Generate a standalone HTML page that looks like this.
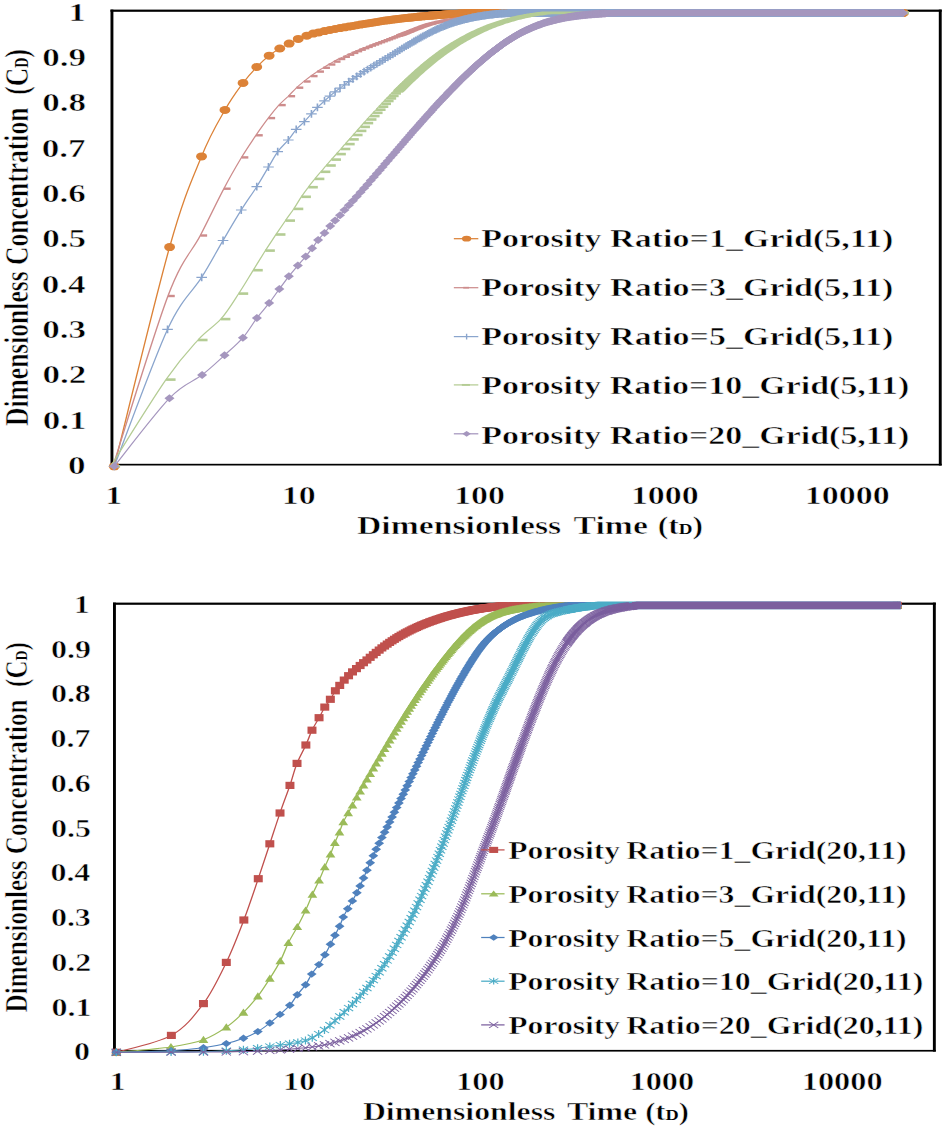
<!DOCTYPE html><html><head><meta charset="utf-8"><style>html,body{margin:0;padding:0;background:#fff;}svg{display:block;}text{font-family:"Liberation Serif",serif;font-weight:bold;fill:#000;stroke:#fff;stroke-width:0.5px;paint-order:fill;}</style></head><body>
<svg width="944" height="1128" viewBox="0 0 944 1128">
<rect width="944" height="1128" fill="#fff"/>
<defs>
<g id="tcircle"><circle r="4"/></g>
<g id="tdashp"><rect x="0" y="-1.2" width="5" height="2.4"/></g>
<g id="tplus"><path d="M-3.9,0H3.9M0,-3.9V3.9" stroke-width="1.2"/></g>
<g id="tdashg"><rect x="0" y="-1.3" width="7" height="2.6"/></g>
<g id="tdiamond"><path d="M0,-4L3.7,0L0,4L-3.7,0Z"/></g>
<g id="tsquare"><rect x="-3.3" y="-3.6" width="6.6" height="7.2"/></g>
<g id="ttriangle"><path d="M0,-4L3.6,3.2L-3.6,3.2Z"/></g>
<g id="tbdiamond"><path d="M0,-3.7L3.6,0L0,3.7L-3.6,0Z"/></g>
<g id="tasterisk"><path d="M-3.4,-3.1L3.4,3.1M-3.4,3.1L3.4,-3.1M0,-4V4" stroke-width="0.9"/></g>
<g id="txmark"><path d="M-3.4,-3.6L3.4,3.6M-3.4,3.6L3.4,-3.6" stroke-width="0.8"/></g>
<g id="bcircle"><circle r="4"/></g>
<g id="bdashp"><rect x="0" y="-1.2" width="5" height="2.4"/></g>
<g id="bplus"><path d="M-3.9,0H3.9M0,-3.9V3.9" stroke-width="1.2"/></g>
<g id="bdashg"><rect x="0" y="-1.3" width="7" height="2.6"/></g>
<g id="bdiamond"><path d="M0,-4L3.7,0L0,4L-3.7,0Z"/></g>
<g id="bsquare"><rect x="-3.3" y="-3.6" width="6.6" height="7.2"/></g>
<g id="btriangle"><path d="M0,-4L3.6,3.2L-3.6,3.2Z"/></g>
<g id="bbdiamond"><path d="M0,-3.7L3.6,0L0,3.7L-3.6,0Z"/></g>
<g id="basterisk"><path d="M-3.4,-3.1L3.4,3.1M-3.4,3.1L3.4,-3.1M0,-4V4" stroke-width="0.9"/></g>
<g id="bxmark"><path d="M-3.4,-3.6L3.4,3.6M-3.4,3.6L3.4,-3.6" stroke-width="0.8"/></g>
</defs>
<g fill="#000">
<rect x="110.5" y="9.6" width="831.2" height="2.2"/>
<rect x="110.5" y="9.6" width="2.9" height="455.9"/>
<rect x="938.8" y="9.6" width="2.9" height="455.9"/>
<rect x="110.5" y="463.8" width="831.2" height="1.7"/>
</g>
<g transform="scale(1.36 1)">
<path d="M84,466.3 C90.8,429.8 114,298.8 124.7,247.1 C135.4,195.4 141.4,179.2 148.2,156.4 C154.9,133.6 160.3,122.2 165.4,110 C170.5,97.8 174.8,90.2 178.7,83 C182.6,75.8 185.6,71.5 188.8,67 C192,62.5 195,58.8 197.9,55.7 C200.7,52.6 203.3,50.5 205.7,48.5 C208.2,46.5 210.3,45.2 212.6,43.6 C214.8,42 217.2,40.2 219.3,38.9 C221.5,37.6 223.8,36.6 225.6,35.7 C227.4,34.8 228.8,34.1 230.3,33.6 C231.7,33.1 232.9,32.8 234.3,32.4 C235.6,32 237.2,31.5 238.6,31.1 C240,30.6 241.3,30.3 242.6,29.9 C243.9,29.6 245.2,29.3 246.4,29 C247.6,28.7 248.8,28.4 250,28.1 C251.1,27.8 252.2,27.6 253.3,27.3 C254.4,27.1 255.5,26.8 256.5,26.6 C257.5,26.3 258.5,26.1 259.5,25.9 C260.5,25.6 261.4,25.4 262.3,25.2 C263.3,25 264.2,24.8 265.1,24.6 C266,24.4 266.8,24.2 267.7,24 C268.5,23.8 269.4,23.6 270.2,23.4 C271,23.2 271.8,23 272.6,22.9 C273.3,22.7 274.1,22.5 274.9,22.4 C275.6,22.2 276.3,22 277.1,21.9 C277.8,21.7 278.5,21.6 279.2,21.4 C279.9,21.3 280.6,21.2 281.3,21 C281.9,20.9 282.6,20.8 283.2,20.6 C283.9,20.5 284.5,20.4 285.2,20.3 C285.8,20.2 286.4,20 287,19.9 C287.6,19.8 288.2,19.7 288.8,19.6 C289.4,19.5 290,19.4 290.6,19.3 C291.1,19.2 291.7,19.1 292.3,19 C292.8,18.9 293.4,18.8 293.9,18.7 C294.5,18.7 295,18.6 295.5,18.5 C296,18.4 296.6,18.3 297.1,18.2 C297.6,18.2 298.1,18.1 298.6,18 C299.1,17.9 299.6,17.8 300.1,17.8 C300.6,17.7 301.1,17.6 301.5,17.6 C302,17.5 302.5,17.4 302.9,17.4 C303.4,17.3 303.9,17.2 304.3,17.2 C304.8,17.1 305.2,17 305.7,17 C306.1,16.9 306.6,16.9 307,16.8 C307.4,16.7 307.8,16.7 308.3,16.6 C308.7,16.6 309.1,16.5 309.5,16.5 C309.9,16.4 310.4,16.4 310.8,16.3 C311.2,16.3 311.6,16.2 312,16.2 C312.4,16.1 312.8,16.1 313.2,16 C313.5,16 313.9,15.9 314.3,15.9 C314.7,15.8 315.1,15.8 315.5,15.8 C315.8,15.7 316.2,15.7 316.6,15.6 C316.9,15.6 317.3,15.5 317.7,15.5 L318.8,15.4 L319.9,15.3 L321,15.2 L322.1,15 L323.2,14.9 L324.3,14.8 L325.4,14.7 L326.5,14.6 L327.6,14.5 L328.7,14.4 L329.8,14.3 L330.9,14.2 L332,14.1 L333.1,14 L334.2,13.9 L335.3,13.9 L336.4,13.8 L337.5,13.7 L338.6,13.6 L339.7,13.5 L340.8,13.4 L341.9,13.4 L343,13.3 L344.1,13.2 L345.2,13.2 L346.3,13.1 L347.5,13 L348.6,13 L349.7,12.9 L350.8,12.9 L351.9,12.9 L353,12.9 L354.1,12.9 L355.2,12.9 L356.3,12.9 L357.4,12.9 L358.5,12.9 L359.6,12.9 L360.7,12.9 L361.8,12.9 L362.9,12.9 L364,12.9 L365.1,12.9 L366.2,12.9 L367.3,12.9 L368.4,12.9 L369.5,12.9 L370.6,12.9 L371.7,12.9 L372.8,12.9 L373.9,12.9 L375,12.9 L376.1,12.9 L377.2,12.9 L378.3,12.9 L379.4,12.9 L380.5,12.9 L381.6,12.9 L382.7,12.9 L383.8,12.9 L385,12.9 L386.1,12.9 L387.2,12.9 L388.3,12.9 L389.4,12.9 L390.5,12.9 L391.6,12.9 L392.7,12.9 L393.8,12.9 L394.9,12.9 L396,12.9 L397.1,12.9 L398.2,12.9 L399.3,12.9 L400.4,12.9 L401.5,12.9 L402.6,12.9 L403.7,12.9 L404.8,12.9 L405.9,12.9 L407,12.9 L408.1,12.9 L409.2,12.9 L410.3,12.9 L411.4,12.9 L412.5,12.9 L413.6,12.9 L414.7,12.9 L415.8,12.9 L416.9,12.9 L418,12.9 L419.1,12.9 L420.2,12.9 L421.3,12.9 L422.5,12.9 L423.6,12.9 L424.7,12.9 L425.8,12.9 L426.9,12.9 L428,12.9 L429.1,12.9 L430.2,12.9 L431.3,12.9 L432.4,12.9 L433.5,12.9 L434.6,12.9 L435.7,12.9 L436.8,12.9 L437.9,12.9 L439,12.9 L440.1,12.9 L441.2,12.9 L442.3,12.9 L443.4,12.9 L444.5,12.9 L445.6,12.9 L446.7,12.9 L447.8,12.9 L448.9,12.9 L450,12.9 L451.1,12.9 L452.2,12.9 L453.3,12.9 L454.4,12.9 L455.5,12.9 L456.6,12.9 L457.7,12.9 L458.8,12.9 L460,12.9 L461.1,12.9 L462.2,12.9 L463.3,12.9 L464.4,12.9 L465.5,12.9 L466.6,12.9 L467.7,12.9 L468.8,12.9 L469.9,12.9 L471,12.9 L472.1,12.9 L473.2,12.9 L474.3,12.9 L475.4,12.9 L476.5,12.9 L477.6,12.9 L478.7,12.9 L479.8,12.9 L480.9,12.9 L482,12.9 L483.1,12.9 L484.2,12.9 L485.3,12.9 L486.4,12.9 L487.5,12.9 L488.6,12.9 L489.7,12.9 L490.8,12.9 L491.9,12.9 L493,12.9 L494.1,12.9 L495.2,12.9 L496.3,12.9 L497.5,12.9 L498.6,12.9 L499.7,12.9 L500.8,12.9 L501.9,12.9 L503,12.9 L504.1,12.9 L505.2,12.9 L506.3,12.9 L507.4,12.9 L508.5,12.9 L509.6,12.9 L510.7,12.9 L511.8,12.9 L512.9,12.9 L514,12.9 L515.1,12.9 L516.2,12.9 L517.3,12.9 L518.4,12.9 L519.5,12.9 L520.6,12.9 L521.7,12.9 L522.8,12.9 L523.9,12.9 L525,12.9 L526.1,12.9 L527.2,12.9 L528.3,12.9 L529.4,12.9 L530.5,12.9 L531.6,12.9 L532.7,12.9 L533.8,12.9 L535,12.9 L536.1,12.9 L537.2,12.9 L538.3,12.9 L539.4,12.9 L540.5,12.9 L541.6,12.9 L542.7,12.9 L543.8,12.9 L544.9,12.9 L546,12.9 L547.1,12.9 L548.2,12.9 L549.3,12.9 L550.4,12.9 L551.5,12.9 L552.6,12.9 L553.7,12.9 L554.8,12.9 L555.9,12.9 L557,12.9 L558.1,12.9 L559.2,12.9 L560.3,12.9 L561.4,12.9 L562.5,12.9 L563.6,12.9 L564.7,12.9 L565.8,12.9 L566.9,12.9 L568,12.9 L569.1,12.9 L570.2,12.9 L571.3,12.9 L572.5,12.9 L573.6,12.9 L574.7,12.9 L575.8,12.9 L576.9,12.9 L578,12.9 L579.1,12.9 L580.2,12.9 L581.3,12.9 L582.4,12.9 L583.5,12.9 L584.6,12.9 L585.7,12.9 L586.8,12.9 L587.9,12.9 L589,12.9 L590.1,12.9 L591.2,12.9 L592.3,12.9 L593.4,12.9 L594.5,12.9 L595.6,12.9 L596.7,12.9 L597.8,12.9 L598.9,12.9 L600,12.9 L601.1,12.9 L602.2,12.9 L603.3,12.9 L604.4,12.9 L605.5,12.9 L606.6,12.9 L607.7,12.9 L608.8,12.9 L610,12.9 L611.1,12.9 L612.2,12.9 L613.3,12.9 L614.4,12.9 L615.5,12.9 L616.6,12.9 L617.7,12.9 L618.8,12.9 L619.9,12.9 L621,12.9 L622.1,12.9 L623.2,12.9 L624.3,12.9 L625.4,12.9 L626.5,12.9 L627.6,12.9 L628.7,12.9 L629.8,12.9 L630.9,12.9 L632,12.9 L633.1,12.9 L634.2,12.9 L635.3,12.9 L636.4,12.9 L637.5,12.9 L638.6,12.9 L639.7,12.9 L640.8,12.9 L641.9,12.9 L643,12.9 L644.1,12.9 L645.2,12.9 L646.3,12.9 L647.5,12.9 L648.6,12.9 L649.7,12.9 L650.8,12.9 L651.9,12.9 L653,12.9 L654.1,12.9 L655.2,12.9 L656.3,12.9 L657.4,12.9 L658.5,12.9 L659.6,12.9 L660.7,12.9 L661.8,12.9 L662.9,12.9 L664,12.9 L664.1,12.9" fill="none" stroke="#DC8237" stroke-width="1"/>
<path d="M353.8,12.9 L354.9,12.9 L356,12.9 L357.1,12.9 L358.2,12.9 L359.3,12.9 L360.4,12.9 L361.5,12.9 L362.6,12.9 L363.7,12.9 L364.8,12.9 L365.9,12.9 L367,12.9 L368.1,12.9 L369.2,12.9 L370.3,12.9 L371.4,12.9 L372.5,12.9 L373.6,12.9 L374.7,12.9 L375.8,12.9 L376.9,12.9 L378,12.9 L379.1,12.9 L380.2,12.9 L381.3,12.9 L382.4,12.9 L383.5,12.9 L384.6,12.9 L385.7,12.9 L386.8,12.9 L387.9,12.9 L389,12.9 L390.1,12.9 L391.2,12.9 L392.4,12.9 L393.5,12.9 L394.6,12.9 L395.7,12.9 L396.8,12.9 L397.9,12.9 L399,12.9 L400.1,12.9 L401.2,12.9 L402.3,12.9 L403.4,12.9 L404.5,12.9 L405.6,12.9 L406.7,12.9 L407.8,12.9 L408.9,12.9 L410,12.9 L411.1,12.9 L412.2,12.9 L413.3,12.9 L414.4,12.9 L415.5,12.9 L416.6,12.9 L417.7,12.9 L418.8,12.9 L419.9,12.9 L421,12.9 L422.1,12.9 L423.2,12.9 L424.3,12.9 L425.4,12.9 L426.5,12.9 L427.6,12.9 L428.8,12.9 L429.9,12.9 L431,12.9 L432.1,12.9 L433.2,12.9 L434.3,12.9 L435.4,12.9 L436.5,12.9 L437.6,12.9 L438.7,12.9 L439.8,12.9 L440.9,12.9 L442,12.9 L443.1,12.9 L444.2,12.9 L445.3,12.9 L446.4,12.9 L447.5,12.9 L448.6,12.9 L449.7,12.9 L450.8,12.9 L451.9,12.9 L453,12.9 L454.1,12.9 L455.2,12.9 L456.3,12.9 L457.4,12.9 L458.5,12.9 L459.6,12.9 L460.7,12.9 L461.8,12.9 L462.9,12.9 L464,12.9 L465.1,12.9 L466.2,12.9 L467.4,12.9 L468.5,12.9 L469.6,12.9 L470.7,12.9 L471.8,12.9 L472.9,12.9 L474,12.9 L475.1,12.9 L476.2,12.9 L477.3,12.9 L478.4,12.9 L479.5,12.9 L480.6,12.9 L481.7,12.9 L482.8,12.9 L483.9,12.9 L485,12.9 L486.1,12.9 L487.2,12.9 L488.3,12.9 L489.4,12.9 L490.5,12.9 L491.6,12.9 L492.7,12.9 L493.8,12.9 L494.9,12.9 L496,12.9 L497.1,12.9 L498.2,12.9 L499.3,12.9 L500.4,12.9 L501.5,12.9 L502.6,12.9 L503.8,12.9 L504.9,12.9 L506,12.9 L507.1,12.9 L508.2,12.9 L509.3,12.9 L510.4,12.9 L511.5,12.9 L512.6,12.9 L513.7,12.9 L514.8,12.9 L515.9,12.9 L517,12.9 L518.1,12.9 L519.2,12.9 L520.3,12.9 L521.4,12.9 L522.5,12.9 L523.6,12.9 L524.7,12.9 L525.8,12.9 L526.9,12.9 L528,12.9 L529.1,12.9 L530.2,12.9 L531.3,12.9 L532.4,12.9 L533.5,12.9 L534.6,12.9 L535.7,12.9 L536.8,12.9 L537.9,12.9 L539,12.9 L540.1,12.9 L541.2,12.9 L542.4,12.9 L543.5,12.9 L544.6,12.9 L545.7,12.9 L546.8,12.9 L547.9,12.9 L549,12.9 L550.1,12.9 L551.2,12.9 L552.3,12.9 L553.4,12.9 L554.5,12.9 L555.6,12.9 L556.7,12.9 L557.8,12.9 L558.9,12.9 L560,12.9 L561.1,12.9 L562.2,12.9 L563.3,12.9 L564.4,12.9 L565.5,12.9 L566.6,12.9 L567.7,12.9 L568.8,12.9 L569.9,12.9 L571,12.9 L572.1,12.9 L573.2,12.9 L574.3,12.9 L575.4,12.9 L576.5,12.9 L577.6,12.9 L578.8,12.9 L579.9,12.9 L581,12.9 L582.1,12.9 L583.2,12.9 L584.3,12.9 L585.4,12.9 L586.5,12.9 L587.6,12.9 L588.7,12.9 L589.8,12.9 L590.9,12.9 L592,12.9 L593.1,12.9 L594.2,12.9 L595.3,12.9 L596.4,12.9 L597.5,12.9 L598.6,12.9 L599.7,12.9 L600.8,12.9 L601.9,12.9 L603,12.9 L604.1,12.9 L605.2,12.9 L606.3,12.9 L607.4,12.9 L608.5,12.9 L609.6,12.9 L610.7,12.9 L611.8,12.9 L612.9,12.9 L614,12.9 L615.1,12.9 L616.2,12.9 L617.4,12.9 L618.5,12.9 L619.6,12.9 L620.7,12.9 L621.8,12.9 L622.9,12.9 L624,12.9 L625.1,12.9 L626.2,12.9 L627.3,12.9 L628.4,12.9 L629.5,12.9 L630.6,12.9 L631.7,12.9 L632.8,12.9 L633.9,12.9 L635,12.9 L636.1,12.9 L637.2,12.9 L638.3,12.9 L639.4,12.9 L640.5,12.9 L641.6,12.9 L642.7,12.9 L643.8,12.9 L644.9,12.9 L646,12.9 L647.1,12.9 L648.2,12.9 L649.3,12.9 L650.4,12.9 L651.5,12.9 L652.6,12.9 L653.8,12.9 L654.9,12.9 L656,12.9 L657.1,12.9 L658.2,12.9 L659.3,12.9 L660.4,12.9 L661.5,12.9 L662.6,12.9 L663.7,12.9 L664.1,12.9" fill="none" stroke="#DC8237" stroke-width="8" stroke-linecap="round" stroke-linejoin="round"/>
<g fill="#DC8237">
<use href="#tcircle" x="84" y="466.3"/>
<use href="#tcircle" x="124.7" y="247.1"/>
<use href="#tcircle" x="148.2" y="156.4"/>
<use href="#tcircle" x="165.4" y="110"/>
<use href="#tcircle" x="178.7" y="83"/>
<use href="#tcircle" x="188.8" y="67"/>
<use href="#tcircle" x="197.9" y="55.7"/>
<use href="#tcircle" x="205.7" y="48.5"/>
<use href="#tcircle" x="212.6" y="43.6"/>
<use href="#tcircle" x="219.3" y="38.9"/>
<use href="#tcircle" x="225.6" y="35.7"/>
<use href="#tcircle" x="230.3" y="33.6"/>
<use href="#tcircle" x="234.3" y="32.4"/>
<use href="#tcircle" x="238.6" y="31.1"/>
<use href="#tcircle" x="242.6" y="29.9"/>
<use href="#tcircle" x="246.4" y="29"/>
<use href="#tcircle" x="250" y="28.1"/>
<use href="#tcircle" x="253.3" y="27.3"/>
<use href="#tcircle" x="256.5" y="26.6"/>
<use href="#tcircle" x="259.5" y="25.9"/>
<use href="#tcircle" x="262.3" y="25.2"/>
<use href="#tcircle" x="265.1" y="24.6"/>
<use href="#tcircle" x="267.7" y="24"/>
<use href="#tcircle" x="270.2" y="23.4"/>
<use href="#tcircle" x="272.6" y="22.9"/>
<use href="#tcircle" x="274.9" y="22.4"/>
<use href="#tcircle" x="277.1" y="21.9"/>
<use href="#tcircle" x="279.2" y="21.4"/>
<use href="#tcircle" x="281.3" y="21"/>
<use href="#tcircle" x="283.2" y="20.6"/>
<use href="#tcircle" x="285.2" y="20.3"/>
<use href="#tcircle" x="287" y="19.9"/>
<use href="#tcircle" x="288.8" y="19.6"/>
<use href="#tcircle" x="290.6" y="19.3"/>
<use href="#tcircle" x="292.3" y="19"/>
<use href="#tcircle" x="293.9" y="18.7"/>
<use href="#tcircle" x="295.5" y="18.5"/>
<use href="#tcircle" x="297.1" y="18.2"/>
<use href="#tcircle" x="298.6" y="18"/>
<use href="#tcircle" x="300.1" y="17.8"/>
<use href="#tcircle" x="301.5" y="17.6"/>
<use href="#tcircle" x="302.9" y="17.4"/>
<use href="#tcircle" x="304.3" y="17.2"/>
<use href="#tcircle" x="305.7" y="17"/>
<use href="#tcircle" x="307" y="16.8"/>
<use href="#tcircle" x="308.3" y="16.6"/>
<use href="#tcircle" x="309.5" y="16.5"/>
<use href="#tcircle" x="310.8" y="16.3"/>
<use href="#tcircle" x="312" y="16.2"/>
<use href="#tcircle" x="313.2" y="16"/>
<use href="#tcircle" x="314.3" y="15.9"/>
<use href="#tcircle" x="315.5" y="15.8"/>
<use href="#tcircle" x="316.6" y="15.6"/>
<use href="#tcircle" x="317.7" y="15.5"/>
<use href="#tcircle" x="318.7" y="15.4"/>
<use href="#tcircle" x="319.8" y="15.3"/>
<use href="#tcircle" x="320.8" y="15.2"/>
<use href="#tcircle" x="321.8" y="15.1"/>
<use href="#tcircle" x="322.8" y="15"/>
<use href="#tcircle" x="323.8" y="14.9"/>
<use href="#tcircle" x="324.8" y="14.8"/>
<use href="#tcircle" x="325.8" y="14.7"/>
<use href="#tcircle" x="326.7" y="14.6"/>
<use href="#tcircle" x="327.6" y="14.5"/>
<use href="#tcircle" x="328.5" y="14.4"/>
<use href="#tcircle" x="329.4" y="14.3"/>
<use href="#tcircle" x="330.3" y="14.3"/>
<use href="#tcircle" x="331.2" y="14.2"/>
<use href="#tcircle" x="332" y="14.1"/>
<use href="#tcircle" x="332.9" y="14"/>
<use href="#tcircle" x="333.7" y="14"/>
<use href="#tcircle" x="334.5" y="13.9"/>
<use href="#tcircle" x="335.3" y="13.9"/>
<use href="#tcircle" x="336.1" y="13.8"/>
<use href="#tcircle" x="336.9" y="13.7"/>
<use href="#tcircle" x="337.7" y="13.7"/>
<use href="#tcircle" x="338.4" y="13.6"/>
<use href="#tcircle" x="339.2" y="13.6"/>
<use href="#tcircle" x="339.9" y="13.5"/>
<use href="#tcircle" x="340.7" y="13.5"/>
<use href="#tcircle" x="341.4" y="13.4"/>
<use href="#tcircle" x="342.1" y="13.4"/>
<use href="#tcircle" x="342.8" y="13.3"/>
<use href="#tcircle" x="343.5" y="13.3"/>
<use href="#tcircle" x="344.2" y="13.2"/>
<use href="#tcircle" x="344.9" y="13.2"/>
<use href="#tcircle" x="345.6" y="13.1"/>
<use href="#tcircle" x="346.3" y="13.1"/>
<use href="#tcircle" x="346.9" y="13.1"/>
<use href="#tcircle" x="347.6" y="13"/>
<use href="#tcircle" x="348.2" y="13"/>
<use href="#tcircle" x="348.9" y="13"/>
<use href="#tcircle" x="349.5" y="12.9"/>
<use href="#tcircle" x="350.1" y="12.9"/>
<use href="#tcircle" x="350.7" y="12.9"/>
<use href="#tcircle" x="351.4" y="12.9"/>
<use href="#tcircle" x="352" y="12.9"/>
<use href="#tcircle" x="352.6" y="12.9"/>
<use href="#tcircle" x="353.2" y="12.9"/>
<use href="#tcircle" x="353.8" y="12.9"/>
<use href="#tcircle" x="664.1" y="12.9"/>
</g>
<path d="M83,466.3 C89.8,437.9 112.8,334.5 123.5,296 C134.2,257.5 140.4,253.4 147.3,235.5 C154.1,217.6 159.5,201.7 164.6,188.7 C169.6,175.7 173.7,166.3 177.6,157.4 C181.6,148.5 185,141.9 188.2,135.3 C191.5,128.8 194.5,123.1 197.3,118.1 C200.1,113.1 202.7,108.8 205.1,105.1 C207.6,101.4 209.8,99.1 212,96.2 C214.1,93.3 216.1,90.2 218,87.7 C219.9,85.2 221.7,83.4 223.4,81.5 C225.2,79.5 226.9,77.7 228.5,76.1 C230.2,74.5 231.7,73 233.2,71.6 C234.7,70.2 236.2,69 237.6,67.8 C239,66.6 240.3,65.5 241.6,64.5 C242.9,63.4 244.2,62.5 245.4,61.6 C246.6,60.7 247.8,59.8 248.9,59 C250.1,58.2 251.2,57.5 252.3,56.8 C253.4,56 254.4,55.4 255.5,54.7 C256.5,54.1 257.5,53.5 258.5,52.9 C259.4,52.3 260.4,51.7 261.3,51.2 C262.3,50.7 263.2,50.2 264,49.7 C264.9,49.2 265.8,48.7 266.6,48.2 C267.5,47.8 268.3,47.3 269.1,46.9 C270,46.5 270.7,46 271.5,45.6 C272.3,45.2 273.1,44.8 273.8,44.5 C274.6,44.1 275.3,43.7 276,43.3 C276.8,43 277.5,42.6 278.2,42.2 C278.9,41.9 279.5,41.6 280.2,41.2 C280.9,40.9 281.6,40.5 282.2,40.2 C282.9,39.9 283.5,39.6 284.1,39.3 C284.8,38.9 285.4,38.6 286,38.3 C286.6,38 287.2,37.7 287.8,37.4 C288.4,37.1 289,36.8 289.5,36.5 C290.1,36.2 290.7,35.9 291.2,35.6 C291.8,35.3 292.3,35 292.9,34.8 C293.4,34.5 294,34.2 294.5,33.9 C295,33.6 295.5,33.3 296.1,33.1 C296.6,32.8 297.1,32.5 297.6,32.2 C298.1,32 298.6,31.7 299.1,31.4 C299.5,31.2 300,30.9 300.5,30.6 C301,30.4 301.4,30.1 301.9,29.9 C302.4,29.6 302.8,29.4 303.3,29.1 C303.7,28.9 304.2,28.7 304.6,28.4 C305.1,28.2 305.5,28 306,27.7 C306.4,27.5 306.8,27.3 307.2,27.1 C307.7,26.9 308.1,26.7 308.5,26.5 C308.9,26.3 309.3,26.1 309.7,25.9 C310.1,25.7 310.5,25.5 310.9,25.3 C311.3,25.2 311.7,25 312.1,24.8 C312.5,24.7 312.9,24.5 313.3,24.3 C313.7,24.2 314,24 314.4,23.9 C314.8,23.8 315.2,23.6 315.5,23.5 C315.9,23.3 316.3,23.2 316.6,23.1 L317.7,22.7 L318.8,22.4 L320,22 L321.1,21.7 L322.2,21.4 L323.3,21.1 L324.4,20.8 L325.5,20.5 L326.6,20.3 L327.7,20 L328.8,19.8 L329.9,19.5 L331,19.3 L332.1,19.1 L333.2,18.9 L334.3,18.7 L335.4,18.4 L336.5,18.2 L337.6,18 L338.7,17.8 L339.8,17.6 L340.9,17.4 L342,17.3 L343.1,17.1 L344.2,16.9 L345.3,16.7 L346.4,16.5 L347.5,16.4 L348.6,16.2 L349.7,16.1 L350.8,15.9 L351.9,15.7 L353,15.6 L354.1,15.5 L355.2,15.3 L356.3,15.2 L357.5,15 L358.6,14.9 L359.7,14.8 L360.8,14.7 L361.9,14.5 L363,14.4 L364.1,14.3 L365.2,14.2 L366.3,14.1 L367.4,14 L368.5,13.9 L369.6,13.8 L370.7,13.7 L371.8,13.6 L372.9,13.5 L374,13.4 L375.1,13.4 L376.2,13.3 L377.3,13.2 L378.4,13.1 L379.5,13.1 L380.6,13 L381.7,12.9 L382.8,12.9 L383.9,12.9 L385,12.9 L386.1,12.9 L387.2,12.9 L388.3,12.9 L389.4,12.9 L390.5,12.9 L391.6,12.9 L392.7,12.9 L393.8,12.9 L395,12.9 L396.1,12.9 L397.2,12.9 L398.3,12.9 L399.4,12.9 L400.5,12.9 L401.6,12.9 L402.7,12.9 L403.8,12.9 L404.9,12.9 L406,12.9 L407.1,12.9 L408.2,12.9 L409.3,12.9 L410.4,12.9 L411.5,12.9 L412.6,12.9 L413.7,12.9 L414.8,12.9 L415.9,12.9 L417,12.9 L418.1,12.9 L419.2,12.9 L420.3,12.9 L421.4,12.9 L422.5,12.9 L423.6,12.9 L424.7,12.9 L425.8,12.9 L426.9,12.9 L428,12.9 L429.1,12.9 L430.2,12.9 L431.3,12.9 L432.5,12.9 L433.6,12.9 L434.7,12.9 L435.8,12.9 L436.9,12.9 L438,12.9 L439.1,12.9 L440.2,12.9 L441.3,12.9 L442.4,12.9 L443.5,12.9 L444.6,12.9 L445.7,12.9 L446.8,12.9 L447.9,12.9 L449,12.9 L450.1,12.9 L451.2,12.9 L452.3,12.9 L453.4,12.9 L454.5,12.9 L455.6,12.9 L456.7,12.9 L457.8,12.9 L458.9,12.9 L460,12.9 L461.1,12.9 L462.2,12.9 L463.3,12.9 L464.4,12.9 L465.5,12.9 L466.6,12.9 L467.7,12.9 L468.8,12.9 L470,12.9 L471.1,12.9 L472.2,12.9 L473.3,12.9 L474.4,12.9 L475.5,12.9 L476.6,12.9 L477.7,12.9 L478.8,12.9 L479.9,12.9 L481,12.9 L482.1,12.9 L483.2,12.9 L484.3,12.9 L485.4,12.9 L486.5,12.9 L487.6,12.9 L488.7,12.9 L489.8,12.9 L490.9,12.9 L492,12.9 L493.1,12.9 L494.2,12.9 L495.3,12.9 L496.4,12.9 L497.5,12.9 L498.6,12.9 L499.7,12.9 L500.8,12.9 L501.9,12.9 L503,12.9 L504.1,12.9 L505.2,12.9 L506.3,12.9 L507.5,12.9 L508.6,12.9 L509.7,12.9 L510.8,12.9 L511.9,12.9 L513,12.9 L514.1,12.9 L515.2,12.9 L516.3,12.9 L517.4,12.9 L518.5,12.9 L519.6,12.9 L520.7,12.9 L521.8,12.9 L522.9,12.9 L524,12.9 L525.1,12.9 L526.2,12.9 L527.3,12.9 L528.4,12.9 L529.5,12.9 L530.6,12.9 L531.7,12.9 L532.8,12.9 L533.9,12.9 L535,12.9 L536.1,12.9 L537.2,12.9 L538.3,12.9 L539.4,12.9 L540.5,12.9 L541.6,12.9 L542.7,12.9 L543.8,12.9 L545,12.9 L546.1,12.9 L547.2,12.9 L548.3,12.9 L549.4,12.9 L550.5,12.9 L551.6,12.9 L552.7,12.9 L553.8,12.9 L554.9,12.9 L556,12.9 L557.1,12.9 L558.2,12.9 L559.3,12.9 L560.4,12.9 L561.5,12.9 L562.6,12.9 L563.7,12.9 L564.8,12.9 L565.9,12.9 L567,12.9 L568.1,12.9 L569.2,12.9 L570.3,12.9 L571.4,12.9 L572.5,12.9 L573.6,12.9 L574.7,12.9 L575.8,12.9 L576.9,12.9 L578,12.9 L579.1,12.9 L580.2,12.9 L581.3,12.9 L582.5,12.9 L583.6,12.9 L584.7,12.9 L585.8,12.9 L586.9,12.9 L588,12.9 L589.1,12.9 L590.2,12.9 L591.3,12.9 L592.4,12.9 L593.5,12.9 L594.6,12.9 L595.7,12.9 L596.8,12.9 L597.9,12.9 L599,12.9 L600.1,12.9 L601.2,12.9 L602.3,12.9 L603.4,12.9 L604.5,12.9 L605.6,12.9 L606.7,12.9 L607.8,12.9 L608.9,12.9 L610,12.9 L611.1,12.9 L612.2,12.9 L613.3,12.9 L614.4,12.9 L615.5,12.9 L616.6,12.9 L617.7,12.9 L618.8,12.9 L620,12.9 L621.1,12.9 L622.2,12.9 L623.3,12.9 L624.4,12.9 L625.5,12.9 L626.6,12.9 L627.7,12.9 L628.8,12.9 L629.9,12.9 L631,12.9 L632.1,12.9 L633.2,12.9 L634.3,12.9 L635.4,12.9 L636.5,12.9 L637.6,12.9 L638.7,12.9 L639.8,12.9 L640.9,12.9 L642,12.9 L643.1,12.9 L644.2,12.9 L645.3,12.9 L646.4,12.9 L647.5,12.9 L648.6,12.9 L649.7,12.9 L650.8,12.9 L651.9,12.9 L653,12.9 L654.1,12.9 L655.2,12.9 L656.3,12.9 L657.5,12.9 L658.6,12.9 L659.7,12.9 L660.8,12.9 L661.9,12.9 L663,12.9 L663,12.9" fill="none" stroke="#CD8C8C" stroke-width="1"/>
<polygon points="291.2,34.4 292.3,33.8 293.4,33.3 294.5,32.7 295.6,32.1 296.8,31.5 297.9,30.9 299,30.3 300.1,29.7 301.2,29.1 302.3,28.5 303.4,27.9 304.5,27.3 305.6,26.7 306.7,26.2 307.8,25.6 308.9,25.1 310,24.6 311.1,24.1 312.2,23.6 313.3,23.1 314.4,22.7 315.5,22.3 316.6,21.9 317.7,21.5 318.8,21.2 319.9,20.8 321,20.5 322.1,20.2 323.2,19.9 324.3,19.6 325.4,19.3 326.5,19.1 327.6,18.8 328.7,18.6 329.8,18.4 330.9,18.1 332,17.9 333.1,17.7 334.3,17.5 335.4,17.3 336.5,17 337.6,16.8 338.7,16.6 339.8,16.4 340.9,16.3 342,16.1 343.1,15.9 344.2,15.7 345.3,15.5 346.4,15.4 347.5,15.2 348.6,15 349.7,14.9 350.8,14.7 351.9,14.6 353,14.4 354.1,14.3 355.2,14.1 356.3,14 357.4,13.8 358.5,13.7 359.6,13.6 360.7,13.5 361.8,13.3 362.9,13.2 364,13.1 365.1,13 366.2,12.9 367.3,12.8 368.4,12.7 369.5,12.6 370.6,12.5 371.8,12.4 372.9,12.3 374,12.2 375.1,12.2 376.2,12.1 377.3,12 378.4,11.9 379.5,11.9 380.6,11.8 381.7,11.7 382.8,11.7 383.9,11.7 385,11.7 386.1,11.7 387.2,11.7 388.3,11.7 389.4,11.7 390.5,11.7 391.6,11.7 392.7,11.7 393.8,11.7 394.9,11.7 396,11.7 397.1,11.7 398.2,11.7 399.3,11.7 400.4,11.7 401.5,11.7 402.6,11.7 403.7,11.7 404.8,11.7 405.9,11.7 407,11.7 408.1,11.7 409.3,11.7 410.4,11.7 411.5,11.7 412.6,11.7 413.7,11.7 414.8,11.7 415.9,11.7 417,11.7 418.1,11.7 419.2,11.7 420.3,11.7 421.4,11.7 422.5,11.7 423.6,11.7 424.7,11.7 425.8,11.7 426.9,11.7 428,11.7 429.1,11.7 430.2,11.7 431.3,11.7 432.4,11.7 433.5,11.7 434.6,11.7 435.7,11.7 436.8,11.7 437.9,11.7 439,11.7 440.1,11.7 441.2,11.7 442.3,11.7 443.4,11.7 444.5,11.7 445.6,11.7 446.8,11.7 447.9,11.7 449,11.7 450.1,11.7 451.2,11.7 452.3,11.7 453.4,11.7 454.5,11.7 455.6,11.7 456.7,11.7 457.8,11.7 458.9,11.7 460,11.7 461.1,11.7 462.2,11.7 463.3,11.7 464.4,11.7 465.5,11.7 466.6,11.7 467.7,11.7 468.8,11.7 469.9,11.7 471,11.7 472.1,11.7 473.2,11.7 474.3,11.7 475.4,11.7 476.5,11.7 477.6,11.7 478.7,11.7 479.8,11.7 480.9,11.7 482,11.7 483.1,11.7 484.3,11.7 485.4,11.7 486.5,11.7 487.6,11.7 488.7,11.7 489.8,11.7 490.9,11.7 492,11.7 493.1,11.7 494.2,11.7 495.3,11.7 496.4,11.7 497.5,11.7 498.6,11.7 499.7,11.7 500.8,11.7 501.9,11.7 503,11.7 504.1,11.7 505.2,11.7 506.3,11.7 507.4,11.7 508.5,11.7 509.6,11.7 510.7,11.7 511.8,11.7 512.9,11.7 514,11.7 515.1,11.7 516.2,11.7 517.3,11.7 518.4,11.7 519.5,11.7 520.6,11.7 521.8,11.7 522.9,11.7 524,11.7 525.1,11.7 526.2,11.7 527.3,11.7 528.4,11.7 529.5,11.7 530.6,11.7 531.7,11.7 532.8,11.7 533.9,11.7 535,11.7 536.1,11.7 537.2,11.7 538.3,11.7 539.4,11.7 540.5,11.7 541.6,11.7 542.7,11.7 543.8,11.7 544.9,11.7 546,11.7 547.1,11.7 548.2,11.7 549.3,11.7 550.4,11.7 551.5,11.7 552.6,11.7 553.7,11.7 554.8,11.7 555.9,11.7 557,11.7 558.1,11.7 559.3,11.7 560.4,11.7 561.5,11.7 562.6,11.7 563.7,11.7 564.8,11.7 565.9,11.7 567,11.7 568.1,11.7 569.2,11.7 570.3,11.7 571.4,11.7 572.5,11.7 573.6,11.7 574.7,11.7 575.8,11.7 576.9,11.7 578,11.7 579.1,11.7 580.2,11.7 581.3,11.7 582.4,11.7 583.5,11.7 584.6,11.7 585.7,11.7 586.8,11.7 587.9,11.7 589,11.7 590.1,11.7 591.2,11.7 592.3,11.7 593.4,11.7 594.5,11.7 595.6,11.7 596.8,11.7 597.9,11.7 599,11.7 600.1,11.7 601.2,11.7 602.3,11.7 603.4,11.7 604.5,11.7 605.6,11.7 606.7,11.7 607.8,11.7 608.9,11.7 610,11.7 611.1,11.7 612.2,11.7 613.3,11.7 614.4,11.7 615.5,11.7 616.6,11.7 617.7,11.7 618.8,11.7 619.9,11.7 621,11.7 622.1,11.7 623.2,11.7 624.3,11.7 625.4,11.7 626.5,11.7 627.6,11.7 628.7,11.7 629.8,11.7 630.9,11.7 632,11.7 633.1,11.7 634.3,11.7 635.4,11.7 636.5,11.7 637.6,11.7 638.7,11.7 639.8,11.7 640.9,11.7 642,11.7 643.1,11.7 644.2,11.7 645.3,11.7 646.4,11.7 647.5,11.7 648.6,11.7 649.7,11.7 650.8,11.7 651.9,11.7 653,11.7 654.1,11.7 655.2,11.7 656.3,11.7 657.4,11.7 658.5,11.7 659.6,11.7 660.7,11.7 661.8,11.7 662.9,11.7 664,11.7 665.1,11.7 666.2,11.7 667.3,11.7 668,11.7 668,14.1 667.3,14.1 666.2,14.1 665.1,14.1 664,14.1 662.9,14.1 661.8,14.1 660.7,14.1 659.6,14.1 658.5,14.1 657.4,14.1 656.3,14.1 655.2,14.1 654.1,14.1 653,14.1 651.9,14.1 650.8,14.1 649.7,14.1 648.6,14.1 647.5,14.1 646.4,14.1 645.3,14.1 644.2,14.1 643.1,14.1 642,14.1 640.9,14.1 639.8,14.1 638.7,14.1 637.6,14.1 636.5,14.1 635.4,14.1 634.3,14.1 633.1,14.1 632,14.1 630.9,14.1 629.8,14.1 628.7,14.1 627.6,14.1 626.5,14.1 625.4,14.1 624.3,14.1 623.2,14.1 622.1,14.1 621,14.1 619.9,14.1 618.8,14.1 617.7,14.1 616.6,14.1 615.5,14.1 614.4,14.1 613.3,14.1 612.2,14.1 611.1,14.1 610,14.1 608.9,14.1 607.8,14.1 606.7,14.1 605.6,14.1 604.5,14.1 603.4,14.1 602.3,14.1 601.2,14.1 600.1,14.1 599,14.1 597.9,14.1 596.8,14.1 595.6,14.1 594.5,14.1 593.4,14.1 592.3,14.1 591.2,14.1 590.1,14.1 589,14.1 587.9,14.1 586.8,14.1 585.7,14.1 584.6,14.1 583.5,14.1 582.4,14.1 581.3,14.1 580.2,14.1 579.1,14.1 578,14.1 576.9,14.1 575.8,14.1 574.7,14.1 573.6,14.1 572.5,14.1 571.4,14.1 570.3,14.1 569.2,14.1 568.1,14.1 567,14.1 565.9,14.1 564.8,14.1 563.7,14.1 562.6,14.1 561.5,14.1 560.4,14.1 559.3,14.1 558.1,14.1 557,14.1 555.9,14.1 554.8,14.1 553.7,14.1 552.6,14.1 551.5,14.1 550.4,14.1 549.3,14.1 548.2,14.1 547.1,14.1 546,14.1 544.9,14.1 543.8,14.1 542.7,14.1 541.6,14.1 540.5,14.1 539.4,14.1 538.3,14.1 537.2,14.1 536.1,14.1 535,14.1 533.9,14.1 532.8,14.1 531.7,14.1 530.6,14.1 529.5,14.1 528.4,14.1 527.3,14.1 526.2,14.1 525.1,14.1 524,14.1 522.9,14.1 521.8,14.1 520.6,14.1 519.5,14.1 518.4,14.1 517.3,14.1 516.2,14.1 515.1,14.1 514,14.1 512.9,14.1 511.8,14.1 510.7,14.1 509.6,14.1 508.5,14.1 507.4,14.1 506.3,14.1 505.2,14.1 504.1,14.1 503,14.1 501.9,14.1 500.8,14.1 499.7,14.1 498.6,14.1 497.5,14.1 496.4,14.1 495.3,14.1 494.2,14.1 493.1,14.1 492,14.1 490.9,14.1 489.8,14.1 488.7,14.1 487.6,14.1 486.5,14.1 485.4,14.1 484.3,14.1 483.1,14.1 482,14.1 480.9,14.1 479.8,14.1 478.7,14.1 477.6,14.1 476.5,14.1 475.4,14.1 474.3,14.1 473.2,14.1 472.1,14.1 471,14.1 469.9,14.1 468.8,14.1 467.7,14.1 466.6,14.1 465.5,14.1 464.4,14.1 463.3,14.1 462.2,14.1 461.1,14.1 460,14.1 458.9,14.1 457.8,14.1 456.7,14.1 455.6,14.1 454.5,14.1 453.4,14.1 452.3,14.1 451.2,14.1 450.1,14.1 449,14.1 447.9,14.1 446.8,14.1 445.6,14.1 444.5,14.1 443.4,14.1 442.3,14.1 441.2,14.1 440.1,14.1 439,14.1 437.9,14.1 436.8,14.1 435.7,14.1 434.6,14.1 433.5,14.1 432.4,14.1 431.3,14.1 430.2,14.1 429.1,14.1 428,14.1 426.9,14.1 425.8,14.1 424.7,14.1 423.6,14.1 422.5,14.1 421.4,14.1 420.3,14.1 419.2,14.1 418.1,14.1 417,14.1 415.9,14.1 414.8,14.1 413.7,14.1 412.6,14.1 411.5,14.1 410.4,14.1 409.3,14.1 408.1,14.1 407,14.1 405.9,14.1 404.8,14.1 403.7,14.1 402.6,14.1 401.5,14.1 400.4,14.1 399.3,14.1 398.2,14.1 397.1,14.1 396,14.1 394.9,14.1 393.8,14.1 392.7,14.1 391.6,14.1 390.5,14.1 389.4,14.1 388.3,14.1 387.2,14.1 386.1,14.2 385,14.2 383.9,14.3 382.8,14.4 381.7,14.4 380.6,14.5 379.5,14.6 378.4,14.7 377.3,14.8 376.2,14.9 375.1,14.9 374,15 372.9,15.1 371.8,15.2 370.6,15.3 369.5,15.5 368.4,15.6 367.3,15.7 366.2,15.8 365.1,15.9 364,16 362.9,16.2 361.8,16.3 360.7,16.4 359.6,16.6 358.5,16.7 357.4,16.9 356.3,17 355.2,17.2 354.1,17.3 353,17.5 351.9,17.7 350.8,17.8 349.7,18 348.6,18.2 347.5,18.4 346.4,18.6 345.3,18.8 344.2,18.9 343.1,19.1 342,19.3 340.9,19.6 339.8,19.8 338.7,20 337.6,20.2 336.5,20.4 335.4,20.6 334.3,20.9 333.1,21.1 332,21.4 330.9,21.6 329.8,21.9 328.7,22.2 327.6,22.5 326.5,22.8 325.4,23.1 324.3,23.4 323.2,23.8 322.1,24.1 321,24.5 319.9,24.9 318.8,25.3 317.7,25.8 316.6,26.3 315.5,26.7 314.4,27.3 313.3,27.8 312.2,28.3 311.1,28.9 310,29.4 308.9,30 307.8,30.6 306.7,31.2 305.6,31.8 304.5,32.4 303.4,33 302.3,33.6 301.2,34.2 300.1,34.8 299,35.4 297.9,36 296.8,36.6 295.6,36.8 294.5,36.8 293.4,36.8 292.3,36.8 291.2,36.8" fill="#CD8C8C"/>
<g fill="#CD8C8C">
<use href="#tdashp" x="83" y="466.3"/>
<use href="#tdashp" x="123.5" y="296"/>
<use href="#tdashp" x="147.3" y="235.5"/>
<use href="#tdashp" x="164.6" y="188.7"/>
<use href="#tdashp" x="177.6" y="157.4"/>
<use href="#tdashp" x="188.2" y="135.3"/>
<use href="#tdashp" x="197.3" y="118.1"/>
<use href="#tdashp" x="205.1" y="105.1"/>
<use href="#tdashp" x="212" y="96.2"/>
<use href="#tdashp" x="218" y="87.7"/>
<use href="#tdashp" x="223.4" y="81.5"/>
<use href="#tdashp" x="228.5" y="76.1"/>
<use href="#tdashp" x="233.2" y="71.6"/>
<use href="#tdashp" x="237.6" y="67.8"/>
<use href="#tdashp" x="241.6" y="64.5"/>
<use href="#tdashp" x="245.4" y="61.6"/>
<use href="#tdashp" x="248.9" y="59"/>
<use href="#tdashp" x="252.3" y="56.8"/>
<use href="#tdashp" x="255.5" y="54.7"/>
<use href="#tdashp" x="258.5" y="52.9"/>
<use href="#tdashp" x="261.3" y="51.2"/>
<use href="#tdashp" x="264" y="49.7"/>
<use href="#tdashp" x="266.6" y="48.2"/>
<use href="#tdashp" x="269.1" y="46.9"/>
<use href="#tdashp" x="271.5" y="45.6"/>
<use href="#tdashp" x="273.8" y="44.5"/>
<use href="#tdashp" x="276" y="43.3"/>
<use href="#tdashp" x="278.2" y="42.2"/>
<use href="#tdashp" x="280.2" y="41.2"/>
<use href="#tdashp" x="282.2" y="40.2"/>
<use href="#tdashp" x="284.1" y="39.3"/>
<use href="#tdashp" x="286" y="38.3"/>
<use href="#tdashp" x="287.8" y="37.4"/>
<use href="#tdashp" x="289.5" y="36.5"/>
<use href="#tdashp" x="291.2" y="35.6"/>
<use href="#tdashp" x="292.9" y="34.8"/>
<use href="#tdashp" x="294.5" y="33.9"/>
<use href="#tdashp" x="296.1" y="33.1"/>
<use href="#tdashp" x="297.6" y="32.2"/>
<use href="#tdashp" x="299.1" y="31.4"/>
<use href="#tdashp" x="663" y="12.9"/>
</g>
<path d="M84,466.3 C90.6,443.5 112.5,360.8 123.2,329.3 C133.9,297.8 141.5,292.1 148.3,277.3 C155.1,262.5 159.1,251.7 164,240.5 C168.8,229.3 173.2,219 177.4,210 C181.5,201 185.5,193.8 188.8,186.6 C192.2,179.4 194.9,172.8 197.4,167 C200,161.2 201.8,156.2 204.2,151.7 C206.6,147.2 209.7,143.7 212,140 C214.3,136.3 215.8,132.5 217.8,129.4 C219.8,126.4 221.9,124.3 223.8,121.7 C225.6,119.1 227.4,116.2 229,113.8 C230.6,111.4 231.8,109.5 233.4,107.4 C235,105.3 237.1,102.8 238.6,100.9 C240.1,99 241.3,97.6 242.6,96.1 C243.9,94.6 245.2,93.2 246.4,91.9 C247.6,90.6 248.8,89.3 250,88.1 C251.1,87 252.2,85.8 253.3,84.8 C254.4,83.7 255.5,82.7 256.5,81.7 C257.5,80.7 258.5,79.8 259.5,78.9 C260.5,78 261.4,77.2 262.3,76.3 C263.3,75.5 264.2,74.7 265.1,73.9 C266,73.2 266.8,72.4 267.7,71.7 C268.5,71 269.4,70.3 270.2,69.6 C271,68.9 271.8,68.3 272.6,67.6 C273.3,67 274.1,66.3 274.9,65.7 C275.6,65.1 276.3,64.5 277.1,63.9 C277.8,63.3 278.5,62.7 279.2,62.2 C279.9,61.6 280.6,61.1 281.3,60.5 C281.9,60 282.6,59.4 283.2,58.9 C283.9,58.4 284.5,57.8 285.2,57.3 C285.8,56.8 286.4,56.3 287,55.8 C287.6,55.3 288.2,54.8 288.8,54.3 C289.4,53.8 290,53.3 290.6,52.9 C291.1,52.4 291.7,51.9 292.3,51.4 C292.8,51 293.4,50.5 293.9,50.1 C294.5,49.6 295,49.2 295.5,48.7 C296,48.3 296.6,47.9 297.1,47.4 C297.6,47 298.1,46.6 298.6,46.2 C299.1,45.8 299.6,45.4 300.1,45 C300.6,44.6 301.1,44.2 301.5,43.8 C302,43.4 302.5,43 302.9,42.7 C303.4,42.3 303.9,41.9 304.3,41.5 C304.8,41.2 305.2,40.8 305.7,40.5 C306.1,40.1 306.6,39.8 307,39.4 C307.4,39.1 307.8,38.8 308.3,38.4 C308.7,38.1 309.1,37.8 309.5,37.5 C309.9,37.2 310.4,36.8 310.8,36.5 C311.2,36.2 311.6,35.9 312,35.6 C312.4,35.3 312.8,35.1 313.2,34.8 C313.5,34.5 313.9,34.2 314.3,33.9 C314.7,33.7 315.1,33.4 315.5,33.1 C315.8,32.9 316.2,32.6 316.6,32.3 C316.9,32.1 317.3,31.8 317.7,31.6 L318.8,30.8 L319.9,30.1 L321,29.4 L322.1,28.7 L323.2,28.1 L324.3,27.4 L325.4,26.8 L326.5,26.1 L327.6,25.5 L328.7,25 L329.8,24.4 L330.9,23.9 L332,23.3 L333.1,22.8 L334.2,22.3 L335.3,21.8 L336.4,21.4 L337.5,20.9 L338.6,20.5 L339.7,20.1 L340.8,19.7 L341.9,19.3 L343,18.9 L344.1,18.6 L345.2,18.2 L346.3,17.9 L347.5,17.6 L348.6,17.3 L349.7,17 L350.8,16.7 L351.9,16.4 L353,16.2 L354.1,15.9 L355.2,15.7 L356.3,15.5 L357.4,15.3 L358.5,15 L359.6,14.9 L360.7,14.7 L361.8,14.5 L362.9,14.3 L364,14.2 L365.1,14 L366.2,13.9 L367.3,13.7 L368.4,13.6 L369.5,13.5 L370.6,13.4 L371.7,13.3 L372.8,13.2 L373.9,13.1 L375,13 L376.1,12.9 L377.2,12.9 L378.3,12.9 L379.4,12.9 L380.5,12.9 L381.6,12.9 L382.7,12.9 L383.8,12.9 L385,12.9 L386.1,12.9 L387.2,12.9 L388.3,12.9 L389.4,12.9 L390.5,12.9 L391.6,12.9 L392.7,12.9 L393.8,12.9 L394.9,12.9 L396,12.9 L397.1,12.9 L398.2,12.9 L399.3,12.9 L400.4,12.9 L401.5,12.9 L402.6,12.9 L403.7,12.9 L404.8,12.9 L405.9,12.9 L407,12.9 L408.1,12.9 L409.2,12.9 L410.3,12.9 L411.4,12.9 L412.5,12.9 L413.6,12.9 L414.7,12.9 L415.8,12.9 L416.9,12.9 L418,12.9 L419.1,12.9 L420.2,12.9 L421.3,12.9 L422.5,12.9 L423.6,12.9 L424.7,12.9 L425.8,12.9 L426.9,12.9 L428,12.9 L429.1,12.9 L430.2,12.9 L431.3,12.9 L432.4,12.9 L433.5,12.9 L434.6,12.9 L435.7,12.9 L436.8,12.9 L437.9,12.9 L439,12.9 L440.1,12.9 L441.2,12.9 L442.3,12.9 L443.4,12.9 L444.5,12.9 L445.6,12.9 L446.7,12.9 L447.8,12.9 L448.9,12.9 L450,12.9 L451.1,12.9 L452.2,12.9 L453.3,12.9 L454.4,12.9 L455.5,12.9 L456.6,12.9 L457.7,12.9 L458.8,12.9 L460,12.9 L461.1,12.9 L462.2,12.9 L463.3,12.9 L464.4,12.9 L465.5,12.9 L466.6,12.9 L467.7,12.9 L468.8,12.9 L469.9,12.9 L471,12.9 L472.1,12.9 L473.2,12.9 L474.3,12.9 L475.4,12.9 L476.5,12.9 L477.6,12.9 L478.7,12.9 L479.8,12.9 L480.9,12.9 L482,12.9 L483.1,12.9 L484.2,12.9 L485.3,12.9 L486.4,12.9 L487.5,12.9 L488.6,12.9 L489.7,12.9 L490.8,12.9 L491.9,12.9 L493,12.9 L494.1,12.9 L495.2,12.9 L496.3,12.9 L497.5,12.9 L498.6,12.9 L499.7,12.9 L500.8,12.9 L501.9,12.9 L503,12.9 L504.1,12.9 L505.2,12.9 L506.3,12.9 L507.4,12.9 L508.5,12.9 L509.6,12.9 L510.7,12.9 L511.8,12.9 L512.9,12.9 L514,12.9 L515.1,12.9 L516.2,12.9 L517.3,12.9 L518.4,12.9 L519.5,12.9 L520.6,12.9 L521.7,12.9 L522.8,12.9 L523.9,12.9 L525,12.9 L526.1,12.9 L527.2,12.9 L528.3,12.9 L529.4,12.9 L530.5,12.9 L531.6,12.9 L532.7,12.9 L533.8,12.9 L535,12.9 L536.1,12.9 L537.2,12.9 L538.3,12.9 L539.4,12.9 L540.5,12.9 L541.6,12.9 L542.7,12.9 L543.8,12.9 L544.9,12.9 L546,12.9 L547.1,12.9 L548.2,12.9 L549.3,12.9 L550.4,12.9 L551.5,12.9 L552.6,12.9 L553.7,12.9 L554.8,12.9 L555.9,12.9 L557,12.9 L558.1,12.9 L559.2,12.9 L560.3,12.9 L561.4,12.9 L562.5,12.9 L563.6,12.9 L564.7,12.9 L565.8,12.9 L566.9,12.9 L568,12.9 L569.1,12.9 L570.2,12.9 L571.3,12.9 L572.5,12.9 L573.6,12.9 L574.7,12.9 L575.8,12.9 L576.9,12.9 L578,12.9 L579.1,12.9 L580.2,12.9 L581.3,12.9 L582.4,12.9 L583.5,12.9 L584.6,12.9 L585.7,12.9 L586.8,12.9 L587.9,12.9 L589,12.9 L590.1,12.9 L591.2,12.9 L592.3,12.9 L593.4,12.9 L594.5,12.9 L595.6,12.9 L596.7,12.9 L597.8,12.9 L598.9,12.9 L600,12.9 L601.1,12.9 L602.2,12.9 L603.3,12.9 L604.4,12.9 L605.5,12.9 L606.6,12.9 L607.7,12.9 L608.8,12.9 L610,12.9 L611.1,12.9 L612.2,12.9 L613.3,12.9 L614.4,12.9 L615.5,12.9 L616.6,12.9 L617.7,12.9 L618.8,12.9 L619.9,12.9 L621,12.9 L622.1,12.9 L623.2,12.9 L624.3,12.9 L625.4,12.9 L626.5,12.9 L627.6,12.9 L628.7,12.9 L629.8,12.9 L630.9,12.9 L632,12.9 L633.1,12.9 L634.2,12.9 L635.3,12.9 L636.4,12.9 L637.5,12.9 L638.6,12.9 L639.7,12.9 L640.8,12.9 L641.9,12.9 L643,12.9 L644.1,12.9 L645.2,12.9 L646.3,12.9 L647.5,12.9 L648.6,12.9 L649.7,12.9 L650.8,12.9 L651.9,12.9 L653,12.9 L654.1,12.9 L655.2,12.9 L656.3,12.9 L657.4,12.9 L658.5,12.9 L659.6,12.9 L660.7,12.9 L661.8,12.9 L662.9,12.9 L664,12.9 L664.1,12.9" fill="none" stroke="#8AA5CD" stroke-width="1"/>
<path d="M369.6,13.5 L370.7,13.4 L371.8,13.3 L372.9,13.2 L374,13.1 L375.1,13 L376.2,12.9 L377.3,12.9 L378.5,12.9 L379.6,12.9 L380.7,12.9 L381.8,12.9 L382.9,12.9 L384,12.9 L385.1,12.9 L386.2,12.9 L387.3,12.9 L388.4,12.9 L389.5,12.9 L390.6,12.9 L391.7,12.9 L392.8,12.9 L393.9,12.9 L395,12.9 L396.1,12.9 L397.2,12.9 L398.3,12.9 L399.4,12.9 L400.5,12.9 L401.6,12.9 L402.7,12.9 L403.8,12.9 L404.9,12.9 L406,12.9 L407.1,12.9 L408.2,12.9 L409.3,12.9 L410.4,12.9 L411.5,12.9 L412.6,12.9 L413.7,12.9 L414.8,12.9 L416,12.9 L417.1,12.9 L418.2,12.9 L419.3,12.9 L420.4,12.9 L421.5,12.9 L422.6,12.9 L423.7,12.9 L424.8,12.9 L425.9,12.9 L427,12.9 L428.1,12.9 L429.2,12.9 L430.3,12.9 L431.4,12.9 L432.5,12.9 L433.6,12.9 L434.7,12.9 L435.8,12.9 L436.9,12.9 L438,12.9 L439.1,12.9 L440.2,12.9 L441.3,12.9 L442.4,12.9 L443.5,12.9 L444.6,12.9 L445.7,12.9 L446.8,12.9 L447.9,12.9 L449,12.9 L450.1,12.9 L451.2,12.9 L452.3,12.9 L453.5,12.9 L454.6,12.9 L455.7,12.9 L456.8,12.9 L457.9,12.9 L459,12.9 L460.1,12.9 L461.2,12.9 L462.3,12.9 L463.4,12.9 L464.5,12.9 L465.6,12.9 L466.7,12.9 L467.8,12.9 L468.9,12.9 L470,12.9 L471.1,12.9 L472.2,12.9 L473.3,12.9 L474.4,12.9 L475.5,12.9 L476.6,12.9 L477.7,12.9 L478.8,12.9 L479.9,12.9 L481,12.9 L482.1,12.9 L483.2,12.9 L484.3,12.9 L485.4,12.9 L486.5,12.9 L487.6,12.9 L488.7,12.9 L489.8,12.9 L491,12.9 L492.1,12.9 L493.2,12.9 L494.3,12.9 L495.4,12.9 L496.5,12.9 L497.6,12.9 L498.7,12.9 L499.8,12.9 L500.9,12.9 L502,12.9 L503.1,12.9 L504.2,12.9 L505.3,12.9 L506.4,12.9 L507.5,12.9 L508.6,12.9 L509.7,12.9 L510.8,12.9 L511.9,12.9 L513,12.9 L514.1,12.9 L515.2,12.9 L516.3,12.9 L517.4,12.9 L518.5,12.9 L519.6,12.9 L520.7,12.9 L521.8,12.9 L522.9,12.9 L524,12.9 L525.1,12.9 L526.2,12.9 L527.3,12.9 L528.5,12.9 L529.6,12.9 L530.7,12.9 L531.8,12.9 L532.9,12.9 L534,12.9 L535.1,12.9 L536.2,12.9 L537.3,12.9 L538.4,12.9 L539.5,12.9 L540.6,12.9 L541.7,12.9 L542.8,12.9 L543.9,12.9 L545,12.9 L546.1,12.9 L547.2,12.9 L548.3,12.9 L549.4,12.9 L550.5,12.9 L551.6,12.9 L552.7,12.9 L553.8,12.9 L554.9,12.9 L556,12.9 L557.1,12.9 L558.2,12.9 L559.3,12.9 L560.4,12.9 L561.5,12.9 L562.6,12.9 L563.7,12.9 L564.8,12.9 L566,12.9 L567.1,12.9 L568.2,12.9 L569.3,12.9 L570.4,12.9 L571.5,12.9 L572.6,12.9 L573.7,12.9 L574.8,12.9 L575.9,12.9 L577,12.9 L578.1,12.9 L579.2,12.9 L580.3,12.9 L581.4,12.9 L582.5,12.9 L583.6,12.9 L584.7,12.9 L585.8,12.9 L586.9,12.9 L588,12.9 L589.1,12.9 L590.2,12.9 L591.3,12.9 L592.4,12.9 L593.5,12.9 L594.6,12.9 L595.7,12.9 L596.8,12.9 L597.9,12.9 L599,12.9 L600.1,12.9 L601.2,12.9 L602.3,12.9 L603.5,12.9 L604.6,12.9 L605.7,12.9 L606.8,12.9 L607.9,12.9 L609,12.9 L610.1,12.9 L611.2,12.9 L612.3,12.9 L613.4,12.9 L614.5,12.9 L615.6,12.9 L616.7,12.9 L617.8,12.9 L618.9,12.9 L620,12.9 L621.1,12.9 L622.2,12.9 L623.3,12.9 L624.4,12.9 L625.5,12.9 L626.6,12.9 L627.7,12.9 L628.8,12.9 L629.9,12.9 L631,12.9 L632.1,12.9 L633.2,12.9 L634.3,12.9 L635.4,12.9 L636.5,12.9 L637.6,12.9 L638.7,12.9 L639.8,12.9 L641,12.9 L642.1,12.9 L643.2,12.9 L644.3,12.9 L645.4,12.9 L646.5,12.9 L647.6,12.9 L648.7,12.9 L649.8,12.9 L650.9,12.9 L652,12.9 L653.1,12.9 L654.2,12.9 L655.3,12.9 L656.4,12.9 L657.5,12.9 L658.6,12.9 L659.7,12.9 L660.8,12.9 L661.9,12.9 L663,12.9 L664.1,12.9" fill="none" stroke="#8AA5CD" stroke-width="8" stroke-linecap="butt" stroke-linejoin="round"/>
<g fill="none" stroke="#8AA5CD">
<use href="#tplus" x="84" y="466.3"/>
<use href="#tplus" x="123.2" y="329.3"/>
<use href="#tplus" x="148.3" y="277.3"/>
<use href="#tplus" x="164" y="240.5"/>
<use href="#tplus" x="177.4" y="210"/>
<use href="#tplus" x="188.8" y="186.6"/>
<use href="#tplus" x="197.4" y="167"/>
<use href="#tplus" x="204.2" y="151.7"/>
<use href="#tplus" x="212" y="140"/>
<use href="#tplus" x="217.8" y="129.4"/>
<use href="#tplus" x="223.8" y="121.7"/>
<use href="#tplus" x="229" y="113.8"/>
<use href="#tplus" x="233.4" y="107.4"/>
<use href="#tplus" x="238.6" y="100.9"/>
<use href="#tplus" x="242.6" y="96.1"/>
<use href="#tplus" x="246.4" y="91.9"/>
<use href="#tplus" x="250" y="88.1"/>
<use href="#tplus" x="253.3" y="84.8"/>
<use href="#tplus" x="256.5" y="81.7"/>
<use href="#tplus" x="259.5" y="78.9"/>
<use href="#tplus" x="262.3" y="76.3"/>
<use href="#tplus" x="265.1" y="73.9"/>
<use href="#tplus" x="267.7" y="71.7"/>
<use href="#tplus" x="270.2" y="69.6"/>
<use href="#tplus" x="272.6" y="67.6"/>
<use href="#tplus" x="274.9" y="65.7"/>
<use href="#tplus" x="277.1" y="63.9"/>
<use href="#tplus" x="279.2" y="62.2"/>
<use href="#tplus" x="281.3" y="60.5"/>
<use href="#tplus" x="283.2" y="58.9"/>
<use href="#tplus" x="285.2" y="57.3"/>
<use href="#tplus" x="287" y="55.8"/>
<use href="#tplus" x="288.8" y="54.3"/>
<use href="#tplus" x="290.6" y="52.9"/>
<use href="#tplus" x="292.3" y="51.4"/>
<use href="#tplus" x="293.9" y="50.1"/>
<use href="#tplus" x="295.5" y="48.7"/>
<use href="#tplus" x="297.1" y="47.4"/>
<use href="#tplus" x="298.6" y="46.2"/>
<use href="#tplus" x="300.1" y="45"/>
<use href="#tplus" x="301.5" y="43.8"/>
<use href="#tplus" x="302.9" y="42.7"/>
<use href="#tplus" x="304.3" y="41.5"/>
<use href="#tplus" x="305.7" y="40.5"/>
<use href="#tplus" x="307" y="39.4"/>
<use href="#tplus" x="308.3" y="38.4"/>
<use href="#tplus" x="309.5" y="37.5"/>
<use href="#tplus" x="310.8" y="36.5"/>
<use href="#tplus" x="312" y="35.6"/>
<use href="#tplus" x="313.2" y="34.8"/>
<use href="#tplus" x="314.3" y="33.9"/>
<use href="#tplus" x="315.5" y="33.1"/>
<use href="#tplus" x="316.6" y="32.3"/>
<use href="#tplus" x="317.7" y="31.6"/>
<use href="#tplus" x="318.7" y="30.9"/>
<use href="#tplus" x="319.8" y="30.2"/>
<use href="#tplus" x="320.8" y="29.5"/>
<use href="#tplus" x="321.8" y="28.9"/>
<use href="#tplus" x="322.8" y="28.3"/>
<use href="#tplus" x="323.8" y="27.7"/>
<use href="#tplus" x="324.8" y="27.1"/>
<use href="#tplus" x="325.8" y="26.6"/>
<use href="#tplus" x="326.7" y="26"/>
<use href="#tplus" x="327.6" y="25.5"/>
<use href="#tplus" x="328.5" y="25.1"/>
<use href="#tplus" x="329.4" y="24.6"/>
<use href="#tplus" x="330.3" y="24.2"/>
<use href="#tplus" x="331.2" y="23.7"/>
<use href="#tplus" x="332" y="23.3"/>
<use href="#tplus" x="332.9" y="22.9"/>
<use href="#tplus" x="333.7" y="22.5"/>
<use href="#tplus" x="334.5" y="22.2"/>
<use href="#tplus" x="335.3" y="21.8"/>
<use href="#tplus" x="336.1" y="21.5"/>
<use href="#tplus" x="336.9" y="21.2"/>
<use href="#tplus" x="337.7" y="20.9"/>
<use href="#tplus" x="338.4" y="20.6"/>
<use href="#tplus" x="339.2" y="20.3"/>
<use href="#tplus" x="339.9" y="20"/>
<use href="#tplus" x="340.7" y="19.7"/>
<use href="#tplus" x="341.4" y="19.5"/>
<use href="#tplus" x="342.1" y="19.2"/>
<use href="#tplus" x="342.8" y="19"/>
<use href="#tplus" x="343.5" y="18.8"/>
<use href="#tplus" x="344.2" y="18.5"/>
<use href="#tplus" x="344.9" y="18.3"/>
<use href="#tplus" x="345.6" y="18.1"/>
<use href="#tplus" x="346.3" y="17.9"/>
<use href="#tplus" x="346.9" y="17.7"/>
<use href="#tplus" x="347.6" y="17.5"/>
<use href="#tplus" x="348.2" y="17.4"/>
<use href="#tplus" x="348.9" y="17.2"/>
<use href="#tplus" x="349.5" y="17"/>
<use href="#tplus" x="350.1" y="16.9"/>
<use href="#tplus" x="350.7" y="16.7"/>
<use href="#tplus" x="351.4" y="16.5"/>
<use href="#tplus" x="352" y="16.4"/>
<use href="#tplus" x="352.6" y="16.3"/>
<use href="#tplus" x="353.2" y="16.1"/>
<use href="#tplus" x="353.8" y="16"/>
<use href="#tplus" x="354.3" y="15.9"/>
<use href="#tplus" x="354.9" y="15.7"/>
<use href="#tplus" x="355.5" y="15.6"/>
<use href="#tplus" x="356.1" y="15.5"/>
<use href="#tplus" x="356.7" y="15.4"/>
<use href="#tplus" x="357.3" y="15.3"/>
<use href="#tplus" x="357.9" y="15.2"/>
<use href="#tplus" x="358.5" y="15.1"/>
<use href="#tplus" x="359" y="14.9"/>
<use href="#tplus" x="359.6" y="14.8"/>
<use href="#tplus" x="360.2" y="14.7"/>
<use href="#tplus" x="360.8" y="14.7"/>
<use href="#tplus" x="361.4" y="14.6"/>
<use href="#tplus" x="362" y="14.5"/>
<use href="#tplus" x="362.6" y="14.4"/>
<use href="#tplus" x="363.2" y="14.3"/>
<use href="#tplus" x="363.7" y="14.2"/>
<use href="#tplus" x="364.3" y="14.1"/>
<use href="#tplus" x="364.9" y="14"/>
<use href="#tplus" x="365.5" y="14"/>
<use href="#tplus" x="366.1" y="13.9"/>
<use href="#tplus" x="366.7" y="13.8"/>
<use href="#tplus" x="367.3" y="13.7"/>
<use href="#tplus" x="367.9" y="13.7"/>
<use href="#tplus" x="368.5" y="13.6"/>
<use href="#tplus" x="369" y="13.5"/>
<use href="#tplus" x="369.6" y="13.5"/>
<use href="#tplus" x="664.1" y="12.9"/>
</g>
<path d="M81.3,466.3 C88.1,451.9 111.3,400.7 122.1,379.6 C132.8,358.6 138.9,350.1 145.6,340 C152.3,329.9 157.4,326.8 162.4,319.1 C167.4,311.4 171.6,301.8 175.5,293.6 C179.5,285.5 182.9,277.4 186.2,270.2 C189.4,263 192.4,256.6 195.1,250.6 C197.9,244.7 200.5,239.5 202.9,234.5 C205.4,229.5 207.7,224.9 209.9,220.6 C212,216.3 214.1,212.9 216,208.9 C218,204.9 219.8,200.4 221.6,196.8 C223.4,193.2 225,190.2 226.7,187.2 C228.3,184.2 230,181.5 231.5,178.9 C233.1,176.3 234.5,174 235.9,171.8 C237.3,169.6 238.6,167.5 239.9,165.5 C241.2,163.4 242.5,161.5 243.7,159.6 C244.9,157.7 246.1,155.9 247.3,154.1 C248.4,152.4 249.5,150.6 250.6,149 C251.7,147.3 252.7,145.6 253.8,144.1 C254.8,142.5 255.8,140.9 256.8,139.4 C257.7,137.9 258.7,136.5 259.6,135 C260.6,133.6 261.5,132.2 262.4,130.9 C263.2,129.5 264.1,128.2 265,126.9 C265.8,125.6 266.6,124.3 267.4,123.1 C268.3,121.9 269.1,120.7 269.8,119.5 C270.6,118.3 271.4,117.2 272.1,116.1 C272.9,115 273.6,113.9 274.3,112.8 C275.1,111.7 275.8,110.7 276.5,109.7 C277.2,108.6 277.9,107.6 278.5,106.7 C279.2,105.7 279.9,104.7 280.5,103.8 C281.2,102.9 281.8,101.9 282.4,101 C283.1,100.1 283.7,99.3 284.3,98.4 C284.9,97.5 285.5,96.7 286.1,95.9 C286.7,95 287.3,94.2 287.8,93.4 C288.4,92.6 289,91.9 289.5,91.1 C290.1,90.3 290.7,89.6 291.2,88.8 C291.7,88.1 292.3,87.4 292.8,86.7 C293.3,86 293.8,85.3 294.4,84.6 C294.9,83.9 295.4,83.3 295.9,82.6 C296.4,81.9 296.9,81.3 297.4,80.7 C297.9,80 298.3,79.4 298.8,78.8 C299.3,78.2 299.8,77.6 300.2,77 C300.7,76.4 301.1,75.9 301.6,75.3 C302.1,74.7 302.5,74.2 302.9,73.6 C303.4,73.1 303.8,72.5 304.3,72 C304.7,71.5 305.1,71 305.6,70.5 C306,69.9 306.4,69.4 306.8,69 C307.2,68.5 307.6,68 308,67.5 C308.5,67 308.9,66.6 309.3,66.1 C309.6,65.6 310,65.2 310.4,64.7 C310.8,64.3 311.2,63.9 311.6,63.4 C312,63 312.4,62.6 312.7,62.2 C313.1,61.8 313.5,61.3 313.8,60.9 C314.2,60.5 314.6,60.1 315,59.7 L316.1,58.6 L317.2,57.4 L318.3,56.3 L319.4,55.1 L320.5,54 L321.6,52.9 L322.7,51.9 L323.8,50.8 L324.9,49.8 L326,48.8 L327.1,47.8 L328.2,46.8 L329.3,45.8 L330.4,44.8 L331.5,43.9 L332.6,43 L333.7,42.1 L334.8,41.2 L335.9,40.3 L337,39.4 L338.1,38.6 L339.2,37.7 L340.3,36.9 L341.4,36.1 L342.5,35.3 L343.6,34.6 L344.7,33.8 L345.8,33.1 L346.9,32.4 L348,31.6 L349.1,30.9 L350.2,30.3 L351.3,29.6 L352.5,28.9 L353.6,28.3 L354.7,27.7 L355.8,27.1 L356.9,26.5 L358,25.9 L359.1,25.3 L360.2,24.8 L361.3,24.2 L362.4,23.7 L363.5,23.2 L364.6,22.7 L365.7,22.2 L366.8,21.7 L367.9,21.2 L369,20.8 L370.1,20.3 L371.2,19.9 L372.3,19.5 L373.4,19.1 L374.5,18.7 L375.6,18.3 L376.7,17.9 L377.8,17.6 L378.9,17.2 L380,16.9 L381.1,16.6 L382.2,16.3 L383.3,16 L384.4,15.7 L385.5,15.4 L386.6,15.1 L387.7,14.9 L388.8,14.6 L390,14.4 L391.1,14.2 L392.2,14 L393.3,13.8 L394.4,13.6 L395.5,13.4 L396.6,13.2 L397.7,13.1 L398.8,12.9 L399.9,12.9 L401,12.9 L402.1,12.9 L403.2,12.9 L404.3,12.9 L405.4,12.9 L406.5,12.9 L407.6,12.9 L408.7,12.9 L409.8,12.9 L410.9,12.9 L412,12.9 L413.1,12.9 L414.2,12.9 L415.3,12.9 L416.4,12.9 L417.5,12.9 L418.6,12.9 L419.7,12.9 L420.8,12.9 L421.9,12.9 L423,12.9 L424.1,12.9 L425.2,12.9 L426.3,12.9 L427.5,12.9 L428.6,12.9 L429.7,12.9 L430.8,12.9 L431.9,12.9 L433,12.9 L434.1,12.9 L435.2,12.9 L436.3,12.9 L437.4,12.9 L438.5,12.9 L439.6,12.9 L440.7,12.9 L441.8,12.9 L442.9,12.9 L444,12.9 L445.1,12.9 L446.2,12.9 L447.3,12.9 L448.4,12.9 L449.5,12.9 L450.6,12.9 L451.7,12.9 L452.8,12.9 L453.9,12.9 L455,12.9 L456.1,12.9 L457.2,12.9 L458.3,12.9 L459.4,12.9 L460.5,12.9 L461.6,12.9 L462.7,12.9 L463.8,12.9 L465,12.9 L466.1,12.9 L467.2,12.9 L468.3,12.9 L469.4,12.9 L470.5,12.9 L471.6,12.9 L472.7,12.9 L473.8,12.9 L474.9,12.9 L476,12.9 L477.1,12.9 L478.2,12.9 L479.3,12.9 L480.4,12.9 L481.5,12.9 L482.6,12.9 L483.7,12.9 L484.8,12.9 L485.9,12.9 L487,12.9 L488.1,12.9 L489.2,12.9 L490.3,12.9 L491.4,12.9 L492.5,12.9 L493.6,12.9 L494.7,12.9 L495.8,12.9 L496.9,12.9 L498,12.9 L499.1,12.9 L500.2,12.9 L501.3,12.9 L502.5,12.9 L503.6,12.9 L504.7,12.9 L505.8,12.9 L506.9,12.9 L508,12.9 L509.1,12.9 L510.2,12.9 L511.3,12.9 L512.4,12.9 L513.5,12.9 L514.6,12.9 L515.7,12.9 L516.8,12.9 L517.9,12.9 L519,12.9 L520.1,12.9 L521.2,12.9 L522.3,12.9 L523.4,12.9 L524.5,12.9 L525.6,12.9 L526.7,12.9 L527.8,12.9 L528.9,12.9 L530,12.9 L531.1,12.9 L532.2,12.9 L533.3,12.9 L534.4,12.9 L535.5,12.9 L536.6,12.9 L537.7,12.9 L538.8,12.9 L540,12.9 L541.1,12.9 L542.2,12.9 L543.3,12.9 L544.4,12.9 L545.5,12.9 L546.6,12.9 L547.7,12.9 L548.8,12.9 L549.9,12.9 L551,12.9 L552.1,12.9 L553.2,12.9 L554.3,12.9 L555.4,12.9 L556.5,12.9 L557.6,12.9 L558.7,12.9 L559.8,12.9 L560.9,12.9 L562,12.9 L563.1,12.9 L564.2,12.9 L565.3,12.9 L566.4,12.9 L567.5,12.9 L568.6,12.9 L569.7,12.9 L570.8,12.9 L571.9,12.9 L573,12.9 L574.1,12.9 L575.2,12.9 L576.3,12.9 L577.5,12.9 L578.6,12.9 L579.7,12.9 L580.8,12.9 L581.9,12.9 L583,12.9 L584.1,12.9 L585.2,12.9 L586.3,12.9 L587.4,12.9 L588.5,12.9 L589.6,12.9 L590.7,12.9 L591.8,12.9 L592.9,12.9 L594,12.9 L595.1,12.9 L596.2,12.9 L597.3,12.9 L598.4,12.9 L599.5,12.9 L600.6,12.9 L601.7,12.9 L602.8,12.9 L603.9,12.9 L605,12.9 L606.1,12.9 L607.2,12.9 L608.3,12.9 L609.4,12.9 L610.5,12.9 L611.6,12.9 L612.7,12.9 L613.8,12.9 L615,12.9 L616.1,12.9 L617.2,12.9 L618.3,12.9 L619.4,12.9 L620.5,12.9 L621.6,12.9 L622.7,12.9 L623.8,12.9 L624.9,12.9 L626,12.9 L627.1,12.9 L628.2,12.9 L629.3,12.9 L630.4,12.9 L631.5,12.9 L632.6,12.9 L633.7,12.9 L634.8,12.9 L635.9,12.9 L637,12.9 L638.1,12.9 L639.2,12.9 L640.3,12.9 L641.4,12.9 L642.5,12.9 L643.6,12.9 L644.7,12.9 L645.8,12.9 L646.9,12.9 L648,12.9 L649.1,12.9 L650.2,12.9 L651.3,12.9 L652.5,12.9 L653.6,12.9 L654.7,12.9 L655.8,12.9 L656.9,12.9 L658,12.9 L659.1,12.9 L660.2,12.9 L661.3,12.9 L661.3,12.9" fill="none" stroke="#B4CC94" stroke-width="1"/>
<polygon points="289.5,89.8 290.6,88.3 291.8,86.8 292.9,85.3 294,83.8 295.1,82.4 296.2,80.9 297.3,79.5 298.4,78.1 299.5,76.7 300.6,75.3 301.7,73.9 302.8,72.5 303.9,71.2 305,69.8 306.1,68.5 307.2,67.2 308.3,65.9 309.4,64.6 310.5,63.4 311.6,62.1 312.7,60.9 313.8,59.7 314.9,58.5 316,57.3 317.1,56.2 318.2,55 319.3,53.9 320.4,52.8 321.5,51.7 322.6,50.6 323.7,49.6 324.8,48.5 325.9,47.5 327,46.5 328.1,45.5 329.3,44.5 330.4,43.6 331.5,42.6 332.6,41.7 333.7,40.8 334.8,39.9 335.9,39 337,38.2 338.1,37.3 339.2,36.5 340.3,35.7 341.4,34.9 342.5,34.1 343.6,33.3 344.7,32.5 345.8,31.8 346.9,31.1 348,30.4 349.1,29.7 350.2,29 351.3,28.3 352.4,27.7 353.5,27 354.6,26.4 355.7,25.8 356.8,25.2 357.9,24.6 359,24 360.1,23.5 361.2,22.9 362.3,22.4 363.4,21.9 364.5,21.4 365.6,20.9 366.8,20.4 367.9,19.9 369,19.5 370.1,19 371.2,18.6 372.3,18.2 373.4,17.8 374.5,17.4 375.6,17 376.7,16.6 377.8,16.3 378.9,15.9 380,15.6 381.1,15.3 382.2,15 383.3,14.7 384.4,14.4 385.5,14.1 386.6,13.9 387.7,13.6 388.8,13.4 389.9,13.1 391,12.9 392.1,12.7 393.2,12.5 394.3,12.3 395.4,12.1 396.5,11.9 397.6,11.8 398.7,11.6 399.8,11.6 400.9,11.6 402,11.6 403.1,11.6 404.3,11.6 405.4,11.6 406.5,11.6 407.6,11.6 408.7,11.6 409.8,11.6 410.9,11.6 412,11.6 413.1,11.6 414.2,11.6 415.3,11.6 416.4,11.6 417.5,11.6 418.6,11.6 419.7,11.6 420.8,11.6 421.9,11.6 423,11.6 424.1,11.6 425.2,11.6 426.3,11.6 427.4,11.6 428.5,11.6 429.6,11.6 430.7,11.6 431.8,11.6 432.9,11.6 434,11.6 435.1,11.6 436.2,11.6 437.3,11.6 438.4,11.6 439.5,11.6 440.6,11.6 441.8,11.6 442.9,11.6 444,11.6 445.1,11.6 446.2,11.6 447.3,11.6 448.4,11.6 449.5,11.6 450.6,11.6 451.7,11.6 452.8,11.6 453.9,11.6 455,11.6 456.1,11.6 457.2,11.6 458.3,11.6 459.4,11.6 460.5,11.6 461.6,11.6 462.7,11.6 463.8,11.6 464.9,11.6 466,11.6 467.1,11.6 468.2,11.6 469.3,11.6 470.4,11.6 471.5,11.6 472.6,11.6 473.7,11.6 474.8,11.6 475.9,11.6 477,11.6 478.1,11.6 479.3,11.6 480.4,11.6 481.5,11.6 482.6,11.6 483.7,11.6 484.8,11.6 485.9,11.6 487,11.6 488.1,11.6 489.2,11.6 490.3,11.6 491.4,11.6 492.5,11.6 493.6,11.6 494.7,11.6 495.8,11.6 496.9,11.6 498,11.6 499.1,11.6 500.2,11.6 501.3,11.6 502.4,11.6 503.5,11.6 504.6,11.6 505.7,11.6 506.8,11.6 507.9,11.6 509,11.6 510.1,11.6 511.2,11.6 512.3,11.6 513.4,11.6 514.5,11.6 515.6,11.6 516.8,11.6 517.9,11.6 519,11.6 520.1,11.6 521.2,11.6 522.3,11.6 523.4,11.6 524.5,11.6 525.6,11.6 526.7,11.6 527.8,11.6 528.9,11.6 530,11.6 531.1,11.6 532.2,11.6 533.3,11.6 534.4,11.6 535.5,11.6 536.6,11.6 537.7,11.6 538.8,11.6 539.9,11.6 541,11.6 542.1,11.6 543.2,11.6 544.3,11.6 545.4,11.6 546.5,11.6 547.6,11.6 548.7,11.6 549.8,11.6 550.9,11.6 552,11.6 553.1,11.6 554.3,11.6 555.4,11.6 556.5,11.6 557.6,11.6 558.7,11.6 559.8,11.6 560.9,11.6 562,11.6 563.1,11.6 564.2,11.6 565.3,11.6 566.4,11.6 567.5,11.6 568.6,11.6 569.7,11.6 570.8,11.6 571.9,11.6 573,11.6 574.1,11.6 575.2,11.6 576.3,11.6 577.4,11.6 578.5,11.6 579.6,11.6 580.7,11.6 581.8,11.6 582.9,11.6 584,11.6 585.1,11.6 586.2,11.6 587.3,11.6 588.4,11.6 589.5,11.6 590.6,11.6 591.8,11.6 592.9,11.6 594,11.6 595.1,11.6 596.2,11.6 597.3,11.6 598.4,11.6 599.5,11.6 600.6,11.6 601.7,11.6 602.8,11.6 603.9,11.6 605,11.6 606.1,11.6 607.2,11.6 608.3,11.6 609.4,11.6 610.5,11.6 611.6,11.6 612.7,11.6 613.8,11.6 614.9,11.6 616,11.6 617.1,11.6 618.2,11.6 619.3,11.6 620.4,11.6 621.5,11.6 622.6,11.6 623.7,11.6 624.8,11.6 625.9,11.6 627,11.6 628.1,11.6 629.3,11.6 630.4,11.6 631.5,11.6 632.6,11.6 633.7,11.6 634.8,11.6 635.9,11.6 637,11.6 638.1,11.6 639.2,11.6 640.3,11.6 641.4,11.6 642.5,11.6 643.6,11.6 644.7,11.6 645.8,11.6 646.9,11.6 648,11.6 649.1,11.6 650.2,11.6 651.3,11.6 652.4,11.6 653.5,11.6 654.6,11.6 655.7,11.6 656.8,11.6 657.9,11.6 659,11.6 660.1,11.6 661.2,11.6 662.3,11.6 663.4,11.6 664.5,11.6 665.6,11.6 666.8,11.6 667.9,11.6 668.3,11.6 668.3,14.2 667.9,14.2 666.8,14.2 665.6,14.2 664.5,14.2 663.4,14.2 662.3,14.2 661.2,14.2 660.1,14.2 659,14.2 657.9,14.2 656.8,14.2 655.7,14.2 654.6,14.2 653.5,14.2 652.4,14.2 651.3,14.2 650.2,14.2 649.1,14.2 648,14.2 646.9,14.2 645.8,14.2 644.7,14.2 643.6,14.2 642.5,14.2 641.4,14.2 640.3,14.2 639.2,14.2 638.1,14.2 637,14.2 635.9,14.2 634.8,14.2 633.7,14.2 632.6,14.2 631.5,14.2 630.4,14.2 629.3,14.2 628.1,14.2 627,14.2 625.9,14.2 624.8,14.2 623.7,14.2 622.6,14.2 621.5,14.2 620.4,14.2 619.3,14.2 618.2,14.2 617.1,14.2 616,14.2 614.9,14.2 613.8,14.2 612.7,14.2 611.6,14.2 610.5,14.2 609.4,14.2 608.3,14.2 607.2,14.2 606.1,14.2 605,14.2 603.9,14.2 602.8,14.2 601.7,14.2 600.6,14.2 599.5,14.2 598.4,14.2 597.3,14.2 596.2,14.2 595.1,14.2 594,14.2 592.9,14.2 591.8,14.2 590.6,14.2 589.5,14.2 588.4,14.2 587.3,14.2 586.2,14.2 585.1,14.2 584,14.2 582.9,14.2 581.8,14.2 580.7,14.2 579.6,14.2 578.5,14.2 577.4,14.2 576.3,14.2 575.2,14.2 574.1,14.2 573,14.2 571.9,14.2 570.8,14.2 569.7,14.2 568.6,14.2 567.5,14.2 566.4,14.2 565.3,14.2 564.2,14.2 563.1,14.2 562,14.2 560.9,14.2 559.8,14.2 558.7,14.2 557.6,14.2 556.5,14.2 555.4,14.2 554.3,14.2 553.1,14.2 552,14.2 550.9,14.2 549.8,14.2 548.7,14.2 547.6,14.2 546.5,14.2 545.4,14.2 544.3,14.2 543.2,14.2 542.1,14.2 541,14.2 539.9,14.2 538.8,14.2 537.7,14.2 536.6,14.2 535.5,14.2 534.4,14.2 533.3,14.2 532.2,14.2 531.1,14.2 530,14.2 528.9,14.2 527.8,14.2 526.7,14.2 525.6,14.2 524.5,14.2 523.4,14.2 522.3,14.2 521.2,14.2 520.1,14.2 519,14.2 517.9,14.2 516.8,14.2 515.6,14.2 514.5,14.2 513.4,14.2 512.3,14.2 511.2,14.2 510.1,14.2 509,14.2 507.9,14.2 506.8,14.2 505.7,14.2 504.6,14.2 503.5,14.2 502.4,14.2 501.3,14.2 500.2,14.2 499.1,14.2 498,14.2 496.9,14.2 495.8,14.2 494.7,14.2 493.6,14.2 492.5,14.2 491.4,14.2 490.3,14.2 489.2,14.2 488.1,14.2 487,14.2 485.9,14.2 484.8,14.2 483.7,14.2 482.6,14.2 481.5,14.2 480.4,14.2 479.3,14.2 478.1,14.2 477,14.2 475.9,14.2 474.8,14.2 473.7,14.2 472.6,14.2 471.5,14.2 470.4,14.2 469.3,14.2 468.2,14.2 467.1,14.2 466,14.2 464.9,14.2 463.8,14.2 462.7,14.2 461.6,14.2 460.5,14.2 459.4,14.2 458.3,14.2 457.2,14.2 456.1,14.2 455,14.2 453.9,14.2 452.8,14.2 451.7,14.2 450.6,14.2 449.5,14.2 448.4,14.2 447.3,14.2 446.2,14.2 445.1,14.2 444,14.2 442.9,14.2 441.8,14.2 440.6,14.2 439.5,14.2 438.4,14.2 437.3,14.2 436.2,14.2 435.1,14.2 434,14.2 432.9,14.2 431.8,14.2 430.7,14.2 429.6,14.2 428.5,14.2 427.4,14.2 426.3,14.2 425.2,14.2 424.1,14.2 423,14.2 421.9,14.2 420.8,14.2 419.7,14.2 418.6,14.2 417.5,14.2 416.4,14.2 415.3,14.2 414.2,14.2 413.1,14.2 412,14.2 410.9,14.2 409.8,14.2 408.7,14.2 407.6,14.2 406.5,14.2 405.4,14.3 404.3,14.4 403.1,14.6 402,14.8 400.9,15 399.8,15.2 398.7,15.4 397.6,15.6 396.5,15.8 395.4,16 394.3,16.3 393.2,16.5 392.1,16.8 391,17.1 389.9,17.4 388.8,17.7 387.7,18 386.6,18.3 385.5,18.7 384.4,19 383.3,19.4 382.2,19.7 381.1,20.1 380,20.5 378.9,20.9 377.8,21.4 376.7,21.8 375.6,22.2 374.5,22.7 373.4,23.2 372.3,23.6 371.2,24.1 370.1,24.7 369,25.2 367.9,25.7 366.8,26.3 365.6,26.8 364.5,27.4 363.4,28 362.3,28.6 361.2,29.2 360.1,29.8 359,30.5 357.9,31.2 356.8,31.8 355.7,32.5 354.6,33.2 353.5,33.9 352.4,34.7 351.3,35.4 350.2,36.2 349.1,36.9 348,37.7 346.9,38.5 345.8,39.4 344.7,40.2 343.6,41.1 342.5,41.9 341.4,42.8 340.3,43.7 339.2,44.6 338.1,45.5 337,46.5 335.9,47.5 334.8,48.4 333.7,49.4 332.6,50.4 331.5,51.5 330.4,52.5 329.3,53.6 328.1,54.7 327,55.8 325.9,56.9 324.8,58 323.7,59.2 322.6,60.3 321.5,61.5 320.4,62.7 319.3,63.9 318.2,65.2 317.1,66.4 316,67.7 314.9,69 313.8,70.3 312.7,71.6 311.6,72.9 310.5,74.2 309.4,75.6 308.3,77 307.2,78.4 306.1,79.8 305,81.2 303.9,82.6 302.8,84 301.7,85.5 300.6,87 299.5,88.4 298.4,89.9 297.3,91.4 296.2,92.4 295.1,92.4 294,92.4 292.9,92.4 291.8,92.4 290.6,92.4 289.5,92.4" fill="#B4CC94"/>
<g fill="#B4CC94">
<use href="#tdashg" x="81.3" y="466.3"/>
<use href="#tdashg" x="122.1" y="379.6"/>
<use href="#tdashg" x="145.6" y="340"/>
<use href="#tdashg" x="162.4" y="319.1"/>
<use href="#tdashg" x="175.5" y="293.6"/>
<use href="#tdashg" x="186.2" y="270.2"/>
<use href="#tdashg" x="195.1" y="250.6"/>
<use href="#tdashg" x="202.9" y="234.5"/>
<use href="#tdashg" x="209.9" y="220.6"/>
<use href="#tdashg" x="216" y="208.9"/>
<use href="#tdashg" x="221.6" y="196.8"/>
<use href="#tdashg" x="226.7" y="187.2"/>
<use href="#tdashg" x="231.5" y="178.9"/>
<use href="#tdashg" x="235.9" y="171.8"/>
<use href="#tdashg" x="239.9" y="165.5"/>
<use href="#tdashg" x="243.7" y="159.6"/>
<use href="#tdashg" x="247.3" y="154.1"/>
<use href="#tdashg" x="250.6" y="149"/>
<use href="#tdashg" x="253.8" y="144.1"/>
<use href="#tdashg" x="256.8" y="139.4"/>
<use href="#tdashg" x="259.6" y="135"/>
<use href="#tdashg" x="262.4" y="130.9"/>
<use href="#tdashg" x="265" y="126.9"/>
<use href="#tdashg" x="267.4" y="123.1"/>
<use href="#tdashg" x="269.8" y="119.5"/>
<use href="#tdashg" x="272.1" y="116.1"/>
<use href="#tdashg" x="274.3" y="112.8"/>
<use href="#tdashg" x="276.5" y="109.7"/>
<use href="#tdashg" x="278.5" y="106.7"/>
<use href="#tdashg" x="280.5" y="103.8"/>
<use href="#tdashg" x="282.4" y="101"/>
<use href="#tdashg" x="284.3" y="98.4"/>
<use href="#tdashg" x="286.1" y="95.9"/>
<use href="#tdashg" x="287.8" y="93.4"/>
<use href="#tdashg" x="289.5" y="91.1"/>
<use href="#tdashg" x="291.2" y="88.8"/>
<use href="#tdashg" x="292.8" y="86.7"/>
<use href="#tdashg" x="294.4" y="84.6"/>
<use href="#tdashg" x="295.9" y="82.6"/>
<use href="#tdashg" x="297.4" y="80.7"/>
<use href="#tdashg" x="661.3" y="12.9"/>
</g>
<path d="M84,466.3 C90.8,454.9 113.8,413.4 124.6,398.2 C135.3,383 141.8,382.1 148.6,374.9 C155.4,367.7 160.1,361.4 165.1,355.2 C170.1,349 174.6,343.9 178.6,337.7 C182.6,331.5 185.7,323.8 188.9,318 C192.1,312.2 195.2,308 197.9,303.1 C200.7,298.2 203,293.4 205.4,288.9 C207.9,284.4 210.2,280.1 212.4,276.2 C214.7,272.3 217,268.8 219,265.5 C221.1,262.2 223,259.3 224.8,256.4 C226.5,253.5 228,251 229.5,248.3 C231,245.6 232.4,242.6 233.9,240 C235.4,237.4 237.1,235.3 238.6,233 C240.1,230.7 241.5,228.1 242.8,226 C244.1,223.9 245.2,222.4 246.4,220.6 C247.6,218.8 248.8,216.9 250,215.2 C251.1,213.4 252.2,211.8 253.3,210.1 C254.4,208.5 255.5,206.9 256.5,205.3 C257.5,203.8 258.5,202.3 259.5,200.8 C260.5,199.3 261.4,197.9 262.3,196.4 C263.3,195 264.2,193.6 265.1,192.3 C266,190.9 266.8,189.6 267.7,188.2 C268.5,186.9 269.4,185.6 270.2,184.4 C271,183.1 271.8,181.8 272.6,180.6 C273.3,179.4 274.1,178.2 274.9,177 C275.6,175.8 276.3,174.7 277.1,173.5 C277.8,172.4 278.5,171.3 279.2,170.2 C279.9,169.1 280.6,168 281.3,166.9 C281.9,165.9 282.6,164.8 283.2,163.8 C283.9,162.8 284.5,161.8 285.2,160.8 C285.8,159.8 286.4,158.8 287,157.8 C287.6,156.9 288.2,155.9 288.8,155 C289.4,154 290,153.1 290.6,152.2 C291.1,151.3 291.7,150.4 292.3,149.5 C292.8,148.7 293.4,147.8 293.9,146.9 C294.5,146.1 295,145.2 295.5,144.4 C296,143.6 296.6,142.8 297.1,141.9 C297.6,141.1 298.1,140.3 298.6,139.6 C299.1,138.8 299.6,138 300.1,137.2 C300.6,136.5 301.1,135.7 301.5,135 C302,134.2 302.5,133.5 302.9,132.8 C303.4,132 303.9,131.3 304.3,130.6 C304.8,129.9 305.2,129.2 305.7,128.5 C306.1,127.9 306.6,127.2 307,126.5 C307.4,125.8 307.8,125.2 308.3,124.5 C308.7,123.9 309.1,123.2 309.5,122.6 C309.9,121.9 310.4,121.3 310.8,120.7 C311.2,120.1 311.6,119.5 312,118.8 C312.4,118.2 312.8,117.6 313.2,117 C313.5,116.5 313.9,115.9 314.3,115.3 C314.7,114.7 315.1,114.1 315.5,113.6 C315.8,113 316.2,112.4 316.6,111.9 C316.9,111.3 317.3,110.8 317.7,110.2 L318.8,108.6 L319.9,107 L321,105.3 L322.1,103.7 L323.2,102.1 L324.3,100.5 L325.4,98.9 L326.5,97.3 L327.6,95.7 L328.7,94.1 L329.8,92.5 L330.9,91 L332,89.4 L333.1,87.9 L334.2,86.4 L335.3,84.8 L336.4,83.3 L337.5,81.8 L338.6,80.4 L339.7,78.9 L340.8,77.4 L341.9,76 L343,74.5 L344.1,73.1 L345.2,71.7 L346.3,70.3 L347.5,68.9 L348.6,67.5 L349.7,66.1 L350.8,64.8 L351.9,63.5 L353,62.1 L354.1,60.8 L355.2,59.5 L356.3,58.3 L357.4,57 L358.5,55.8 L359.6,54.5 L360.7,53.3 L361.8,52.1 L362.9,51 L364,49.8 L365.1,48.7 L366.2,47.6 L367.3,46.5 L368.4,45.4 L369.5,44.3 L370.6,43.3 L371.7,42.2 L372.8,41.2 L373.9,40.2 L375,39.3 L376.1,38.3 L377.2,37.4 L378.3,36.5 L379.4,35.6 L380.5,34.8 L381.6,33.9 L382.7,33.1 L383.8,32.3 L385,31.6 L386.1,30.8 L387.2,30.1 L388.3,29.4 L389.4,28.7 L390.5,28 L391.6,27.4 L392.7,26.8 L393.8,26.2 L394.9,25.6 L396,25 L397.1,24.5 L398.2,23.9 L399.3,23.4 L400.4,22.9 L401.5,22.5 L402.6,22 L403.7,21.6 L404.8,21.1 L405.9,20.7 L407,20.3 L408.1,19.9 L409.2,19.6 L410.3,19.2 L411.4,18.9 L412.5,18.6 L413.6,18.3 L414.7,18 L415.8,17.7 L416.9,17.4 L418,17.1 L419.1,16.9 L420.2,16.7 L421.3,16.4 L422.5,16.2 L423.6,16 L424.7,15.8 L425.8,15.6 L426.9,15.4 L428,15.3 L429.1,15.1 L430.2,15 L431.3,14.8 L432.4,14.7 L433.5,14.5 L434.6,14.4 L435.7,14.3 L436.8,14.2 L437.9,14.1 L439,14 L440.1,13.9 L441.2,13.8 L442.3,13.7 L443.4,13.6 L444.5,13.5 L445.6,13.5 L446.7,13.4 L447.8,13.3 L448.9,13.2 L450,13.2 L451.1,13.1 L452.2,13.1 L453.3,13 L454.4,13 L455.5,12.9 L456.6,12.9 L457.7,12.9 L458.8,12.9 L460,12.9 L461.1,12.9 L462.2,12.9 L463.3,12.9 L464.4,12.9 L465.5,12.9 L466.6,12.9 L467.7,12.9 L468.8,12.9 L469.9,12.9 L471,12.9 L472.1,12.9 L473.2,12.9 L474.3,12.9 L475.4,12.9 L476.5,12.9 L477.6,12.9 L478.7,12.9 L479.8,12.9 L480.9,12.9 L482,12.9 L483.1,12.9 L484.2,12.9 L485.3,12.9 L486.4,12.9 L487.5,12.9 L488.6,12.9 L489.7,12.9 L490.8,12.9 L491.9,12.9 L493,12.9 L494.1,12.9 L495.2,12.9 L496.3,12.9 L497.5,12.9 L498.6,12.9 L499.7,12.9 L500.8,12.9 L501.9,12.9 L503,12.9 L504.1,12.9 L505.2,12.9 L506.3,12.9 L507.4,12.9 L508.5,12.9 L509.6,12.9 L510.7,12.9 L511.8,12.9 L512.9,12.9 L514,12.9 L515.1,12.9 L516.2,12.9 L517.3,12.9 L518.4,12.9 L519.5,12.9 L520.6,12.9 L521.7,12.9 L522.8,12.9 L523.9,12.9 L525,12.9 L526.1,12.9 L527.2,12.9 L528.3,12.9 L529.4,12.9 L530.5,12.9 L531.6,12.9 L532.7,12.9 L533.8,12.9 L535,12.9 L536.1,12.9 L537.2,12.9 L538.3,12.9 L539.4,12.9 L540.5,12.9 L541.6,12.9 L542.7,12.9 L543.8,12.9 L544.9,12.9 L546,12.9 L547.1,12.9 L548.2,12.9 L549.3,12.9 L550.4,12.9 L551.5,12.9 L552.6,12.9 L553.7,12.9 L554.8,12.9 L555.9,12.9 L557,12.9 L558.1,12.9 L559.2,12.9 L560.3,12.9 L561.4,12.9 L562.5,12.9 L563.6,12.9 L564.7,12.9 L565.8,12.9 L566.9,12.9 L568,12.9 L569.1,12.9 L570.2,12.9 L571.3,12.9 L572.5,12.9 L573.6,12.9 L574.7,12.9 L575.8,12.9 L576.9,12.9 L578,12.9 L579.1,12.9 L580.2,12.9 L581.3,12.9 L582.4,12.9 L583.5,12.9 L584.6,12.9 L585.7,12.9 L586.8,12.9 L587.9,12.9 L589,12.9 L590.1,12.9 L591.2,12.9 L592.3,12.9 L593.4,12.9 L594.5,12.9 L595.6,12.9 L596.7,12.9 L597.8,12.9 L598.9,12.9 L600,12.9 L601.1,12.9 L602.2,12.9 L603.3,12.9 L604.4,12.9 L605.5,12.9 L606.6,12.9 L607.7,12.9 L608.8,12.9 L610,12.9 L611.1,12.9 L612.2,12.9 L613.3,12.9 L614.4,12.9 L615.5,12.9 L616.6,12.9 L617.7,12.9 L618.8,12.9 L619.9,12.9 L621,12.9 L622.1,12.9 L623.2,12.9 L624.3,12.9 L625.4,12.9 L626.5,12.9 L627.6,12.9 L628.7,12.9 L629.8,12.9 L630.9,12.9 L632,12.9 L633.1,12.9 L634.2,12.9 L635.3,12.9 L636.4,12.9 L637.5,12.9 L638.6,12.9 L639.7,12.9 L640.8,12.9 L641.9,12.9 L643,12.9 L644.1,12.9 L645.2,12.9 L646.3,12.9 L647.5,12.9 L648.6,12.9 L649.7,12.9 L650.8,12.9 L651.9,12.9 L653,12.9 L654.1,12.9 L655.2,12.9 L656.3,12.9 L657.4,12.9 L658.5,12.9 L659.6,12.9 L660.7,12.9 L661.8,12.9 L662.9,12.9 L664,12.9 L664.1,12.9" fill="none" stroke="#A596BE" stroke-width="1"/>
<path d="M445.1,13.5 L446.2,13.4 L447.3,13.3 L448.4,13.3 L449.5,13.2 L450.6,13.2 L451.7,13.1 L452.8,13.1 L453.9,13 L455,13 L456.1,12.9 L457.2,12.9 L458.3,12.9 L459.4,12.9 L460.5,12.9 L461.6,12.9 L462.7,12.9 L463.8,12.9 L465,12.9 L466.1,12.9 L467.2,12.9 L468.3,12.9 L469.4,12.9 L470.5,12.9 L471.6,12.9 L472.7,12.9 L473.8,12.9 L474.9,12.9 L476,12.9 L477.1,12.9 L478.2,12.9 L479.3,12.9 L480.4,12.9 L481.5,12.9 L482.6,12.9 L483.7,12.9 L484.8,12.9 L485.9,12.9 L487,12.9 L488.1,12.9 L489.2,12.9 L490.3,12.9 L491.4,12.9 L492.5,12.9 L493.6,12.9 L494.7,12.9 L495.8,12.9 L496.9,12.9 L498,12.9 L499.1,12.9 L500.2,12.9 L501.3,12.9 L502.5,12.9 L503.6,12.9 L504.7,12.9 L505.8,12.9 L506.9,12.9 L508,12.9 L509.1,12.9 L510.2,12.9 L511.3,12.9 L512.4,12.9 L513.5,12.9 L514.6,12.9 L515.7,12.9 L516.8,12.9 L517.9,12.9 L519,12.9 L520.1,12.9 L521.2,12.9 L522.3,12.9 L523.4,12.9 L524.5,12.9 L525.6,12.9 L526.7,12.9 L527.8,12.9 L528.9,12.9 L530,12.9 L531.1,12.9 L532.2,12.9 L533.3,12.9 L534.4,12.9 L535.5,12.9 L536.6,12.9 L537.7,12.9 L538.8,12.9 L540,12.9 L541.1,12.9 L542.2,12.9 L543.3,12.9 L544.4,12.9 L545.5,12.9 L546.6,12.9 L547.7,12.9 L548.8,12.9 L549.9,12.9 L551,12.9 L552.1,12.9 L553.2,12.9 L554.3,12.9 L555.4,12.9 L556.5,12.9 L557.6,12.9 L558.7,12.9 L559.8,12.9 L560.9,12.9 L562,12.9 L563.1,12.9 L564.2,12.9 L565.3,12.9 L566.4,12.9 L567.5,12.9 L568.6,12.9 L569.7,12.9 L570.8,12.9 L571.9,12.9 L573,12.9 L574.1,12.9 L575.2,12.9 L576.3,12.9 L577.5,12.9 L578.6,12.9 L579.7,12.9 L580.8,12.9 L581.9,12.9 L583,12.9 L584.1,12.9 L585.2,12.9 L586.3,12.9 L587.4,12.9 L588.5,12.9 L589.6,12.9 L590.7,12.9 L591.8,12.9 L592.9,12.9 L594,12.9 L595.1,12.9 L596.2,12.9 L597.3,12.9 L598.4,12.9 L599.5,12.9 L600.6,12.9 L601.7,12.9 L602.8,12.9 L603.9,12.9 L605,12.9 L606.1,12.9 L607.2,12.9 L608.3,12.9 L609.4,12.9 L610.5,12.9 L611.6,12.9 L612.7,12.9 L613.8,12.9 L615,12.9 L616.1,12.9 L617.2,12.9 L618.3,12.9 L619.4,12.9 L620.5,12.9 L621.6,12.9 L622.7,12.9 L623.8,12.9 L624.9,12.9 L626,12.9 L627.1,12.9 L628.2,12.9 L629.3,12.9 L630.4,12.9 L631.5,12.9 L632.6,12.9 L633.7,12.9 L634.8,12.9 L635.9,12.9 L637,12.9 L638.1,12.9 L639.2,12.9 L640.3,12.9 L641.4,12.9 L642.5,12.9 L643.6,12.9 L644.7,12.9 L645.8,12.9 L646.9,12.9 L648,12.9 L649.1,12.9 L650.2,12.9 L651.3,12.9 L652.5,12.9 L653.6,12.9 L654.7,12.9 L655.8,12.9 L656.9,12.9 L658,12.9 L659.1,12.9 L660.2,12.9 L661.3,12.9 L662.4,12.9 L663.5,12.9 L664.1,12.9" fill="none" stroke="#A596BE" stroke-width="6.6" stroke-linecap="butt" stroke-linejoin="round"/>
<g fill="#A596BE">
<use href="#tdiamond" x="84" y="466.3"/>
<use href="#tdiamond" x="124.6" y="398.2"/>
<use href="#tdiamond" x="148.6" y="374.9"/>
<use href="#tdiamond" x="165.1" y="355.2"/>
<use href="#tdiamond" x="178.6" y="337.7"/>
<use href="#tdiamond" x="188.9" y="318"/>
<use href="#tdiamond" x="197.9" y="303.1"/>
<use href="#tdiamond" x="205.4" y="288.9"/>
<use href="#tdiamond" x="212.4" y="276.2"/>
<use href="#tdiamond" x="219" y="265.5"/>
<use href="#tdiamond" x="224.8" y="256.4"/>
<use href="#tdiamond" x="229.5" y="248.3"/>
<use href="#tdiamond" x="233.9" y="240"/>
<use href="#tdiamond" x="238.6" y="233"/>
<use href="#tdiamond" x="242.8" y="226"/>
<use href="#tdiamond" x="246.4" y="220.6"/>
<use href="#tdiamond" x="250" y="215.2"/>
<use href="#tdiamond" x="253.3" y="210.1"/>
<use href="#tdiamond" x="256.5" y="205.3"/>
<use href="#tdiamond" x="259.5" y="200.8"/>
<use href="#tdiamond" x="262.3" y="196.4"/>
<use href="#tdiamond" x="265.1" y="192.3"/>
<use href="#tdiamond" x="267.7" y="188.2"/>
<use href="#tdiamond" x="270.2" y="184.4"/>
<use href="#tdiamond" x="272.6" y="180.6"/>
<use href="#tdiamond" x="274.9" y="177"/>
<use href="#tdiamond" x="277.1" y="173.5"/>
<use href="#tdiamond" x="279.2" y="170.2"/>
<use href="#tdiamond" x="281.3" y="166.9"/>
<use href="#tdiamond" x="283.2" y="163.8"/>
<use href="#tdiamond" x="285.2" y="160.8"/>
<use href="#tdiamond" x="287" y="157.8"/>
<use href="#tdiamond" x="288.8" y="155"/>
<use href="#tdiamond" x="290.6" y="152.2"/>
<use href="#tdiamond" x="292.3" y="149.5"/>
<use href="#tdiamond" x="293.9" y="146.9"/>
<use href="#tdiamond" x="295.5" y="144.4"/>
<use href="#tdiamond" x="297.1" y="141.9"/>
<use href="#tdiamond" x="298.6" y="139.6"/>
<use href="#tdiamond" x="300.1" y="137.2"/>
<use href="#tdiamond" x="301.5" y="135"/>
<use href="#tdiamond" x="302.9" y="132.8"/>
<use href="#tdiamond" x="304.3" y="130.6"/>
<use href="#tdiamond" x="305.7" y="128.5"/>
<use href="#tdiamond" x="307" y="126.5"/>
<use href="#tdiamond" x="308.3" y="124.5"/>
<use href="#tdiamond" x="309.5" y="122.6"/>
<use href="#tdiamond" x="310.8" y="120.7"/>
<use href="#tdiamond" x="312" y="118.8"/>
<use href="#tdiamond" x="313.2" y="117"/>
<use href="#tdiamond" x="314.3" y="115.3"/>
<use href="#tdiamond" x="315.5" y="113.6"/>
<use href="#tdiamond" x="316.6" y="111.9"/>
<use href="#tdiamond" x="317.7" y="110.3"/>
<use href="#tdiamond" x="318.7" y="108.6"/>
<use href="#tdiamond" x="319.8" y="107.1"/>
<use href="#tdiamond" x="320.8" y="105.5"/>
<use href="#tdiamond" x="321.8" y="104"/>
<use href="#tdiamond" x="322.8" y="102.6"/>
<use href="#tdiamond" x="323.8" y="101.1"/>
<use href="#tdiamond" x="324.8" y="99.7"/>
<use href="#tdiamond" x="325.8" y="98.3"/>
<use href="#tdiamond" x="326.7" y="97"/>
<use href="#tdiamond" x="327.6" y="95.7"/>
<use href="#tdiamond" x="328.5" y="94.4"/>
<use href="#tdiamond" x="329.4" y="93.1"/>
<use href="#tdiamond" x="330.3" y="91.8"/>
<use href="#tdiamond" x="331.2" y="90.6"/>
<use href="#tdiamond" x="332" y="89.4"/>
<use href="#tdiamond" x="332.9" y="88.2"/>
<use href="#tdiamond" x="333.7" y="87.1"/>
<use href="#tdiamond" x="334.5" y="86"/>
<use href="#tdiamond" x="335.3" y="84.8"/>
<use href="#tdiamond" x="336.1" y="83.8"/>
<use href="#tdiamond" x="336.9" y="82.7"/>
<use href="#tdiamond" x="337.7" y="81.6"/>
<use href="#tdiamond" x="338.4" y="80.6"/>
<use href="#tdiamond" x="339.2" y="79.6"/>
<use href="#tdiamond" x="339.9" y="78.6"/>
<use href="#tdiamond" x="340.7" y="77.6"/>
<use href="#tdiamond" x="341.4" y="76.7"/>
<use href="#tdiamond" x="342.1" y="75.7"/>
<use href="#tdiamond" x="342.8" y="74.8"/>
<use href="#tdiamond" x="343.5" y="73.9"/>
<use href="#tdiamond" x="344.2" y="73"/>
<use href="#tdiamond" x="344.9" y="72.1"/>
<use href="#tdiamond" x="345.6" y="71.2"/>
<use href="#tdiamond" x="346.3" y="70.4"/>
<use href="#tdiamond" x="346.9" y="69.5"/>
<use href="#tdiamond" x="347.6" y="68.7"/>
<use href="#tdiamond" x="348.2" y="67.9"/>
<use href="#tdiamond" x="348.9" y="67.1"/>
<use href="#tdiamond" x="349.5" y="66.3"/>
<use href="#tdiamond" x="350.1" y="65.6"/>
<use href="#tdiamond" x="350.7" y="64.8"/>
<use href="#tdiamond" x="351.4" y="64.1"/>
<use href="#tdiamond" x="352" y="63.3"/>
<use href="#tdiamond" x="352.6" y="62.6"/>
<use href="#tdiamond" x="353.2" y="61.9"/>
<use href="#tdiamond" x="353.8" y="61.2"/>
<use href="#tdiamond" x="354.3" y="60.5"/>
<use href="#tdiamond" x="354.9" y="59.9"/>
<use href="#tdiamond" x="355.5" y="59.2"/>
<use href="#tdiamond" x="356" y="58.5"/>
<use href="#tdiamond" x="356.6" y="57.9"/>
<use href="#tdiamond" x="357.2" y="57.3"/>
<use href="#tdiamond" x="357.7" y="56.6"/>
<use href="#tdiamond" x="358.3" y="56"/>
<use href="#tdiamond" x="358.8" y="55.4"/>
<use href="#tdiamond" x="359.3" y="54.8"/>
<use href="#tdiamond" x="359.9" y="54.2"/>
<use href="#tdiamond" x="360.4" y="53.7"/>
<use href="#tdiamond" x="360.9" y="53.1"/>
<use href="#tdiamond" x="361.4" y="52.5"/>
<use href="#tdiamond" x="361.9" y="52"/>
<use href="#tdiamond" x="362.4" y="51.4"/>
<use href="#tdiamond" x="362.9" y="50.9"/>
<use href="#tdiamond" x="363.4" y="50.4"/>
<use href="#tdiamond" x="363.9" y="49.9"/>
<use href="#tdiamond" x="364.4" y="49.4"/>
<use href="#tdiamond" x="364.9" y="48.9"/>
<use href="#tdiamond" x="365.4" y="48.4"/>
<use href="#tdiamond" x="365.9" y="47.9"/>
<use href="#tdiamond" x="366.3" y="47.4"/>
<use href="#tdiamond" x="366.8" y="46.9"/>
<use href="#tdiamond" x="367.3" y="46.5"/>
<use href="#tdiamond" x="367.8" y="46"/>
<use href="#tdiamond" x="368.3" y="45.5"/>
<use href="#tdiamond" x="368.8" y="45"/>
<use href="#tdiamond" x="369.3" y="44.5"/>
<use href="#tdiamond" x="369.8" y="44"/>
<use href="#tdiamond" x="370.3" y="43.5"/>
<use href="#tdiamond" x="370.8" y="43"/>
<use href="#tdiamond" x="371.3" y="42.6"/>
<use href="#tdiamond" x="371.9" y="42.1"/>
<use href="#tdiamond" x="372.4" y="41.6"/>
<use href="#tdiamond" x="372.9" y="41.2"/>
<use href="#tdiamond" x="373.4" y="40.7"/>
<use href="#tdiamond" x="373.9" y="40.2"/>
<use href="#tdiamond" x="374.4" y="39.8"/>
<use href="#tdiamond" x="375" y="39.3"/>
<use href="#tdiamond" x="375.5" y="38.9"/>
<use href="#tdiamond" x="376" y="38.5"/>
<use href="#tdiamond" x="376.5" y="38"/>
<use href="#tdiamond" x="377" y="37.6"/>
<use href="#tdiamond" x="377.5" y="37.2"/>
<use href="#tdiamond" x="378" y="36.7"/>
<use href="#tdiamond" x="378.6" y="36.3"/>
<use href="#tdiamond" x="379.1" y="35.9"/>
<use href="#tdiamond" x="379.6" y="35.5"/>
<use href="#tdiamond" x="380.1" y="35.1"/>
<use href="#tdiamond" x="380.6" y="34.7"/>
<use href="#tdiamond" x="381.1" y="34.3"/>
<use href="#tdiamond" x="381.6" y="33.9"/>
<use href="#tdiamond" x="382.2" y="33.5"/>
<use href="#tdiamond" x="382.7" y="33.1"/>
<use href="#tdiamond" x="383.3" y="32.7"/>
<use href="#tdiamond" x="383.8" y="32.3"/>
<use href="#tdiamond" x="384.4" y="31.9"/>
<use href="#tdiamond" x="385" y="31.6"/>
<use href="#tdiamond" x="385.5" y="31.2"/>
<use href="#tdiamond" x="386.1" y="30.8"/>
<use href="#tdiamond" x="386.6" y="30.4"/>
<use href="#tdiamond" x="387.2" y="30.1"/>
<use href="#tdiamond" x="387.7" y="29.7"/>
<use href="#tdiamond" x="388.3" y="29.4"/>
<use href="#tdiamond" x="388.8" y="29"/>
<use href="#tdiamond" x="389.4" y="28.7"/>
<use href="#tdiamond" x="389.9" y="28.4"/>
<use href="#tdiamond" x="390.5" y="28"/>
<use href="#tdiamond" x="391" y="27.7"/>
<use href="#tdiamond" x="391.6" y="27.4"/>
<use href="#tdiamond" x="392.1" y="27.1"/>
<use href="#tdiamond" x="392.7" y="26.8"/>
<use href="#tdiamond" x="393.2" y="26.5"/>
<use href="#tdiamond" x="393.8" y="26.2"/>
<use href="#tdiamond" x="394.3" y="25.9"/>
<use href="#tdiamond" x="394.9" y="25.6"/>
<use href="#tdiamond" x="395.4" y="25.3"/>
<use href="#tdiamond" x="396" y="25"/>
<use href="#tdiamond" x="396.6" y="24.7"/>
<use href="#tdiamond" x="397.2" y="24.4"/>
<use href="#tdiamond" x="397.7" y="24.2"/>
<use href="#tdiamond" x="398.3" y="23.9"/>
<use href="#tdiamond" x="398.9" y="23.6"/>
<use href="#tdiamond" x="399.5" y="23.3"/>
<use href="#tdiamond" x="400.1" y="23.1"/>
<use href="#tdiamond" x="400.7" y="22.8"/>
<use href="#tdiamond" x="401.3" y="22.6"/>
<use href="#tdiamond" x="401.9" y="22.3"/>
<use href="#tdiamond" x="402.5" y="22.1"/>
<use href="#tdiamond" x="403" y="21.8"/>
<use href="#tdiamond" x="403.6" y="21.6"/>
<use href="#tdiamond" x="404.2" y="21.4"/>
<use href="#tdiamond" x="404.8" y="21.1"/>
<use href="#tdiamond" x="405.4" y="20.9"/>
<use href="#tdiamond" x="406" y="20.7"/>
<use href="#tdiamond" x="406.6" y="20.5"/>
<use href="#tdiamond" x="407.2" y="20.3"/>
<use href="#tdiamond" x="407.7" y="20.1"/>
<use href="#tdiamond" x="408.3" y="19.9"/>
<use href="#tdiamond" x="408.9" y="19.7"/>
<use href="#tdiamond" x="409.5" y="19.5"/>
<use href="#tdiamond" x="410.1" y="19.3"/>
<use href="#tdiamond" x="410.7" y="19.1"/>
<use href="#tdiamond" x="411.3" y="18.9"/>
<use href="#tdiamond" x="411.9" y="18.8"/>
<use href="#tdiamond" x="412.5" y="18.6"/>
<use href="#tdiamond" x="413" y="18.4"/>
<use href="#tdiamond" x="413.6" y="18.3"/>
<use href="#tdiamond" x="414.2" y="18.1"/>
<use href="#tdiamond" x="414.8" y="17.9"/>
<use href="#tdiamond" x="415.4" y="17.8"/>
<use href="#tdiamond" x="416" y="17.6"/>
<use href="#tdiamond" x="416.6" y="17.5"/>
<use href="#tdiamond" x="417.2" y="17.3"/>
<use href="#tdiamond" x="417.7" y="17.2"/>
<use href="#tdiamond" x="418.3" y="17.1"/>
<use href="#tdiamond" x="418.8" y="17"/>
<use href="#tdiamond" x="419.4" y="16.8"/>
<use href="#tdiamond" x="419.9" y="16.7"/>
<use href="#tdiamond" x="420.4" y="16.6"/>
<use href="#tdiamond" x="420.9" y="16.5"/>
<use href="#tdiamond" x="421.4" y="16.4"/>
<use href="#tdiamond" x="421.9" y="16.3"/>
<use href="#tdiamond" x="422.5" y="16.2"/>
<use href="#tdiamond" x="423" y="16.1"/>
<use href="#tdiamond" x="423.5" y="16"/>
<use href="#tdiamond" x="424" y="15.9"/>
<use href="#tdiamond" x="424.5" y="15.8"/>
<use href="#tdiamond" x="425" y="15.7"/>
<use href="#tdiamond" x="425.5" y="15.7"/>
<use href="#tdiamond" x="426.1" y="15.6"/>
<use href="#tdiamond" x="426.6" y="15.5"/>
<use href="#tdiamond" x="427.1" y="15.4"/>
<use href="#tdiamond" x="427.6" y="15.3"/>
<use href="#tdiamond" x="428.1" y="15.2"/>
<use href="#tdiamond" x="428.6" y="15.2"/>
<use href="#tdiamond" x="429.1" y="15.1"/>
<use href="#tdiamond" x="429.7" y="15"/>
<use href="#tdiamond" x="430.2" y="15"/>
<use href="#tdiamond" x="430.7" y="14.9"/>
<use href="#tdiamond" x="431.2" y="14.8"/>
<use href="#tdiamond" x="431.7" y="14.7"/>
<use href="#tdiamond" x="432.2" y="14.7"/>
<use href="#tdiamond" x="432.7" y="14.6"/>
<use href="#tdiamond" x="433.3" y="14.6"/>
<use href="#tdiamond" x="433.8" y="14.5"/>
<use href="#tdiamond" x="434.3" y="14.4"/>
<use href="#tdiamond" x="434.8" y="14.4"/>
<use href="#tdiamond" x="435.3" y="14.3"/>
<use href="#tdiamond" x="435.8" y="14.3"/>
<use href="#tdiamond" x="436.3" y="14.2"/>
<use href="#tdiamond" x="436.9" y="14.2"/>
<use href="#tdiamond" x="437.4" y="14.1"/>
<use href="#tdiamond" x="437.9" y="14.1"/>
<use href="#tdiamond" x="438.4" y="14"/>
<use href="#tdiamond" x="438.9" y="14"/>
<use href="#tdiamond" x="439.4" y="13.9"/>
<use href="#tdiamond" x="440" y="13.9"/>
<use href="#tdiamond" x="440.5" y="13.8"/>
<use href="#tdiamond" x="441" y="13.8"/>
<use href="#tdiamond" x="441.5" y="13.8"/>
<use href="#tdiamond" x="442" y="13.7"/>
<use href="#tdiamond" x="442.5" y="13.7"/>
<use href="#tdiamond" x="443" y="13.6"/>
<use href="#tdiamond" x="443.6" y="13.6"/>
<use href="#tdiamond" x="444.1" y="13.6"/>
<use href="#tdiamond" x="444.6" y="13.5"/>
<use href="#tdiamond" x="445.1" y="13.5"/>
<use href="#tdiamond" x="664.1" y="12.9"/>
</g>
</g>
<text transform="translate(68.1 473.8) scale(1.3507 1)" font-size="26"><tspan>0</tspan></text>
<text transform="translate(42.8 428.5) scale(1.3507 1)" font-size="26"><tspan>0.1</tspan></text>
<text transform="translate(42.5 383.1) scale(1.3507 1)" font-size="26"><tspan>0.2</tspan></text>
<text transform="translate(42.2 337.8) scale(1.3507 1)" font-size="26"><tspan>0.3</tspan></text>
<text transform="translate(41.7 292.5) scale(1.3507 1)" font-size="26"><tspan>0.4</tspan></text>
<text transform="translate(42.3 247.2) scale(1.3507 1)" font-size="26"><tspan>0.5</tspan></text>
<text transform="translate(42 201.9) scale(1.3507 1)" font-size="26"><tspan>0.6</tspan></text>
<text transform="translate(41.8 156.5) scale(1.3507 1)" font-size="26"><tspan>0.7</tspan></text>
<text transform="translate(42.2 111.2) scale(1.3507 1)" font-size="26"><tspan>0.8</tspan></text>
<text transform="translate(42.3 65.9) scale(1.3507 1)" font-size="26"><tspan>0.9</tspan></text>
<text transform="translate(68.3 20.6) scale(1.3507 1)" font-size="26"><tspan>1</tspan></text>
<text transform="translate(105.2 504) scale(1.3319 1)" font-size="25.5"><tspan>1</tspan></text>
<text transform="translate(281.7 504) scale(1.3319 1)" font-size="25.5"><tspan>10</tspan></text>
<text transform="translate(454 504) scale(1.3319 1)" font-size="25.5"><tspan>100</tspan></text>
<text transform="translate(630.9 504) scale(1.3319 1)" font-size="25.5"><tspan>1000</tspan></text>
<text transform="translate(804.8 504) scale(1.3319 1)" font-size="25.5"><tspan>10000</tspan></text>
<text transform="translate(357 534.3) scale(1.3489 1)" font-size="25"><tspan>Dimensionless</tspan></text>
<text transform="translate(573.6 534.3) scale(1.3488 1)" font-size="25"><tspan>Time</tspan></text>
<text transform="translate(657.7 534.3) scale(1.2675 1)" font-size="25"><tspan>(t</tspan><tspan font-size="15" dy="0" style="stroke-width:0.1px">D</tspan><tspan>)</tspan></text>
<text transform="translate(27.6 426) scale(1.3036 0.9822) rotate(-90)" font-size="26"><tspan>Dimensionless Concentration  (C</tspan><tspan font-size="14.3" dy="0" style="stroke-width:0.1px">D</tspan><tspan>)</tspan></text>
<g transform="scale(1.36 1)">
<path d="M333.7,238.7H351.7" stroke="#DC8237" stroke-width="1.25"/>
<use href="#tcircle" transform="translate(343.1 238.7) scale(0.85 0.72)" fill="#DC8237"/>
<path d="M333.7,287.7H351.7" stroke="#CD8C8C" stroke-width="1.25"/>
<use href="#tdashp" transform="translate(340.6 287.7) scale(0.85 0.72)" fill="#CD8C8C"/>
<path d="M333.7,336.6H351.7" stroke="#8AA5CD" stroke-width="1.25"/>
<use href="#tplus" transform="translate(343.1 336.6) scale(0.85 0.72)" fill="none" stroke="#8AA5CD"/>
<path d="M333.7,384.9H351.7" stroke="#B4CC94" stroke-width="1.25"/>
<use href="#tdashg" transform="translate(339.6 384.9) scale(0.85 0.72)" fill="#B4CC94"/>
<path d="M333.7,433.8H351.7" stroke="#A596BE" stroke-width="1.25"/>
<use href="#tdiamond" transform="translate(343.1 433.8) scale(0.85 0.72)" fill="#A596BE"/>
</g>
<text transform="translate(481.2 247.3) scale(1.3619 1)" font-size="25"><tspan>Porosity Ratio=1_Grid(5,11)</tspan></text>
<text transform="translate(481.2 296.3) scale(1.3619 1)" font-size="25"><tspan>Porosity Ratio=3_Grid(5,11)</tspan></text>
<text transform="translate(481.2 345.3) scale(1.3619 1)" font-size="25"><tspan>Porosity Ratio=5_Grid(5,11)</tspan></text>
<text transform="translate(481.2 394.4) scale(1.3586 1)" font-size="25"><tspan>Porosity Ratio=10_Grid(5,11)</tspan></text>
<text transform="translate(481.2 443.5) scale(1.3586 1)" font-size="25"><tspan>Porosity Ratio=20_Grid(5,11)</tspan></text>
<g fill="#000">
<rect x="113" y="602.6" width="822.8" height="2.2"/>
<rect x="113" y="602.6" width="2.9" height="449"/>
<rect x="932.9" y="602.6" width="2.9" height="449"/>
<rect x="113" y="1049.9" width="822.8" height="1.7"/>
</g>
<g transform="scale(1.36 1)">
<path d="M85.5,1052.3 C92.3,1049.5 115.4,1043.5 126,1035.4 C136.7,1027.3 142.8,1015.8 149.6,1003.6 C156.3,991.4 161.4,976.3 166.4,962.4 C171.4,948.5 175.4,934 179.3,920 C183.2,906 186.7,891.4 189.9,878.7 C193,866 195.7,854.8 198.4,843.8 C201.1,832.8 203.4,822.7 205.9,813 C208.3,803.3 211.1,793.7 213.2,785.4 C215.2,777.1 216.4,770.1 218.4,763.4 C220.3,756.7 223.1,750.5 224.9,745 C226.8,739.5 227.8,734.8 229.4,730.2 C231,725.7 233.1,721.6 234.6,717.7 C236.2,713.9 237.4,710.2 238.8,707.1 C240.2,704 241.6,702 242.9,699.3 C244.2,696.6 245.5,693.1 246.6,690.8 C247.8,688.5 248.7,687.1 249.8,685.4 C250.9,683.6 252.1,681.7 253.1,680.1 C254.2,678.5 255.2,677.1 256.3,675.7 C257.3,674.4 258.3,673.1 259.2,671.9 C260.2,670.7 261.1,669.6 262.1,668.6 C263,667.5 263.9,666.5 264.8,665.5 C265.6,664.6 266.5,663.6 267.3,662.7 C268.2,661.8 269,660.9 269.8,660 C270.6,659.1 271.4,658.2 272.2,657.3 C273,656.5 273.7,655.6 274.5,654.8 C275.2,654 275.9,653.1 276.6,652.4 C277.4,651.6 278.1,650.8 278.8,650.1 C279.4,649.3 280.1,648.6 280.8,647.9 C281.5,647.3 282.1,646.6 282.8,646 C283.4,645.3 284,644.7 284.7,644.1 C285.3,643.5 285.9,642.9 286.5,642.4 C287.1,641.8 287.7,641.3 288.3,640.8 C288.9,640.3 289.4,639.7 290,639.3 C290.6,638.8 291.1,638.3 291.7,637.8 C292.2,637.4 292.8,636.9 293.3,636.5 C293.9,636.1 294.4,635.7 294.9,635.2 C295.4,634.8 296,634.4 296.5,634.1 C297,633.7 297.5,633.3 298,632.9 C298.5,632.6 299,632.2 299.4,631.9 C299.9,631.5 300.4,631.2 300.9,630.9 C301.3,630.6 301.8,630.2 302.3,629.9 C302.7,629.6 303.2,629.3 303.6,629 C304.1,628.7 304.5,628.5 305,628.2 C305.4,627.9 305.8,627.6 306.3,627.4 C306.7,627.1 307.1,626.8 307.5,626.6 C308,626.3 308.4,626.1 308.8,625.8 C309.2,625.6 309.6,625.4 310,625.1 C310.4,624.9 310.8,624.7 311.2,624.5 C311.6,624.2 312,624 312.4,623.8 C312.8,623.6 313.1,623.4 313.5,623.2 C313.9,623 314.3,622.8 314.7,622.6 C315,622.4 315.4,622.2 315.8,622 C316.1,621.8 316.5,621.7 316.9,621.5 L318,620.9 L319.1,620.4 L320.2,619.9 L321.3,619.4 L322.4,618.9 L323.5,618.4 L324.6,617.9 L325.7,617.4 L326.8,617 L327.9,616.5 L329,616.1 L330.1,615.7 L331.2,615.2 L332.3,614.8 L333.4,614.4 L334.5,614 L335.6,613.6 L336.7,613.3 L337.8,612.9 L338.9,612.6 L340,612.2 L341.1,611.9 L342.2,611.5 L343.3,611.2 L344.4,610.9 L345.5,610.6 L346.6,610.3 L347.7,610 L348.8,609.7 L349.9,609.5 L351.1,609.2 L352.2,609 L353.3,608.7 L354.4,608.5 L355.5,608.3 L356.6,608 L357.7,607.8 L358.8,607.6 L359.9,607.4 L361,607.2 L362.1,607 L363.2,606.9 L364.3,606.7 L365.4,606.5 L366.5,606.4 L367.6,606.3 L368.7,606.1 L369.8,606 L370.9,605.9 L372,605.7 L373.1,605.6 L374.2,605.5 L375.3,605.4 L376.4,605.4 L377.5,605.4 L378.6,605.4 L379.7,605.4 L380.8,605.4 L381.9,605.4 L383,605.4 L384.1,605.4 L385.2,605.4 L386.3,605.4 L387.4,605.4 L388.6,605.4 L389.7,605.4 L390.8,605.4 L391.9,605.4 L393,605.4 L394.1,605.4 L395.2,605.4 L396.3,605.4 L397.4,605.4 L398.5,605.4 L399.6,605.4 L400.7,605.4 L401.8,605.4 L402.9,605.4 L404,605.4 L405.1,605.4 L406.2,605.4 L407.3,605.4 L408.4,605.4 L409.5,605.4 L410.6,605.4 L411.7,605.4 L412.8,605.4 L413.9,605.4 L415,605.4 L416.1,605.4 L417.2,605.4 L418.3,605.4 L419.4,605.4 L420.5,605.4 L421.6,605.4 L422.7,605.4 L423.8,605.4 L424.9,605.4 L426.1,605.4 L427.2,605.4 L428.3,605.4 L429.4,605.4 L430.5,605.4 L431.6,605.4 L432.7,605.4 L433.8,605.4 L434.9,605.4 L436,605.4 L437.1,605.4 L438.2,605.4 L439.3,605.4 L440.4,605.4 L441.5,605.4 L442.6,605.4 L443.7,605.4 L444.8,605.4 L445.9,605.4 L447,605.4 L448.1,605.4 L449.2,605.4 L450.3,605.4 L451.4,605.4 L452.5,605.4 L453.6,605.4 L454.7,605.4 L455.8,605.4 L456.9,605.4 L458,605.4 L459.1,605.4 L460.2,605.4 L461.3,605.4 L462.4,605.4 L463.6,605.4 L464.7,605.4 L465.8,605.4 L466.9,605.4 L468,605.4 L469.1,605.4 L470.2,605.4 L471.3,605.4 L472.4,605.4 L473.5,605.4 L474.6,605.4 L475.7,605.4 L476.8,605.4 L477.9,605.4 L479,605.4 L480.1,605.4 L481.2,605.4 L482.3,605.4 L483.4,605.4 L484.5,605.4 L485.6,605.4 L486.7,605.4 L487.8,605.4 L488.9,605.4 L490,605.4 L491.1,605.4 L492.2,605.4 L493.3,605.4 L494.4,605.4 L495.5,605.4 L496.6,605.4 L497.7,605.4 L498.8,605.4 L499.9,605.4 L501.1,605.4 L502.2,605.4 L503.3,605.4 L504.4,605.4 L505.5,605.4 L506.6,605.4 L507.7,605.4 L508.8,605.4 L509.9,605.4 L511,605.4 L512.1,605.4 L513.2,605.4 L514.3,605.4 L515.4,605.4 L516.5,605.4 L517.6,605.4 L518.7,605.4 L519.8,605.4 L520.9,605.4 L522,605.4 L523.1,605.4 L524.2,605.4 L525.3,605.4 L526.4,605.4 L527.5,605.4 L528.6,605.4 L529.7,605.4 L530.8,605.4 L531.9,605.4 L533,605.4 L534.1,605.4 L535.2,605.4 L536.3,605.4 L537.4,605.4 L538.6,605.4 L539.7,605.4 L540.8,605.4 L541.9,605.4 L543,605.4 L544.1,605.4 L545.2,605.4 L546.3,605.4 L547.4,605.4 L548.5,605.4 L549.6,605.4 L550.7,605.4 L551.8,605.4 L552.9,605.4 L554,605.4 L555.1,605.4 L556.2,605.4 L557.3,605.4 L558.4,605.4 L559.5,605.4 L560.6,605.4 L561.7,605.4 L562.8,605.4 L563.9,605.4 L565,605.4 L566.1,605.4 L567.2,605.4 L568.3,605.4 L569.4,605.4 L570.5,605.4 L571.6,605.4 L572.7,605.4 L573.8,605.4 L574.9,605.4 L576.1,605.4 L577.2,605.4 L578.3,605.4 L579.4,605.4 L580.5,605.4 L581.6,605.4 L582.7,605.4 L583.8,605.4 L584.9,605.4 L586,605.4 L587.1,605.4 L588.2,605.4 L589.3,605.4 L590.4,605.4 L591.5,605.4 L592.6,605.4 L593.7,605.4 L594.8,605.4 L595.9,605.4 L597,605.4 L598.1,605.4 L599.2,605.4 L600.3,605.4 L601.4,605.4 L602.5,605.4 L603.6,605.4 L604.7,605.4 L605.8,605.4 L606.9,605.4 L608,605.4 L609.1,605.4 L610.2,605.4 L611.3,605.4 L612.4,605.4 L613.6,605.4 L614.7,605.4 L615.8,605.4 L616.9,605.4 L618,605.4 L619.1,605.4 L620.2,605.4 L621.3,605.4 L622.4,605.4 L623.5,605.4 L624.6,605.4 L625.7,605.4 L626.8,605.4 L627.9,605.4 L629,605.4 L630.1,605.4 L631.2,605.4 L632.3,605.4 L633.4,605.4 L634.5,605.4 L635.6,605.4 L636.7,605.4 L637.8,605.4 L638.9,605.4 L640,605.4 L641.1,605.4 L642.2,605.4 L643.3,605.4 L644.4,605.4 L645.5,605.4 L646.6,605.4 L647.7,605.4 L648.8,605.4 L649.9,605.4 L651.1,605.4 L652.2,605.4 L653.3,605.4 L654.4,605.4 L655.5,605.4 L656.6,605.4 L657.7,605.4 L658.8,605.4 L659.8,605.4" fill="none" stroke="#C0504D" stroke-width="1"/>
<path d="M370.2,605.9 L371.3,605.8 L372.4,605.7 L373.5,605.6 L374.6,605.5 L375.7,605.4 L376.8,605.4 L377.9,605.4 L379,605.4 L380.1,605.4 L381.3,605.4 L382.4,605.4 L383.5,605.4 L384.6,605.4 L385.7,605.4 L386.8,605.4 L387.9,605.4 L389,605.4 L390.1,605.4 L391.2,605.4 L392.3,605.4 L393.4,605.4 L394.5,605.4 L395.6,605.4 L396.7,605.4 L397.8,605.4 L398.9,605.4 L400,605.4 L401.1,605.4 L402.2,605.4 L403.3,605.4 L404.4,605.4 L405.5,605.4 L406.6,605.4 L407.7,605.4 L408.8,605.4 L409.9,605.4 L411,605.4 L412.1,605.4 L413.2,605.4 L414.3,605.4 L415.4,605.4 L416.5,605.4 L417.6,605.4 L418.8,605.4 L419.9,605.4 L421,605.4 L422.1,605.4 L423.2,605.4 L424.3,605.4 L425.4,605.4 L426.5,605.4 L427.6,605.4 L428.7,605.4 L429.8,605.4 L430.9,605.4 L432,605.4 L433.1,605.4 L434.2,605.4 L435.3,605.4 L436.4,605.4 L437.5,605.4 L438.6,605.4 L439.7,605.4 L440.8,605.4 L441.9,605.4 L443,605.4 L444.1,605.4 L445.2,605.4 L446.3,605.4 L447.4,605.4 L448.5,605.4 L449.6,605.4 L450.7,605.4 L451.8,605.4 L452.9,605.4 L454,605.4 L455.1,605.4 L456.3,605.4 L457.4,605.4 L458.5,605.4 L459.6,605.4 L460.7,605.4 L461.8,605.4 L462.9,605.4 L464,605.4 L465.1,605.4 L466.2,605.4 L467.3,605.4 L468.4,605.4 L469.5,605.4 L470.6,605.4 L471.7,605.4 L472.8,605.4 L473.9,605.4 L475,605.4 L476.1,605.4 L477.2,605.4 L478.3,605.4 L479.4,605.4 L480.5,605.4 L481.6,605.4 L482.7,605.4 L483.8,605.4 L484.9,605.4 L486,605.4 L487.1,605.4 L488.2,605.4 L489.3,605.4 L490.4,605.4 L491.5,605.4 L492.6,605.4 L493.8,605.4 L494.9,605.4 L496,605.4 L497.1,605.4 L498.2,605.4 L499.3,605.4 L500.4,605.4 L501.5,605.4 L502.6,605.4 L503.7,605.4 L504.8,605.4 L505.9,605.4 L507,605.4 L508.1,605.4 L509.2,605.4 L510.3,605.4 L511.4,605.4 L512.5,605.4 L513.6,605.4 L514.7,605.4 L515.8,605.4 L516.9,605.4 L518,605.4 L519.1,605.4 L520.2,605.4 L521.3,605.4 L522.4,605.4 L523.5,605.4 L524.6,605.4 L525.7,605.4 L526.8,605.4 L527.9,605.4 L529,605.4 L530.1,605.4 L531.3,605.4 L532.4,605.4 L533.5,605.4 L534.6,605.4 L535.7,605.4 L536.8,605.4 L537.9,605.4 L539,605.4 L540.1,605.4 L541.2,605.4 L542.3,605.4 L543.4,605.4 L544.5,605.4 L545.6,605.4 L546.7,605.4 L547.8,605.4 L548.9,605.4 L550,605.4 L551.1,605.4 L552.2,605.4 L553.3,605.4 L554.4,605.4 L555.5,605.4 L556.6,605.4 L557.7,605.4 L558.8,605.4 L559.9,605.4 L561,605.4 L562.1,605.4 L563.2,605.4 L564.3,605.4 L565.4,605.4 L566.5,605.4 L567.6,605.4 L568.8,605.4 L569.9,605.4 L571,605.4 L572.1,605.4 L573.2,605.4 L574.3,605.4 L575.4,605.4 L576.5,605.4 L577.6,605.4 L578.7,605.4 L579.8,605.4 L580.9,605.4 L582,605.4 L583.1,605.4 L584.2,605.4 L585.3,605.4 L586.4,605.4 L587.5,605.4 L588.6,605.4 L589.7,605.4 L590.8,605.4 L591.9,605.4 L593,605.4 L594.1,605.4 L595.2,605.4 L596.3,605.4 L597.4,605.4 L598.5,605.4 L599.6,605.4 L600.7,605.4 L601.8,605.4 L602.9,605.4 L604,605.4 L605.1,605.4 L606.3,605.4 L607.4,605.4 L608.5,605.4 L609.6,605.4 L610.7,605.4 L611.8,605.4 L612.9,605.4 L614,605.4 L615.1,605.4 L616.2,605.4 L617.3,605.4 L618.4,605.4 L619.5,605.4 L620.6,605.4 L621.7,605.4 L622.8,605.4 L623.9,605.4 L625,605.4 L626.1,605.4 L627.2,605.4 L628.3,605.4 L629.4,605.4 L630.5,605.4 L631.6,605.4 L632.7,605.4 L633.8,605.4 L634.9,605.4 L636,605.4 L637.1,605.4 L638.2,605.4 L639.3,605.4 L640.4,605.4 L641.5,605.4 L642.6,605.4 L643.8,605.4 L644.9,605.4 L646,605.4 L647.1,605.4 L648.2,605.4 L649.3,605.4 L650.4,605.4 L651.5,605.4 L652.6,605.4 L653.7,605.4 L654.8,605.4 L655.9,605.4 L657,605.4 L658.1,605.4 L659.2,605.4 L659.8,605.4" fill="none" stroke="#C0504D" stroke-width="6.8" stroke-linecap="butt" stroke-linejoin="round"/>
<g fill="#C0504D">
<use href="#bsquare" x="85.5" y="1052.3"/>
<use href="#bsquare" x="126" y="1035.4"/>
<use href="#bsquare" x="149.6" y="1003.6"/>
<use href="#bsquare" x="166.4" y="962.4"/>
<use href="#bsquare" x="179.3" y="920"/>
<use href="#bsquare" x="189.9" y="878.7"/>
<use href="#bsquare" x="198.4" y="843.8"/>
<use href="#bsquare" x="205.9" y="813"/>
<use href="#bsquare" x="213.2" y="785.4"/>
<use href="#bsquare" x="218.4" y="763.4"/>
<use href="#bsquare" x="224.9" y="745"/>
<use href="#bsquare" x="229.4" y="730.2"/>
<use href="#bsquare" x="234.6" y="717.7"/>
<use href="#bsquare" x="238.8" y="707.1"/>
<use href="#bsquare" x="242.9" y="699.3"/>
<use href="#bsquare" x="246.6" y="690.8"/>
<use href="#bsquare" x="249.8" y="685.4"/>
<use href="#bsquare" x="253.1" y="680.1"/>
<use href="#bsquare" x="256.3" y="675.7"/>
<use href="#bsquare" x="259.2" y="671.9"/>
<use href="#bsquare" x="262.1" y="668.6"/>
<use href="#bsquare" x="264.8" y="665.5"/>
<use href="#bsquare" x="267.3" y="662.7"/>
<use href="#bsquare" x="269.8" y="660"/>
<use href="#bsquare" x="272.2" y="657.3"/>
<use href="#bsquare" x="274.5" y="654.8"/>
<use href="#bsquare" x="276.6" y="652.4"/>
<use href="#bsquare" x="278.8" y="650.1"/>
<use href="#bsquare" x="280.8" y="647.9"/>
<use href="#bsquare" x="282.8" y="646"/>
<use href="#bsquare" x="284.7" y="644.1"/>
<use href="#bsquare" x="286.5" y="642.4"/>
<use href="#bsquare" x="288.3" y="640.8"/>
<use href="#bsquare" x="290" y="639.3"/>
<use href="#bsquare" x="291.7" y="637.8"/>
<use href="#bsquare" x="293.3" y="636.5"/>
<use href="#bsquare" x="294.9" y="635.2"/>
<use href="#bsquare" x="296.5" y="634.1"/>
<use href="#bsquare" x="298" y="632.9"/>
<use href="#bsquare" x="299.4" y="631.9"/>
<use href="#bsquare" x="300.9" y="630.9"/>
<use href="#bsquare" x="302.3" y="629.9"/>
<use href="#bsquare" x="303.6" y="629"/>
<use href="#bsquare" x="305" y="628.2"/>
<use href="#bsquare" x="306.3" y="627.4"/>
<use href="#bsquare" x="307.5" y="626.6"/>
<use href="#bsquare" x="308.8" y="625.8"/>
<use href="#bsquare" x="310" y="625.1"/>
<use href="#bsquare" x="311.2" y="624.5"/>
<use href="#bsquare" x="312.4" y="623.8"/>
<use href="#bsquare" x="313.5" y="623.2"/>
<use href="#bsquare" x="314.7" y="622.6"/>
<use href="#bsquare" x="315.8" y="622"/>
<use href="#bsquare" x="316.8" y="621.5"/>
<use href="#bsquare" x="317.9" y="621"/>
<use href="#bsquare" x="318.9" y="620.5"/>
<use href="#bsquare" x="320" y="620"/>
<use href="#bsquare" x="321" y="619.5"/>
<use href="#bsquare" x="322" y="619.1"/>
<use href="#bsquare" x="323" y="618.6"/>
<use href="#bsquare" x="323.9" y="618.2"/>
<use href="#bsquare" x="324.9" y="617.8"/>
<use href="#bsquare" x="325.8" y="617.4"/>
<use href="#bsquare" x="326.7" y="617"/>
<use href="#bsquare" x="327.6" y="616.6"/>
<use href="#bsquare" x="328.5" y="616.3"/>
<use href="#bsquare" x="329.3" y="615.9"/>
<use href="#bsquare" x="330.2" y="615.6"/>
<use href="#bsquare" x="331.1" y="615.3"/>
<use href="#bsquare" x="331.9" y="615"/>
<use href="#bsquare" x="332.7" y="614.7"/>
<use href="#bsquare" x="333.5" y="614.4"/>
<use href="#bsquare" x="334.3" y="614.1"/>
<use href="#bsquare" x="335.1" y="613.8"/>
<use href="#bsquare" x="335.9" y="613.6"/>
<use href="#bsquare" x="336.7" y="613.3"/>
<use href="#bsquare" x="337.4" y="613"/>
<use href="#bsquare" x="338.2" y="612.8"/>
<use href="#bsquare" x="338.9" y="612.6"/>
<use href="#bsquare" x="339.6" y="612.3"/>
<use href="#bsquare" x="340.4" y="612.1"/>
<use href="#bsquare" x="341.1" y="611.9"/>
<use href="#bsquare" x="341.8" y="611.7"/>
<use href="#bsquare" x="342.5" y="611.5"/>
<use href="#bsquare" x="343.1" y="611.3"/>
<use href="#bsquare" x="343.8" y="611.1"/>
<use href="#bsquare" x="344.5" y="610.9"/>
<use href="#bsquare" x="345.2" y="610.7"/>
<use href="#bsquare" x="345.8" y="610.5"/>
<use href="#bsquare" x="346.5" y="610.4"/>
<use href="#bsquare" x="347.1" y="610.2"/>
<use href="#bsquare" x="347.7" y="610"/>
<use href="#bsquare" x="348.4" y="609.9"/>
<use href="#bsquare" x="349" y="609.7"/>
<use href="#bsquare" x="349.6" y="609.6"/>
<use href="#bsquare" x="350.2" y="609.4"/>
<use href="#bsquare" x="350.8" y="609.3"/>
<use href="#bsquare" x="351.4" y="609.1"/>
<use href="#bsquare" x="352" y="609"/>
<use href="#bsquare" x="352.6" y="608.9"/>
<use href="#bsquare" x="353.2" y="608.7"/>
<use href="#bsquare" x="353.8" y="608.6"/>
<use href="#bsquare" x="354.3" y="608.5"/>
<use href="#bsquare" x="354.9" y="608.4"/>
<use href="#bsquare" x="355.5" y="608.2"/>
<use href="#bsquare" x="356.1" y="608.1"/>
<use href="#bsquare" x="356.7" y="608"/>
<use href="#bsquare" x="357.3" y="607.9"/>
<use href="#bsquare" x="357.9" y="607.8"/>
<use href="#bsquare" x="358.5" y="607.7"/>
<use href="#bsquare" x="359" y="607.6"/>
<use href="#bsquare" x="359.6" y="607.5"/>
<use href="#bsquare" x="360.2" y="607.4"/>
<use href="#bsquare" x="360.8" y="607.3"/>
<use href="#bsquare" x="361.4" y="607.2"/>
<use href="#bsquare" x="362" y="607.1"/>
<use href="#bsquare" x="362.6" y="607"/>
<use href="#bsquare" x="363.2" y="606.9"/>
<use href="#bsquare" x="363.8" y="606.8"/>
<use href="#bsquare" x="364.3" y="606.7"/>
<use href="#bsquare" x="364.9" y="606.6"/>
<use href="#bsquare" x="365.5" y="606.5"/>
<use href="#bsquare" x="366.1" y="606.4"/>
<use href="#bsquare" x="366.7" y="606.4"/>
<use href="#bsquare" x="367.3" y="606.3"/>
<use href="#bsquare" x="367.9" y="606.2"/>
<use href="#bsquare" x="368.5" y="606.1"/>
<use href="#bsquare" x="369" y="606.1"/>
<use href="#bsquare" x="369.6" y="606"/>
<use href="#bsquare" x="370.2" y="605.9"/>
<use href="#bsquare" x="659.8" y="605.4"/>
</g>
<path d="M85.5,1052.3 C92.2,1051.4 115.1,1049 125.7,1046.9 C136.4,1044.8 142.8,1043.1 149.6,1039.8 C156.3,1036.5 161.5,1031.8 166.4,1027.2 C171.3,1022.7 175.2,1017.6 179,1012.5 C182.9,1007.4 186.3,1001.9 189.6,996.3 C192.8,990.6 195.6,984.5 198.4,978.6 C201.1,972.7 203.8,967 206.1,961 C208.4,955 209.9,948.6 212,942.9 C214.1,937.2 216.5,932.3 218.6,926.9 C220.7,921.5 222.9,915.8 224.7,910.4 C226.6,905 228.1,899.5 229.7,894.5 C231.4,889.5 233.1,885 234.6,880.4 C236.2,875.8 237.4,871.4 238.8,867 C240.2,862.6 241.8,858.2 243,854.2 C244.2,850.2 245.1,846.5 246.2,842.8 C247.3,839.1 248.5,835.7 249.6,832.2 C250.6,828.7 251.3,825.2 252.4,822 C253.5,818.8 254.9,815.8 256,813 C257.2,810.2 258.1,807.8 259.2,805.2 C260.2,802.6 261.4,799.7 262.3,797.4 C263.2,795.1 263.9,793.4 264.8,791.4 C265.6,789.4 266.5,787.2 267.3,785.2 C268.2,783.2 269,781.3 269.8,779.3 C270.6,777.4 271.4,775.5 272.2,773.7 C273,771.9 273.7,770.1 274.5,768.3 C275.2,766.6 275.9,764.8 276.6,763.2 C277.4,761.5 278.1,759.8 278.8,758.2 C279.4,756.6 280.1,755 280.8,753.5 C281.5,751.9 282.1,750.4 282.8,748.9 C283.4,747.4 284,746 284.7,744.5 C285.3,743.1 285.9,741.7 286.5,740.3 C287.1,739 287.7,737.6 288.3,736.3 C288.9,734.9 289.4,733.6 290,732.4 C290.6,731.1 291.1,729.8 291.7,728.6 C292.2,727.4 292.8,726.2 293.3,725 C293.9,723.8 294.4,722.6 294.9,721.5 C295.4,720.3 296,719.2 296.5,718.1 C297,717 297.5,715.9 298,714.8 C298.5,713.7 299,712.7 299.4,711.6 C299.9,710.6 300.4,709.6 300.9,708.6 C301.3,707.6 301.8,706.6 302.3,705.6 C302.7,704.6 303.2,703.7 303.6,702.7 C304.1,701.8 304.5,700.9 305,699.9 C305.4,699 305.8,698.1 306.3,697.3 C306.7,696.4 307.1,695.5 307.5,694.6 C308,693.8 308.4,692.9 308.8,692.1 C309.2,691.3 309.6,690.4 310,689.6 C310.4,688.8 310.8,688 311.2,687.2 C311.6,686.5 312,685.7 312.4,684.9 C312.8,684.2 313.1,683.4 313.5,682.7 C313.9,681.9 314.3,681.2 314.7,680.5 C315,679.8 315.4,679.1 315.8,678.4 C316.1,677.7 316.5,676.9 316.9,676.3 L318,674.2 L319.1,672.1 L320.2,670.1 L321.3,668 L322.4,666 L323.5,664.1 L324.6,662.1 L325.7,660.2 L326.8,658.3 L327.9,656.4 L329,654.5 L330.1,652.7 L331.2,650.9 L332.3,649.1 L333.4,647.3 L334.5,645.6 L335.6,643.9 L336.7,642.3 L337.8,640.7 L338.9,639.1 L340,637.5 L341.1,636 L342.2,634.5 L343.3,633.1 L344.4,631.7 L345.5,630.4 L346.6,629.1 L347.7,627.8 L348.8,626.6 L349.9,625.4 L351.1,624.3 L352.2,623.2 L353.3,622.2 L354.4,621.2 L355.5,620.3 L356.6,619.4 L357.7,618.6 L358.8,617.8 L359.9,617.1 L361,616.3 L362.1,615.7 L363.2,615 L364.3,614.5 L365.4,613.9 L366.5,613.4 L367.6,612.9 L368.7,612.4 L369.8,612 L370.9,611.5 L372,611.2 L373.1,610.8 L374.2,610.4 L375.3,610.1 L376.4,609.8 L377.5,609.5 L378.6,609.2 L379.7,609 L380.8,608.7 L381.9,608.5 L383,608.2 L384.1,608 L385.2,607.8 L386.3,607.6 L387.4,607.4 L388.6,607.2 L389.7,607 L390.8,606.8 L391.9,606.7 L393,606.5 L394.1,606.3 L395.2,606.2 L396.3,606 L397.4,605.9 L398.5,605.8 L399.6,605.7 L400.7,605.5 L401.8,605.4 L402.9,605.4 L404,605.4 L405.1,605.4 L406.2,605.4 L407.3,605.4 L408.4,605.4 L409.5,605.4 L410.6,605.4 L411.7,605.4 L412.8,605.4 L413.9,605.4 L415,605.4 L416.1,605.4 L417.2,605.4 L418.3,605.4 L419.4,605.4 L420.5,605.4 L421.6,605.4 L422.7,605.4 L423.8,605.4 L424.9,605.4 L426.1,605.4 L427.2,605.4 L428.3,605.4 L429.4,605.4 L430.5,605.4 L431.6,605.4 L432.7,605.4 L433.8,605.4 L434.9,605.4 L436,605.4 L437.1,605.4 L438.2,605.4 L439.3,605.4 L440.4,605.4 L441.5,605.4 L442.6,605.4 L443.7,605.4 L444.8,605.4 L445.9,605.4 L447,605.4 L448.1,605.4 L449.2,605.4 L450.3,605.4 L451.4,605.4 L452.5,605.4 L453.6,605.4 L454.7,605.4 L455.8,605.4 L456.9,605.4 L458,605.4 L459.1,605.4 L460.2,605.4 L461.3,605.4 L462.4,605.4 L463.6,605.4 L464.7,605.4 L465.8,605.4 L466.9,605.4 L468,605.4 L469.1,605.4 L470.2,605.4 L471.3,605.4 L472.4,605.4 L473.5,605.4 L474.6,605.4 L475.7,605.4 L476.8,605.4 L477.9,605.4 L479,605.4 L480.1,605.4 L481.2,605.4 L482.3,605.4 L483.4,605.4 L484.5,605.4 L485.6,605.4 L486.7,605.4 L487.8,605.4 L488.9,605.4 L490,605.4 L491.1,605.4 L492.2,605.4 L493.3,605.4 L494.4,605.4 L495.5,605.4 L496.6,605.4 L497.7,605.4 L498.8,605.4 L499.9,605.4 L501.1,605.4 L502.2,605.4 L503.3,605.4 L504.4,605.4 L505.5,605.4 L506.6,605.4 L507.7,605.4 L508.8,605.4 L509.9,605.4 L511,605.4 L512.1,605.4 L513.2,605.4 L514.3,605.4 L515.4,605.4 L516.5,605.4 L517.6,605.4 L518.7,605.4 L519.8,605.4 L520.9,605.4 L522,605.4 L523.1,605.4 L524.2,605.4 L525.3,605.4 L526.4,605.4 L527.5,605.4 L528.6,605.4 L529.7,605.4 L530.8,605.4 L531.9,605.4 L533,605.4 L534.1,605.4 L535.2,605.4 L536.3,605.4 L537.4,605.4 L538.6,605.4 L539.7,605.4 L540.8,605.4 L541.9,605.4 L543,605.4 L544.1,605.4 L545.2,605.4 L546.3,605.4 L547.4,605.4 L548.5,605.4 L549.6,605.4 L550.7,605.4 L551.8,605.4 L552.9,605.4 L554,605.4 L555.1,605.4 L556.2,605.4 L557.3,605.4 L558.4,605.4 L559.5,605.4 L560.6,605.4 L561.7,605.4 L562.8,605.4 L563.9,605.4 L565,605.4 L566.1,605.4 L567.2,605.4 L568.3,605.4 L569.4,605.4 L570.5,605.4 L571.6,605.4 L572.7,605.4 L573.8,605.4 L574.9,605.4 L576.1,605.4 L577.2,605.4 L578.3,605.4 L579.4,605.4 L580.5,605.4 L581.6,605.4 L582.7,605.4 L583.8,605.4 L584.9,605.4 L586,605.4 L587.1,605.4 L588.2,605.4 L589.3,605.4 L590.4,605.4 L591.5,605.4 L592.6,605.4 L593.7,605.4 L594.8,605.4 L595.9,605.4 L597,605.4 L598.1,605.4 L599.2,605.4 L600.3,605.4 L601.4,605.4 L602.5,605.4 L603.6,605.4 L604.7,605.4 L605.8,605.4 L606.9,605.4 L608,605.4 L609.1,605.4 L610.2,605.4 L611.3,605.4 L612.4,605.4 L613.6,605.4 L614.7,605.4 L615.8,605.4 L616.9,605.4 L618,605.4 L619.1,605.4 L620.2,605.4 L621.3,605.4 L622.4,605.4 L623.5,605.4 L624.6,605.4 L625.7,605.4 L626.8,605.4 L627.9,605.4 L629,605.4 L630.1,605.4 L631.2,605.4 L632.3,605.4 L633.4,605.4 L634.5,605.4 L635.6,605.4 L636.7,605.4 L637.8,605.4 L638.9,605.4 L640,605.4 L641.1,605.4 L642.2,605.4 L643.3,605.4 L644.4,605.4 L645.5,605.4 L646.6,605.4 L647.7,605.4 L648.8,605.4 L649.9,605.4 L651.1,605.4 L652.2,605.4 L653.3,605.4 L654.4,605.4 L655.5,605.4 L656.6,605.4 L657.7,605.4 L658.8,605.4 L659.8,605.4" fill="none" stroke="#9BBB59" stroke-width="1"/>
<path d="M397,606 L398.1,605.8 L399.2,605.7 L400.3,605.6 L401.4,605.5 L402.5,605.4 L403.6,605.4 L404.7,605.4 L405.8,605.4 L406.9,605.4 L408,605.4 L409.1,605.4 L410.2,605.4 L411.3,605.4 L412.4,605.4 L413.6,605.4 L414.7,605.4 L415.8,605.4 L416.9,605.4 L418,605.4 L419.1,605.4 L420.2,605.4 L421.3,605.4 L422.4,605.4 L423.5,605.4 L424.6,605.4 L425.7,605.4 L426.8,605.4 L427.9,605.4 L429,605.4 L430.1,605.4 L431.2,605.4 L432.3,605.4 L433.4,605.4 L434.5,605.4 L435.6,605.4 L436.7,605.4 L437.8,605.4 L438.9,605.4 L440,605.4 L441.1,605.4 L442.2,605.4 L443.3,605.4 L444.4,605.4 L445.5,605.4 L446.6,605.4 L447.7,605.4 L448.8,605.4 L449.9,605.4 L451.1,605.4 L452.2,605.4 L453.3,605.4 L454.4,605.4 L455.5,605.4 L456.6,605.4 L457.7,605.4 L458.8,605.4 L459.9,605.4 L461,605.4 L462.1,605.4 L463.2,605.4 L464.3,605.4 L465.4,605.4 L466.5,605.4 L467.6,605.4 L468.7,605.4 L469.8,605.4 L470.9,605.4 L472,605.4 L473.1,605.4 L474.2,605.4 L475.3,605.4 L476.4,605.4 L477.5,605.4 L478.6,605.4 L479.7,605.4 L480.8,605.4 L481.9,605.4 L483,605.4 L484.1,605.4 L485.2,605.4 L486.3,605.4 L487.4,605.4 L488.6,605.4 L489.7,605.4 L490.8,605.4 L491.9,605.4 L493,605.4 L494.1,605.4 L495.2,605.4 L496.3,605.4 L497.4,605.4 L498.5,605.4 L499.6,605.4 L500.7,605.4 L501.8,605.4 L502.9,605.4 L504,605.4 L505.1,605.4 L506.2,605.4 L507.3,605.4 L508.4,605.4 L509.5,605.4 L510.6,605.4 L511.7,605.4 L512.8,605.4 L513.9,605.4 L515,605.4 L516.1,605.4 L517.2,605.4 L518.3,605.4 L519.4,605.4 L520.5,605.4 L521.6,605.4 L522.7,605.4 L523.8,605.4 L524.9,605.4 L526.1,605.4 L527.2,605.4 L528.3,605.4 L529.4,605.4 L530.5,605.4 L531.6,605.4 L532.7,605.4 L533.8,605.4 L534.9,605.4 L536,605.4 L537.1,605.4 L538.2,605.4 L539.3,605.4 L540.4,605.4 L541.5,605.4 L542.6,605.4 L543.7,605.4 L544.8,605.4 L545.9,605.4 L547,605.4 L548.1,605.4 L549.2,605.4 L550.3,605.4 L551.4,605.4 L552.5,605.4 L553.6,605.4 L554.7,605.4 L555.8,605.4 L556.9,605.4 L558,605.4 L559.1,605.4 L560.2,605.4 L561.3,605.4 L562.4,605.4 L563.6,605.4 L564.7,605.4 L565.8,605.4 L566.9,605.4 L568,605.4 L569.1,605.4 L570.2,605.4 L571.3,605.4 L572.4,605.4 L573.5,605.4 L574.6,605.4 L575.7,605.4 L576.8,605.4 L577.9,605.4 L579,605.4 L580.1,605.4 L581.2,605.4 L582.3,605.4 L583.4,605.4 L584.5,605.4 L585.6,605.4 L586.7,605.4 L587.8,605.4 L588.9,605.4 L590,605.4 L591.1,605.4 L592.2,605.4 L593.3,605.4 L594.4,605.4 L595.5,605.4 L596.6,605.4 L597.7,605.4 L598.8,605.4 L599.9,605.4 L601.1,605.4 L602.2,605.4 L603.3,605.4 L604.4,605.4 L605.5,605.4 L606.6,605.4 L607.7,605.4 L608.8,605.4 L609.9,605.4 L611,605.4 L612.1,605.4 L613.2,605.4 L614.3,605.4 L615.4,605.4 L616.5,605.4 L617.6,605.4 L618.7,605.4 L619.8,605.4 L620.9,605.4 L622,605.4 L623.1,605.4 L624.2,605.4 L625.3,605.4 L626.4,605.4 L627.5,605.4 L628.6,605.4 L629.7,605.4 L630.8,605.4 L631.9,605.4 L633,605.4 L634.1,605.4 L635.2,605.4 L636.3,605.4 L637.4,605.4 L638.6,605.4 L639.7,605.4 L640.8,605.4 L641.9,605.4 L643,605.4 L644.1,605.4 L645.2,605.4 L646.3,605.4 L647.4,605.4 L648.5,605.4 L649.6,605.4 L650.7,605.4 L651.8,605.4 L652.9,605.4 L654,605.4 L655.1,605.4 L656.2,605.4 L657.3,605.4 L658.4,605.4 L659.5,605.4 L659.8,605.4" fill="none" stroke="#9BBB59" stroke-width="6.4" stroke-linecap="butt" stroke-linejoin="round"/>
<g fill="#9BBB59">
<use href="#btriangle" x="85.5" y="1052.3"/>
<use href="#btriangle" x="125.7" y="1046.9"/>
<use href="#btriangle" x="149.6" y="1039.8"/>
<use href="#btriangle" x="166.4" y="1027.2"/>
<use href="#btriangle" x="179" y="1012.5"/>
<use href="#btriangle" x="189.6" y="996.3"/>
<use href="#btriangle" x="198.4" y="978.6"/>
<use href="#btriangle" x="206.1" y="961"/>
<use href="#btriangle" x="212" y="942.9"/>
<use href="#btriangle" x="218.6" y="926.9"/>
<use href="#btriangle" x="224.7" y="910.4"/>
<use href="#btriangle" x="229.7" y="894.5"/>
<use href="#btriangle" x="234.6" y="880.4"/>
<use href="#btriangle" x="238.8" y="867"/>
<use href="#btriangle" x="243" y="854.2"/>
<use href="#btriangle" x="246.2" y="842.8"/>
<use href="#btriangle" x="249.6" y="832.2"/>
<use href="#btriangle" x="252.4" y="822"/>
<use href="#btriangle" x="256" y="813"/>
<use href="#btriangle" x="259.2" y="805.2"/>
<use href="#btriangle" x="262.3" y="797.4"/>
<use href="#btriangle" x="264.8" y="791.4"/>
<use href="#btriangle" x="267.3" y="785.2"/>
<use href="#btriangle" x="269.8" y="779.3"/>
<use href="#btriangle" x="272.2" y="773.7"/>
<use href="#btriangle" x="274.5" y="768.3"/>
<use href="#btriangle" x="276.6" y="763.2"/>
<use href="#btriangle" x="278.8" y="758.2"/>
<use href="#btriangle" x="280.8" y="753.5"/>
<use href="#btriangle" x="282.8" y="748.9"/>
<use href="#btriangle" x="284.7" y="744.5"/>
<use href="#btriangle" x="286.5" y="740.3"/>
<use href="#btriangle" x="288.3" y="736.3"/>
<use href="#btriangle" x="290" y="732.4"/>
<use href="#btriangle" x="291.7" y="728.6"/>
<use href="#btriangle" x="293.3" y="725"/>
<use href="#btriangle" x="294.9" y="721.5"/>
<use href="#btriangle" x="296.5" y="718.1"/>
<use href="#btriangle" x="298" y="714.8"/>
<use href="#btriangle" x="299.4" y="711.6"/>
<use href="#btriangle" x="300.9" y="708.6"/>
<use href="#btriangle" x="302.3" y="705.6"/>
<use href="#btriangle" x="303.6" y="702.7"/>
<use href="#btriangle" x="305" y="699.9"/>
<use href="#btriangle" x="306.3" y="697.3"/>
<use href="#btriangle" x="307.5" y="694.6"/>
<use href="#btriangle" x="308.8" y="692.1"/>
<use href="#btriangle" x="310" y="689.6"/>
<use href="#btriangle" x="311.2" y="687.2"/>
<use href="#btriangle" x="312.4" y="684.9"/>
<use href="#btriangle" x="313.5" y="682.7"/>
<use href="#btriangle" x="314.7" y="680.5"/>
<use href="#btriangle" x="315.8" y="678.4"/>
<use href="#btriangle" x="316.8" y="676.3"/>
<use href="#btriangle" x="317.9" y="674.3"/>
<use href="#btriangle" x="318.9" y="672.3"/>
<use href="#btriangle" x="320" y="670.4"/>
<use href="#btriangle" x="321" y="668.6"/>
<use href="#btriangle" x="322" y="666.8"/>
<use href="#btriangle" x="323" y="665"/>
<use href="#btriangle" x="323.9" y="663.3"/>
<use href="#btriangle" x="324.9" y="661.6"/>
<use href="#btriangle" x="325.8" y="660"/>
<use href="#btriangle" x="326.7" y="658.4"/>
<use href="#btriangle" x="327.6" y="656.9"/>
<use href="#btriangle" x="328.5" y="655.4"/>
<use href="#btriangle" x="329.3" y="653.9"/>
<use href="#btriangle" x="330.2" y="652.5"/>
<use href="#btriangle" x="331.1" y="651.1"/>
<use href="#btriangle" x="331.9" y="649.7"/>
<use href="#btriangle" x="332.7" y="648.4"/>
<use href="#btriangle" x="333.5" y="647.1"/>
<use href="#btriangle" x="334.3" y="645.9"/>
<use href="#btriangle" x="335.1" y="644.7"/>
<use href="#btriangle" x="335.9" y="643.5"/>
<use href="#btriangle" x="336.7" y="642.4"/>
<use href="#btriangle" x="337.4" y="641.2"/>
<use href="#btriangle" x="338.2" y="640.2"/>
<use href="#btriangle" x="338.9" y="639.1"/>
<use href="#btriangle" x="339.6" y="638.1"/>
<use href="#btriangle" x="340.4" y="637.1"/>
<use href="#btriangle" x="341.1" y="636.1"/>
<use href="#btriangle" x="341.8" y="635.2"/>
<use href="#btriangle" x="342.5" y="634.2"/>
<use href="#btriangle" x="343.1" y="633.3"/>
<use href="#btriangle" x="343.8" y="632.5"/>
<use href="#btriangle" x="344.5" y="631.6"/>
<use href="#btriangle" x="345.2" y="630.8"/>
<use href="#btriangle" x="345.8" y="630"/>
<use href="#btriangle" x="346.5" y="629.3"/>
<use href="#btriangle" x="347.1" y="628.5"/>
<use href="#btriangle" x="347.7" y="627.8"/>
<use href="#btriangle" x="348.4" y="627.1"/>
<use href="#btriangle" x="349" y="626.4"/>
<use href="#btriangle" x="349.6" y="625.8"/>
<use href="#btriangle" x="350.2" y="625.2"/>
<use href="#btriangle" x="350.8" y="624.5"/>
<use href="#btriangle" x="351.4" y="623.9"/>
<use href="#btriangle" x="352" y="623.4"/>
<use href="#btriangle" x="352.6" y="622.8"/>
<use href="#btriangle" x="353.2" y="622.3"/>
<use href="#btriangle" x="353.7" y="621.8"/>
<use href="#btriangle" x="354.3" y="621.3"/>
<use href="#btriangle" x="354.8" y="620.8"/>
<use href="#btriangle" x="355.4" y="620.3"/>
<use href="#btriangle" x="356" y="619.9"/>
<use href="#btriangle" x="356.5" y="619.5"/>
<use href="#btriangle" x="357" y="619.1"/>
<use href="#btriangle" x="357.6" y="618.7"/>
<use href="#btriangle" x="358.1" y="618.3"/>
<use href="#btriangle" x="358.6" y="617.9"/>
<use href="#btriangle" x="359.2" y="617.5"/>
<use href="#btriangle" x="359.7" y="617.1"/>
<use href="#btriangle" x="360.3" y="616.8"/>
<use href="#btriangle" x="360.8" y="616.4"/>
<use href="#btriangle" x="361.4" y="616.1"/>
<use href="#btriangle" x="361.9" y="615.8"/>
<use href="#btriangle" x="362.5" y="615.4"/>
<use href="#btriangle" x="363" y="615.1"/>
<use href="#btriangle" x="363.6" y="614.8"/>
<use href="#btriangle" x="364.1" y="614.5"/>
<use href="#btriangle" x="364.7" y="614.2"/>
<use href="#btriangle" x="365.2" y="614"/>
<use href="#btriangle" x="365.8" y="613.7"/>
<use href="#btriangle" x="366.4" y="613.4"/>
<use href="#btriangle" x="367" y="613.1"/>
<use href="#btriangle" x="367.6" y="612.9"/>
<use href="#btriangle" x="368.2" y="612.6"/>
<use href="#btriangle" x="368.8" y="612.4"/>
<use href="#btriangle" x="369.4" y="612.1"/>
<use href="#btriangle" x="369.9" y="611.9"/>
<use href="#btriangle" x="370.5" y="611.7"/>
<use href="#btriangle" x="371.1" y="611.5"/>
<use href="#btriangle" x="371.7" y="611.3"/>
<use href="#btriangle" x="372.3" y="611"/>
<use href="#btriangle" x="372.9" y="610.9"/>
<use href="#btriangle" x="373.5" y="610.7"/>
<use href="#btriangle" x="374.1" y="610.5"/>
<use href="#btriangle" x="374.7" y="610.3"/>
<use href="#btriangle" x="375.2" y="610.1"/>
<use href="#btriangle" x="375.8" y="610"/>
<use href="#btriangle" x="376.4" y="609.8"/>
<use href="#btriangle" x="377" y="609.6"/>
<use href="#btriangle" x="377.6" y="609.5"/>
<use href="#btriangle" x="378.2" y="609.3"/>
<use href="#btriangle" x="378.8" y="609.2"/>
<use href="#btriangle" x="379.4" y="609.1"/>
<use href="#btriangle" x="379.9" y="608.9"/>
<use href="#btriangle" x="380.5" y="608.8"/>
<use href="#btriangle" x="381.1" y="608.7"/>
<use href="#btriangle" x="381.7" y="608.5"/>
<use href="#btriangle" x="382.3" y="608.4"/>
<use href="#btriangle" x="382.9" y="608.3"/>
<use href="#btriangle" x="383.5" y="608.2"/>
<use href="#btriangle" x="384.1" y="608"/>
<use href="#btriangle" x="384.7" y="607.9"/>
<use href="#btriangle" x="385.2" y="607.8"/>
<use href="#btriangle" x="385.8" y="607.7"/>
<use href="#btriangle" x="386.4" y="607.6"/>
<use href="#btriangle" x="387" y="607.5"/>
<use href="#btriangle" x="387.6" y="607.4"/>
<use href="#btriangle" x="388.2" y="607.3"/>
<use href="#btriangle" x="388.8" y="607.2"/>
<use href="#btriangle" x="389.4" y="607.1"/>
<use href="#btriangle" x="389.9" y="607"/>
<use href="#btriangle" x="390.5" y="606.9"/>
<use href="#btriangle" x="391.1" y="606.8"/>
<use href="#btriangle" x="391.7" y="606.7"/>
<use href="#btriangle" x="392.3" y="606.6"/>
<use href="#btriangle" x="392.9" y="606.5"/>
<use href="#btriangle" x="393.5" y="606.4"/>
<use href="#btriangle" x="394.1" y="606.3"/>
<use href="#btriangle" x="394.7" y="606.3"/>
<use href="#btriangle" x="395.2" y="606.2"/>
<use href="#btriangle" x="395.8" y="606.1"/>
<use href="#btriangle" x="396.4" y="606"/>
<use href="#btriangle" x="397" y="606"/>
<use href="#btriangle" x="659.8" y="605.4"/>
</g>
<path d="M85.5,1052.3 C92.2,1052 115.1,1051.5 125.8,1050.8 C136.5,1050 142.8,1049 149.6,1047.8 C156.3,1046.6 161.5,1045.2 166.4,1043.6 C171.3,1042 175.2,1040.3 179,1038.3 C182.9,1036.3 186.3,1034.1 189.6,1031.6 C192.8,1029 195.7,1025.9 198.4,1023 C201.1,1020.1 203.4,1017.4 205.9,1014.4 C208.3,1011.4 211,1008.6 213.1,1005.3 C215.2,1002 216.7,998.2 218.6,994.8 C220.5,991.4 222.9,988.2 224.7,984.7 C226.5,981.2 227.6,977.5 229.2,974.1 C230.8,970.8 232.9,967.8 234.5,964.6 C236.1,961.4 237.5,958.2 238.9,954.8 C240.3,951.4 241.8,947.6 243,944.3 C244.3,941 245.2,938.2 246.3,935.2 C247.4,932.2 248.7,929.2 249.7,926.2 C250.7,923.2 251.4,920 252.4,917.1 C253.4,914.2 254.6,911.5 255.7,908.8 C256.9,906.1 258,903.6 259.1,900.9 C260.2,898.2 261.5,895.2 262.4,892.7 C263.4,890.2 263.9,888.3 264.8,885.9 C265.6,883.4 266.5,880.6 267.3,878 C268.2,875.4 269,872.8 269.8,870.2 C270.6,867.7 271.4,865.2 272.2,862.7 C273,860.3 273.7,858 274.5,855.8 C275.2,853.5 275.9,851.4 276.6,849.3 C277.4,847.3 278.1,845.3 278.8,843.3 C279.4,841.4 280.1,839.5 280.8,837.6 C281.5,835.8 282.1,834 282.8,832.2 C283.4,830.5 284,828.7 284.7,827 C285.3,825.3 285.9,823.6 286.5,822 C287.1,820.3 287.7,818.7 288.3,817.1 C288.9,815.5 289.4,813.9 290,812.3 C290.6,810.7 291.1,809.1 291.7,807.6 C292.2,806 292.8,804.5 293.3,803 C293.9,801.5 294.4,800 294.9,798.5 C295.4,797 296,795.6 296.5,794.2 C297,792.7 297.5,791.3 298,789.9 C298.5,788.5 299,787.1 299.4,785.7 C299.9,784.3 300.4,783 300.9,781.6 C301.3,780.3 301.8,779 302.3,777.6 C302.7,776.3 303.2,775 303.6,773.8 C304.1,772.5 304.5,771.2 305,769.9 C305.4,768.7 305.8,767.5 306.3,766.2 C306.7,765 307.1,763.8 307.5,762.6 C308,761.4 308.4,760.2 308.8,759.1 C309.2,757.9 309.6,756.7 310,755.6 C310.4,754.5 310.8,753.3 311.2,752.2 C311.6,751.1 312,750 312.4,748.9 C312.8,747.8 313.1,746.7 313.5,745.7 C313.9,744.6 314.3,743.5 314.7,742.5 C315,741.5 315.4,740.4 315.8,739.4 C316.1,738.4 316.5,737.4 316.9,736.3 L318,733.3 L319.1,730.2 L320.2,727.2 L321.3,724.2 L322.4,721.2 L323.5,718.2 L324.6,715.2 L325.7,712.2 L326.8,709.3 L327.9,706.4 L329,703.5 L330.1,700.7 L331.2,697.8 L332.3,695 L333.4,692.2 L334.5,689.5 L335.6,686.8 L336.7,684.1 L337.8,681.4 L338.9,678.8 L340,676.2 L341.1,673.6 L342.2,671.1 L343.3,668.6 L344.4,666.1 L345.5,663.7 L346.6,661.3 L347.7,659 L348.8,656.7 L349.9,654.4 L351.1,652.2 L352.2,650.1 L353.3,648.1 L354.4,646.1 L355.5,644.3 L356.6,642.5 L357.7,640.8 L358.8,639.2 L359.9,637.7 L361,636.2 L362.1,634.8 L363.2,633.5 L364.3,632.2 L365.4,631 L366.5,629.8 L367.6,628.7 L368.7,627.6 L369.8,626.5 L370.9,625.5 L372,624.6 L373.1,623.6 L374.2,622.7 L375.3,621.9 L376.4,621.1 L377.5,620.3 L378.6,619.5 L379.7,618.8 L380.8,618.1 L381.9,617.4 L383,616.8 L384.1,616.2 L385.2,615.6 L386.3,615 L387.4,614.5 L388.6,614 L389.7,613.5 L390.8,613 L391.9,612.5 L393,612.1 L394.1,611.7 L395.2,611.3 L396.3,610.9 L397.4,610.5 L398.5,610.1 L399.6,609.8 L400.7,609.4 L401.8,609.1 L402.9,608.8 L404,608.5 L405.1,608.2 L406.2,607.9 L407.3,607.6 L408.4,607.4 L409.5,607.1 L410.6,606.9 L411.7,606.7 L412.8,606.4 L413.9,606.2 L415,606.1 L416.1,605.9 L417.2,605.7 L418.3,605.5 L419.4,605.4 L420.5,605.4 L421.6,605.4 L422.7,605.4 L423.8,605.4 L424.9,605.4 L426.1,605.4 L427.2,605.4 L428.3,605.4 L429.4,605.4 L430.5,605.4 L431.6,605.4 L432.7,605.4 L433.8,605.4 L434.9,605.4 L436,605.4 L437.1,605.4 L438.2,605.4 L439.3,605.4 L440.4,605.4 L441.5,605.4 L442.6,605.4 L443.7,605.4 L444.8,605.4 L445.9,605.4 L447,605.4 L448.1,605.4 L449.2,605.4 L450.3,605.4 L451.4,605.4 L452.5,605.4 L453.6,605.4 L454.7,605.4 L455.8,605.4 L456.9,605.4 L458,605.4 L459.1,605.4 L460.2,605.4 L461.3,605.4 L462.4,605.4 L463.6,605.4 L464.7,605.4 L465.8,605.4 L466.9,605.4 L468,605.4 L469.1,605.4 L470.2,605.4 L471.3,605.4 L472.4,605.4 L473.5,605.4 L474.6,605.4 L475.7,605.4 L476.8,605.4 L477.9,605.4 L479,605.4 L480.1,605.4 L481.2,605.4 L482.3,605.4 L483.4,605.4 L484.5,605.4 L485.6,605.4 L486.7,605.4 L487.8,605.4 L488.9,605.4 L490,605.4 L491.1,605.4 L492.2,605.4 L493.3,605.4 L494.4,605.4 L495.5,605.4 L496.6,605.4 L497.7,605.4 L498.8,605.4 L499.9,605.4 L501.1,605.4 L502.2,605.4 L503.3,605.4 L504.4,605.4 L505.5,605.4 L506.6,605.4 L507.7,605.4 L508.8,605.4 L509.9,605.4 L511,605.4 L512.1,605.4 L513.2,605.4 L514.3,605.4 L515.4,605.4 L516.5,605.4 L517.6,605.4 L518.7,605.4 L519.8,605.4 L520.9,605.4 L522,605.4 L523.1,605.4 L524.2,605.4 L525.3,605.4 L526.4,605.4 L527.5,605.4 L528.6,605.4 L529.7,605.4 L530.8,605.4 L531.9,605.4 L533,605.4 L534.1,605.4 L535.2,605.4 L536.3,605.4 L537.4,605.4 L538.6,605.4 L539.7,605.4 L540.8,605.4 L541.9,605.4 L543,605.4 L544.1,605.4 L545.2,605.4 L546.3,605.4 L547.4,605.4 L548.5,605.4 L549.6,605.4 L550.7,605.4 L551.8,605.4 L552.9,605.4 L554,605.4 L555.1,605.4 L556.2,605.4 L557.3,605.4 L558.4,605.4 L559.5,605.4 L560.6,605.4 L561.7,605.4 L562.8,605.4 L563.9,605.4 L565,605.4 L566.1,605.4 L567.2,605.4 L568.3,605.4 L569.4,605.4 L570.5,605.4 L571.6,605.4 L572.7,605.4 L573.8,605.4 L574.9,605.4 L576.1,605.4 L577.2,605.4 L578.3,605.4 L579.4,605.4 L580.5,605.4 L581.6,605.4 L582.7,605.4 L583.8,605.4 L584.9,605.4 L586,605.4 L587.1,605.4 L588.2,605.4 L589.3,605.4 L590.4,605.4 L591.5,605.4 L592.6,605.4 L593.7,605.4 L594.8,605.4 L595.9,605.4 L597,605.4 L598.1,605.4 L599.2,605.4 L600.3,605.4 L601.4,605.4 L602.5,605.4 L603.6,605.4 L604.7,605.4 L605.8,605.4 L606.9,605.4 L608,605.4 L609.1,605.4 L610.2,605.4 L611.3,605.4 L612.4,605.4 L613.6,605.4 L614.7,605.4 L615.8,605.4 L616.9,605.4 L618,605.4 L619.1,605.4 L620.2,605.4 L621.3,605.4 L622.4,605.4 L623.5,605.4 L624.6,605.4 L625.7,605.4 L626.8,605.4 L627.9,605.4 L629,605.4 L630.1,605.4 L631.2,605.4 L632.3,605.4 L633.4,605.4 L634.5,605.4 L635.6,605.4 L636.7,605.4 L637.8,605.4 L638.9,605.4 L640,605.4 L641.1,605.4 L642.2,605.4 L643.3,605.4 L644.4,605.4 L645.5,605.4 L646.6,605.4 L647.7,605.4 L648.8,605.4 L649.9,605.4 L651.1,605.4 L652.2,605.4 L653.3,605.4 L654.4,605.4 L655.5,605.4 L656.6,605.4 L657.7,605.4 L658.8,605.4 L659.8,605.4" fill="none" stroke="#4F81BD" stroke-width="1"/>
<path d="M415.5,606 L416.6,605.8 L417.7,605.6 L418.8,605.5 L419.9,605.4 L421,605.4 L422.1,605.4 L423.2,605.4 L424.3,605.4 L425.4,605.4 L426.5,605.4 L427.6,605.4 L428.7,605.4 L429.8,605.4 L430.9,605.4 L432,605.4 L433.1,605.4 L434.2,605.4 L435.3,605.4 L436.4,605.4 L437.5,605.4 L438.6,605.4 L439.7,605.4 L440.8,605.4 L441.9,605.4 L443,605.4 L444.1,605.4 L445.2,605.4 L446.3,605.4 L447.4,605.4 L448.5,605.4 L449.7,605.4 L450.8,605.4 L451.9,605.4 L453,605.4 L454.1,605.4 L455.2,605.4 L456.3,605.4 L457.4,605.4 L458.5,605.4 L459.6,605.4 L460.7,605.4 L461.8,605.4 L462.9,605.4 L464,605.4 L465.1,605.4 L466.2,605.4 L467.3,605.4 L468.4,605.4 L469.5,605.4 L470.6,605.4 L471.7,605.4 L472.8,605.4 L473.9,605.4 L475,605.4 L476.1,605.4 L477.2,605.4 L478.3,605.4 L479.4,605.4 L480.5,605.4 L481.6,605.4 L482.7,605.4 L483.8,605.4 L484.9,605.4 L486,605.4 L487.2,605.4 L488.3,605.4 L489.4,605.4 L490.5,605.4 L491.6,605.4 L492.7,605.4 L493.8,605.4 L494.9,605.4 L496,605.4 L497.1,605.4 L498.2,605.4 L499.3,605.4 L500.4,605.4 L501.5,605.4 L502.6,605.4 L503.7,605.4 L504.8,605.4 L505.9,605.4 L507,605.4 L508.1,605.4 L509.2,605.4 L510.3,605.4 L511.4,605.4 L512.5,605.4 L513.6,605.4 L514.7,605.4 L515.8,605.4 L516.9,605.4 L518,605.4 L519.1,605.4 L520.2,605.4 L521.3,605.4 L522.4,605.4 L523.5,605.4 L524.7,605.4 L525.8,605.4 L526.9,605.4 L528,605.4 L529.1,605.4 L530.2,605.4 L531.3,605.4 L532.4,605.4 L533.5,605.4 L534.6,605.4 L535.7,605.4 L536.8,605.4 L537.9,605.4 L539,605.4 L540.1,605.4 L541.2,605.4 L542.3,605.4 L543.4,605.4 L544.5,605.4 L545.6,605.4 L546.7,605.4 L547.8,605.4 L548.9,605.4 L550,605.4 L551.1,605.4 L552.2,605.4 L553.3,605.4 L554.4,605.4 L555.5,605.4 L556.6,605.4 L557.7,605.4 L558.8,605.4 L559.9,605.4 L561,605.4 L562.2,605.4 L563.3,605.4 L564.4,605.4 L565.5,605.4 L566.6,605.4 L567.7,605.4 L568.8,605.4 L569.9,605.4 L571,605.4 L572.1,605.4 L573.2,605.4 L574.3,605.4 L575.4,605.4 L576.5,605.4 L577.6,605.4 L578.7,605.4 L579.8,605.4 L580.9,605.4 L582,605.4 L583.1,605.4 L584.2,605.4 L585.3,605.4 L586.4,605.4 L587.5,605.4 L588.6,605.4 L589.7,605.4 L590.8,605.4 L591.9,605.4 L593,605.4 L594.1,605.4 L595.2,605.4 L596.3,605.4 L597.4,605.4 L598.5,605.4 L599.7,605.4 L600.8,605.4 L601.9,605.4 L603,605.4 L604.1,605.4 L605.2,605.4 L606.3,605.4 L607.4,605.4 L608.5,605.4 L609.6,605.4 L610.7,605.4 L611.8,605.4 L612.9,605.4 L614,605.4 L615.1,605.4 L616.2,605.4 L617.3,605.4 L618.4,605.4 L619.5,605.4 L620.6,605.4 L621.7,605.4 L622.8,605.4 L623.9,605.4 L625,605.4 L626.1,605.4 L627.2,605.4 L628.3,605.4 L629.4,605.4 L630.5,605.4 L631.6,605.4 L632.7,605.4 L633.8,605.4 L634.9,605.4 L636,605.4 L637.2,605.4 L638.3,605.4 L639.4,605.4 L640.5,605.4 L641.6,605.4 L642.7,605.4 L643.8,605.4 L644.9,605.4 L646,605.4 L647.1,605.4 L648.2,605.4 L649.3,605.4 L650.4,605.4 L651.5,605.4 L652.6,605.4 L653.7,605.4 L654.8,605.4 L655.9,605.4 L657,605.4 L658.1,605.4 L659.2,605.4 L659.8,605.4" fill="none" stroke="#4F81BD" stroke-width="7" stroke-linecap="butt" stroke-linejoin="round"/>
<g fill="#4F81BD">
<use href="#bbdiamond" x="85.5" y="1052.3"/>
<use href="#bbdiamond" x="125.8" y="1050.8"/>
<use href="#bbdiamond" x="149.6" y="1047.8"/>
<use href="#bbdiamond" x="166.4" y="1043.6"/>
<use href="#bbdiamond" x="179" y="1038.3"/>
<use href="#bbdiamond" x="189.6" y="1031.6"/>
<use href="#bbdiamond" x="198.4" y="1023"/>
<use href="#bbdiamond" x="205.9" y="1014.4"/>
<use href="#bbdiamond" x="213.1" y="1005.3"/>
<use href="#bbdiamond" x="218.6" y="994.8"/>
<use href="#bbdiamond" x="224.7" y="984.7"/>
<use href="#bbdiamond" x="229.2" y="974.1"/>
<use href="#bbdiamond" x="234.5" y="964.6"/>
<use href="#bbdiamond" x="238.9" y="954.8"/>
<use href="#bbdiamond" x="243" y="944.3"/>
<use href="#bbdiamond" x="246.3" y="935.2"/>
<use href="#bbdiamond" x="249.7" y="926.2"/>
<use href="#bbdiamond" x="252.4" y="917.1"/>
<use href="#bbdiamond" x="255.7" y="908.8"/>
<use href="#bbdiamond" x="259.1" y="900.9"/>
<use href="#bbdiamond" x="262.4" y="892.7"/>
<use href="#bbdiamond" x="264.8" y="885.9"/>
<use href="#bbdiamond" x="267.3" y="878"/>
<use href="#bbdiamond" x="269.8" y="870.2"/>
<use href="#bbdiamond" x="272.2" y="862.7"/>
<use href="#bbdiamond" x="274.5" y="855.8"/>
<use href="#bbdiamond" x="276.6" y="849.3"/>
<use href="#bbdiamond" x="278.8" y="843.3"/>
<use href="#bbdiamond" x="280.8" y="837.6"/>
<use href="#bbdiamond" x="282.8" y="832.2"/>
<use href="#bbdiamond" x="284.7" y="827"/>
<use href="#bbdiamond" x="286.5" y="822"/>
<use href="#bbdiamond" x="288.3" y="817.1"/>
<use href="#bbdiamond" x="290" y="812.3"/>
<use href="#bbdiamond" x="291.7" y="807.6"/>
<use href="#bbdiamond" x="293.3" y="803"/>
<use href="#bbdiamond" x="294.9" y="798.5"/>
<use href="#bbdiamond" x="296.5" y="794.2"/>
<use href="#bbdiamond" x="298" y="789.9"/>
<use href="#bbdiamond" x="299.4" y="785.7"/>
<use href="#bbdiamond" x="300.9" y="781.6"/>
<use href="#bbdiamond" x="302.3" y="777.6"/>
<use href="#bbdiamond" x="303.6" y="773.8"/>
<use href="#bbdiamond" x="305" y="769.9"/>
<use href="#bbdiamond" x="306.3" y="766.2"/>
<use href="#bbdiamond" x="307.5" y="762.6"/>
<use href="#bbdiamond" x="308.8" y="759.1"/>
<use href="#bbdiamond" x="310" y="755.6"/>
<use href="#bbdiamond" x="311.2" y="752.2"/>
<use href="#bbdiamond" x="312.4" y="748.9"/>
<use href="#bbdiamond" x="313.5" y="745.7"/>
<use href="#bbdiamond" x="314.7" y="742.5"/>
<use href="#bbdiamond" x="315.8" y="739.4"/>
<use href="#bbdiamond" x="316.8" y="736.4"/>
<use href="#bbdiamond" x="317.9" y="733.4"/>
<use href="#bbdiamond" x="318.9" y="730.5"/>
<use href="#bbdiamond" x="320" y="727.7"/>
<use href="#bbdiamond" x="321" y="724.9"/>
<use href="#bbdiamond" x="322" y="722.2"/>
<use href="#bbdiamond" x="323" y="719.6"/>
<use href="#bbdiamond" x="323.9" y="717"/>
<use href="#bbdiamond" x="324.9" y="714.5"/>
<use href="#bbdiamond" x="325.8" y="712"/>
<use href="#bbdiamond" x="326.7" y="709.6"/>
<use href="#bbdiamond" x="327.6" y="707.2"/>
<use href="#bbdiamond" x="328.5" y="704.9"/>
<use href="#bbdiamond" x="329.3" y="702.6"/>
<use href="#bbdiamond" x="330.2" y="700.4"/>
<use href="#bbdiamond" x="331.1" y="698.2"/>
<use href="#bbdiamond" x="331.9" y="696.1"/>
<use href="#bbdiamond" x="332.7" y="694"/>
<use href="#bbdiamond" x="333.5" y="691.9"/>
<use href="#bbdiamond" x="334.3" y="689.9"/>
<use href="#bbdiamond" x="335.1" y="688"/>
<use href="#bbdiamond" x="335.9" y="686.1"/>
<use href="#bbdiamond" x="336.7" y="684.2"/>
<use href="#bbdiamond" x="337.4" y="682.4"/>
<use href="#bbdiamond" x="338.2" y="680.6"/>
<use href="#bbdiamond" x="338.9" y="678.8"/>
<use href="#bbdiamond" x="339.6" y="677.1"/>
<use href="#bbdiamond" x="340.4" y="675.4"/>
<use href="#bbdiamond" x="341.1" y="673.7"/>
<use href="#bbdiamond" x="341.8" y="672.1"/>
<use href="#bbdiamond" x="342.5" y="670.5"/>
<use href="#bbdiamond" x="343.1" y="669"/>
<use href="#bbdiamond" x="343.8" y="667.5"/>
<use href="#bbdiamond" x="344.5" y="666"/>
<use href="#bbdiamond" x="345.2" y="664.5"/>
<use href="#bbdiamond" x="345.8" y="663.1"/>
<use href="#bbdiamond" x="346.5" y="661.7"/>
<use href="#bbdiamond" x="347.1" y="660.3"/>
<use href="#bbdiamond" x="347.7" y="659"/>
<use href="#bbdiamond" x="348.4" y="657.7"/>
<use href="#bbdiamond" x="349" y="656.4"/>
<use href="#bbdiamond" x="349.6" y="655.1"/>
<use href="#bbdiamond" x="350.2" y="653.9"/>
<use href="#bbdiamond" x="350.8" y="652.7"/>
<use href="#bbdiamond" x="351.4" y="651.5"/>
<use href="#bbdiamond" x="352" y="650.4"/>
<use href="#bbdiamond" x="352.6" y="649.3"/>
<use href="#bbdiamond" x="353.2" y="648.3"/>
<use href="#bbdiamond" x="353.7" y="647.3"/>
<use href="#bbdiamond" x="354.3" y="646.3"/>
<use href="#bbdiamond" x="354.8" y="645.3"/>
<use href="#bbdiamond" x="355.4" y="644.4"/>
<use href="#bbdiamond" x="356" y="643.5"/>
<use href="#bbdiamond" x="356.5" y="642.6"/>
<use href="#bbdiamond" x="357" y="641.8"/>
<use href="#bbdiamond" x="357.6" y="641"/>
<use href="#bbdiamond" x="358.1" y="640.2"/>
<use href="#bbdiamond" x="358.6" y="639.4"/>
<use href="#bbdiamond" x="359.1" y="638.7"/>
<use href="#bbdiamond" x="359.7" y="638"/>
<use href="#bbdiamond" x="360.2" y="637.3"/>
<use href="#bbdiamond" x="360.7" y="636.6"/>
<use href="#bbdiamond" x="361.2" y="636"/>
<use href="#bbdiamond" x="361.7" y="635.3"/>
<use href="#bbdiamond" x="362.2" y="634.7"/>
<use href="#bbdiamond" x="362.7" y="634.1"/>
<use href="#bbdiamond" x="363.1" y="633.5"/>
<use href="#bbdiamond" x="363.6" y="633"/>
<use href="#bbdiamond" x="364.1" y="632.4"/>
<use href="#bbdiamond" x="364.6" y="631.9"/>
<use href="#bbdiamond" x="365" y="631.4"/>
<use href="#bbdiamond" x="365.5" y="630.9"/>
<use href="#bbdiamond" x="366" y="630.4"/>
<use href="#bbdiamond" x="366.5" y="629.9"/>
<use href="#bbdiamond" x="366.9" y="629.4"/>
<use href="#bbdiamond" x="367.4" y="628.9"/>
<use href="#bbdiamond" x="367.9" y="628.4"/>
<use href="#bbdiamond" x="368.4" y="627.9"/>
<use href="#bbdiamond" x="368.9" y="627.4"/>
<use href="#bbdiamond" x="369.4" y="626.9"/>
<use href="#bbdiamond" x="369.9" y="626.4"/>
<use href="#bbdiamond" x="370.4" y="626"/>
<use href="#bbdiamond" x="370.9" y="625.5"/>
<use href="#bbdiamond" x="371.5" y="625"/>
<use href="#bbdiamond" x="372" y="624.6"/>
<use href="#bbdiamond" x="372.5" y="624.2"/>
<use href="#bbdiamond" x="373" y="623.7"/>
<use href="#bbdiamond" x="373.5" y="623.3"/>
<use href="#bbdiamond" x="374" y="622.9"/>
<use href="#bbdiamond" x="374.5" y="622.5"/>
<use href="#bbdiamond" x="375.1" y="622.1"/>
<use href="#bbdiamond" x="375.6" y="621.7"/>
<use href="#bbdiamond" x="376.1" y="621.3"/>
<use href="#bbdiamond" x="376.7" y="620.9"/>
<use href="#bbdiamond" x="377.2" y="620.5"/>
<use href="#bbdiamond" x="377.8" y="620.1"/>
<use href="#bbdiamond" x="378.3" y="619.7"/>
<use href="#bbdiamond" x="378.9" y="619.3"/>
<use href="#bbdiamond" x="379.4" y="619"/>
<use href="#bbdiamond" x="380" y="618.6"/>
<use href="#bbdiamond" x="380.5" y="618.3"/>
<use href="#bbdiamond" x="381.1" y="617.9"/>
<use href="#bbdiamond" x="381.6" y="617.6"/>
<use href="#bbdiamond" x="382.2" y="617.3"/>
<use href="#bbdiamond" x="382.7" y="616.9"/>
<use href="#bbdiamond" x="383.3" y="616.6"/>
<use href="#bbdiamond" x="383.8" y="616.3"/>
<use href="#bbdiamond" x="384.4" y="616"/>
<use href="#bbdiamond" x="384.9" y="615.7"/>
<use href="#bbdiamond" x="385.5" y="615.4"/>
<use href="#bbdiamond" x="386" y="615.2"/>
<use href="#bbdiamond" x="386.6" y="614.9"/>
<use href="#bbdiamond" x="387.2" y="614.6"/>
<use href="#bbdiamond" x="387.8" y="614.3"/>
<use href="#bbdiamond" x="388.4" y="614"/>
<use href="#bbdiamond" x="389" y="613.8"/>
<use href="#bbdiamond" x="389.6" y="613.5"/>
<use href="#bbdiamond" x="390.2" y="613.2"/>
<use href="#bbdiamond" x="390.8" y="613"/>
<use href="#bbdiamond" x="391.3" y="612.7"/>
<use href="#bbdiamond" x="391.9" y="612.5"/>
<use href="#bbdiamond" x="392.5" y="612.3"/>
<use href="#bbdiamond" x="393.1" y="612"/>
<use href="#bbdiamond" x="393.7" y="611.8"/>
<use href="#bbdiamond" x="394.3" y="611.6"/>
<use href="#bbdiamond" x="394.9" y="611.4"/>
<use href="#bbdiamond" x="395.5" y="611.1"/>
<use href="#bbdiamond" x="396" y="610.9"/>
<use href="#bbdiamond" x="396.6" y="610.7"/>
<use href="#bbdiamond" x="397.2" y="610.5"/>
<use href="#bbdiamond" x="397.8" y="610.3"/>
<use href="#bbdiamond" x="398.4" y="610.1"/>
<use href="#bbdiamond" x="399" y="609.9"/>
<use href="#bbdiamond" x="399.6" y="609.8"/>
<use href="#bbdiamond" x="400.2" y="609.6"/>
<use href="#bbdiamond" x="400.8" y="609.4"/>
<use href="#bbdiamond" x="401.3" y="609.2"/>
<use href="#bbdiamond" x="401.9" y="609"/>
<use href="#bbdiamond" x="402.5" y="608.9"/>
<use href="#bbdiamond" x="403.1" y="608.7"/>
<use href="#bbdiamond" x="403.7" y="608.5"/>
<use href="#bbdiamond" x="404.3" y="608.4"/>
<use href="#bbdiamond" x="404.9" y="608.2"/>
<use href="#bbdiamond" x="405.5" y="608.1"/>
<use href="#bbdiamond" x="406" y="607.9"/>
<use href="#bbdiamond" x="406.6" y="607.8"/>
<use href="#bbdiamond" x="407.2" y="607.6"/>
<use href="#bbdiamond" x="407.8" y="607.5"/>
<use href="#bbdiamond" x="408.4" y="607.4"/>
<use href="#bbdiamond" x="409" y="607.2"/>
<use href="#bbdiamond" x="409.6" y="607.1"/>
<use href="#bbdiamond" x="410.2" y="607"/>
<use href="#bbdiamond" x="410.8" y="606.9"/>
<use href="#bbdiamond" x="411.3" y="606.7"/>
<use href="#bbdiamond" x="411.9" y="606.6"/>
<use href="#bbdiamond" x="412.5" y="606.5"/>
<use href="#bbdiamond" x="413.1" y="606.4"/>
<use href="#bbdiamond" x="413.7" y="606.3"/>
<use href="#bbdiamond" x="414.3" y="606.2"/>
<use href="#bbdiamond" x="414.9" y="606.1"/>
<use href="#bbdiamond" x="415.5" y="606"/>
<use href="#bbdiamond" x="659.8" y="605.4"/>
</g>
<path d="M85.5,1052.3 C92.2,1052.3 115.1,1052.2 125.8,1052.1 C136.5,1052 142.8,1051.9 149.6,1051.7 C156.3,1051.5 161.5,1051.1 166.4,1050.8 C171.3,1050.5 175.2,1050.2 179,1049.8 C182.9,1049.4 186.2,1048.8 189.4,1048.2 C192.6,1047.7 195.6,1047.1 198.4,1046.6 C201.1,1046.1 203.7,1045.6 206.1,1045.1 C208.5,1044.6 210.8,1044.2 212.9,1043.8 C215.1,1043.3 217.1,1043 219,1042.4 C221,1041.9 222.8,1041.3 224.6,1040.6 C226.3,1039.8 228,1038.9 229.6,1037.8 C231.2,1036.8 232.8,1035.5 234.3,1034.1 C235.7,1032.8 237.2,1031.3 238.6,1029.9 C239.9,1028.4 241.3,1026.8 242.6,1025.3 C243.8,1023.8 245.1,1022.3 246.3,1020.8 C247.5,1019.4 248.7,1017.9 249.8,1016.5 C251,1015 252.1,1013.6 253.1,1012.2 C254.2,1010.8 255.2,1009.4 256.3,1008.1 C257.3,1006.7 258.3,1005.3 259.2,1004 C260.2,1002.6 261.1,1001.3 262.1,999.9 C263,998.6 263.9,997.2 264.8,995.9 C265.6,994.6 266.5,993.3 267.3,991.9 C268.2,990.6 269,989.3 269.8,988 C270.6,986.7 271.4,985.3 272.2,984 C273,982.7 273.7,981.4 274.5,980.1 C275.2,978.8 275.9,977.4 276.6,976.1 C277.4,974.8 278.1,973.5 278.8,972.2 C279.4,970.9 280.1,969.6 280.8,968.2 C281.5,966.9 282.1,965.6 282.8,964.3 C283.4,963 284,961.7 284.7,960.4 C285.3,959.1 285.9,957.8 286.5,956.5 C287.1,955.2 287.7,953.9 288.3,952.6 C288.9,951.3 289.4,950 290,948.7 C290.6,947.4 291.1,946.1 291.7,944.9 C292.2,943.6 292.8,942.3 293.3,941 C293.9,939.7 294.4,938.4 294.9,937.2 C295.4,935.9 296,934.6 296.5,933.3 C297,932.1 297.5,930.8 298,929.5 C298.5,928.3 299,927 299.4,925.7 C299.9,924.5 300.4,923.2 300.9,922 C301.3,920.7 301.8,919.5 302.3,918.2 C302.7,917 303.2,915.7 303.6,914.5 C304.1,913.2 304.5,912 305,910.8 C305.4,909.5 305.8,908.3 306.3,907.1 C306.7,905.8 307.1,904.6 307.5,903.4 C308,902.2 308.4,900.9 308.8,899.7 C309.2,898.5 309.6,897.3 310,896.1 C310.4,894.9 310.8,893.6 311.2,892.4 C311.6,891.2 312,890 312.4,888.8 C312.8,887.6 313.1,886.4 313.5,885.2 C313.9,884 314.3,882.8 314.7,881.7 C315,880.5 315.4,879.3 315.8,878.1 C316.1,876.9 316.5,875.7 316.9,874.5 L318,870.8 L319.1,867.1 L320.2,863.4 L321.3,859.6 L322.4,855.7 L323.5,851.8 L324.6,847.8 L325.7,843.8 L326.8,839.8 L327.9,835.7 L329,831.6 L330.1,827.5 L331.2,823.3 L332.3,819.2 L333.4,815 L334.5,810.8 L335.6,806.6 L336.7,802.3 L337.8,798.1 L338.9,793.9 L340,789.6 L341.1,785.4 L342.2,781.2 L343.3,777 L344.4,772.8 L345.5,768.7 L346.6,764.6 L347.7,760.4 L348.8,756.4 L349.9,752.3 L351.1,748.3 L352.2,744.4 L353.3,740.5 L354.4,736.6 L355.5,732.8 L356.6,729 L357.7,725.3 L358.8,721.7 L359.9,718.1 L361,714.6 L362.1,711.2 L363.2,707.8 L364.3,704.5 L365.4,701.3 L366.5,698.2 L367.6,695.2 L368.7,692.2 L369.8,689.2 L370.9,686.3 L372,683.4 L373.1,680.4 L374.2,677.5 L375.3,674.5 L376.4,671.4 L377.5,668.4 L378.6,665.3 L379.7,662.2 L380.8,659.1 L381.9,656.1 L383,653 L384.1,650.1 L385.2,647.1 L386.3,644.2 L387.4,641.4 L388.6,638.7 L389.7,636.1 L390.8,633.6 L391.9,631.2 L393,628.9 L394.1,626.8 L395.2,624.8 L396.3,623 L397.4,621.4 L398.5,619.9 L399.6,618.6 L400.7,617.5 L401.8,616.5 L402.9,615.6 L404,614.8 L405.1,614.1 L406.2,613.6 L407.3,613 L408.4,612.6 L409.5,612.2 L410.6,611.8 L411.7,611.5 L412.8,611.1 L413.9,610.8 L415,610.5 L416.1,610.1 L417.2,609.8 L418.3,609.5 L419.4,609.2 L420.5,608.9 L421.6,608.6 L422.7,608.4 L423.8,608.1 L424.9,607.8 L426.1,607.6 L427.2,607.4 L428.3,607.1 L429.4,606.9 L430.5,606.7 L431.6,606.5 L432.7,606.4 L433.8,606.2 L434.9,606 L436,605.9 L437.1,605.7 L438.2,605.6 L439.3,605.5 L440.4,605.4 L441.5,605.4 L442.6,605.4 L443.7,605.4 L444.8,605.4 L445.9,605.4 L447,605.4 L448.1,605.4 L449.2,605.4 L450.3,605.4 L451.4,605.4 L452.5,605.4 L453.6,605.4 L454.7,605.4 L455.8,605.4 L456.9,605.4 L458,605.4 L459.1,605.4 L460.2,605.4 L461.3,605.4 L462.4,605.4 L463.6,605.4 L464.7,605.4 L465.8,605.4 L466.9,605.4 L468,605.4 L469.1,605.4 L470.2,605.4 L471.3,605.4 L472.4,605.4 L473.5,605.4 L474.6,605.4 L475.7,605.4 L476.8,605.4 L477.9,605.4 L479,605.4 L480.1,605.4 L481.2,605.4 L482.3,605.4 L483.4,605.4 L484.5,605.4 L485.6,605.4 L486.7,605.4 L487.8,605.4 L488.9,605.4 L490,605.4 L491.1,605.4 L492.2,605.4 L493.3,605.4 L494.4,605.4 L495.5,605.4 L496.6,605.4 L497.7,605.4 L498.8,605.4 L499.9,605.4 L501.1,605.4 L502.2,605.4 L503.3,605.4 L504.4,605.4 L505.5,605.4 L506.6,605.4 L507.7,605.4 L508.8,605.4 L509.9,605.4 L511,605.4 L512.1,605.4 L513.2,605.4 L514.3,605.4 L515.4,605.4 L516.5,605.4 L517.6,605.4 L518.7,605.4 L519.8,605.4 L520.9,605.4 L522,605.4 L523.1,605.4 L524.2,605.4 L525.3,605.4 L526.4,605.4 L527.5,605.4 L528.6,605.4 L529.7,605.4 L530.8,605.4 L531.9,605.4 L533,605.4 L534.1,605.4 L535.2,605.4 L536.3,605.4 L537.4,605.4 L538.6,605.4 L539.7,605.4 L540.8,605.4 L541.9,605.4 L543,605.4 L544.1,605.4 L545.2,605.4 L546.3,605.4 L547.4,605.4 L548.5,605.4 L549.6,605.4 L550.7,605.4 L551.8,605.4 L552.9,605.4 L554,605.4 L555.1,605.4 L556.2,605.4 L557.3,605.4 L558.4,605.4 L559.5,605.4 L560.6,605.4 L561.7,605.4 L562.8,605.4 L563.9,605.4 L565,605.4 L566.1,605.4 L567.2,605.4 L568.3,605.4 L569.4,605.4 L570.5,605.4 L571.6,605.4 L572.7,605.4 L573.8,605.4 L574.9,605.4 L576.1,605.4 L577.2,605.4 L578.3,605.4 L579.4,605.4 L580.5,605.4 L581.6,605.4 L582.7,605.4 L583.8,605.4 L584.9,605.4 L586,605.4 L587.1,605.4 L588.2,605.4 L589.3,605.4 L590.4,605.4 L591.5,605.4 L592.6,605.4 L593.7,605.4 L594.8,605.4 L595.9,605.4 L597,605.4 L598.1,605.4 L599.2,605.4 L600.3,605.4 L601.4,605.4 L602.5,605.4 L603.6,605.4 L604.7,605.4 L605.8,605.4 L606.9,605.4 L608,605.4 L609.1,605.4 L610.2,605.4 L611.3,605.4 L612.4,605.4 L613.6,605.4 L614.7,605.4 L615.8,605.4 L616.9,605.4 L618,605.4 L619.1,605.4 L620.2,605.4 L621.3,605.4 L622.4,605.4 L623.5,605.4 L624.6,605.4 L625.7,605.4 L626.8,605.4 L627.9,605.4 L629,605.4 L630.1,605.4 L631.2,605.4 L632.3,605.4 L633.4,605.4 L634.5,605.4 L635.6,605.4 L636.7,605.4 L637.8,605.4 L638.9,605.4 L640,605.4 L641.1,605.4 L642.2,605.4 L643.3,605.4 L644.4,605.4 L645.5,605.4 L646.6,605.4 L647.7,605.4 L648.8,605.4 L649.9,605.4 L651.1,605.4 L652.2,605.4 L653.3,605.4 L654.4,605.4 L655.5,605.4 L656.6,605.4 L657.7,605.4 L658.8,605.4 L659.8,605.4" fill="none" stroke="#4BACC6" stroke-width="1"/>
<path d="M435.5,605.9 L436.6,605.8 L437.7,605.7 L438.8,605.5 L439.9,605.4 L441,605.4 L442.1,605.4 L443.2,605.4 L444.3,605.4 L445.4,605.4 L446.5,605.4 L447.6,605.4 L448.7,605.4 L449.8,605.4 L450.9,605.4 L452,605.4 L453.1,605.4 L454.2,605.4 L455.3,605.4 L456.4,605.4 L457.5,605.4 L458.6,605.4 L459.7,605.4 L460.8,605.4 L462,605.4 L463.1,605.4 L464.2,605.4 L465.3,605.4 L466.4,605.4 L467.5,605.4 L468.6,605.4 L469.7,605.4 L470.8,605.4 L471.9,605.4 L473,605.4 L474.1,605.4 L475.2,605.4 L476.3,605.4 L477.4,605.4 L478.5,605.4 L479.6,605.4 L480.7,605.4 L481.8,605.4 L482.9,605.4 L484,605.4 L485.1,605.4 L486.2,605.4 L487.3,605.4 L488.4,605.4 L489.5,605.4 L490.6,605.4 L491.7,605.4 L492.8,605.4 L493.9,605.4 L495,605.4 L496.1,605.4 L497.2,605.4 L498.3,605.4 L499.5,605.4 L500.6,605.4 L501.7,605.4 L502.8,605.4 L503.9,605.4 L505,605.4 L506.1,605.4 L507.2,605.4 L508.3,605.4 L509.4,605.4 L510.5,605.4 L511.6,605.4 L512.7,605.4 L513.8,605.4 L514.9,605.4 L516,605.4 L517.1,605.4 L518.2,605.4 L519.3,605.4 L520.4,605.4 L521.5,605.4 L522.6,605.4 L523.7,605.4 L524.8,605.4 L525.9,605.4 L527,605.4 L528.1,605.4 L529.2,605.4 L530.3,605.4 L531.4,605.4 L532.5,605.4 L533.6,605.4 L534.7,605.4 L535.8,605.4 L537,605.4 L538.1,605.4 L539.2,605.4 L540.3,605.4 L541.4,605.4 L542.5,605.4 L543.6,605.4 L544.7,605.4 L545.8,605.4 L546.9,605.4 L548,605.4 L549.1,605.4 L550.2,605.4 L551.3,605.4 L552.4,605.4 L553.5,605.4 L554.6,605.4 L555.7,605.4 L556.8,605.4 L557.9,605.4 L559,605.4 L560.1,605.4 L561.2,605.4 L562.3,605.4 L563.4,605.4 L564.5,605.4 L565.6,605.4 L566.7,605.4 L567.8,605.4 L568.9,605.4 L570,605.4 L571.1,605.4 L572.2,605.4 L573.3,605.4 L574.5,605.4 L575.6,605.4 L576.7,605.4 L577.8,605.4 L578.9,605.4 L580,605.4 L581.1,605.4 L582.2,605.4 L583.3,605.4 L584.4,605.4 L585.5,605.4 L586.6,605.4 L587.7,605.4 L588.8,605.4 L589.9,605.4 L591,605.4 L592.1,605.4 L593.2,605.4 L594.3,605.4 L595.4,605.4 L596.5,605.4 L597.6,605.4 L598.7,605.4 L599.8,605.4 L600.9,605.4 L602,605.4 L603.1,605.4 L604.2,605.4 L605.3,605.4 L606.4,605.4 L607.5,605.4 L608.6,605.4 L609.7,605.4 L610.8,605.4 L612,605.4 L613.1,605.4 L614.2,605.4 L615.3,605.4 L616.4,605.4 L617.5,605.4 L618.6,605.4 L619.7,605.4 L620.8,605.4 L621.9,605.4 L623,605.4 L624.1,605.4 L625.2,605.4 L626.3,605.4 L627.4,605.4 L628.5,605.4 L629.6,605.4 L630.7,605.4 L631.8,605.4 L632.9,605.4 L634,605.4 L635.1,605.4 L636.2,605.4 L637.3,605.4 L638.4,605.4 L639.5,605.4 L640.6,605.4 L641.7,605.4 L642.8,605.4 L643.9,605.4 L645,605.4 L646.1,605.4 L647.2,605.4 L648.3,605.4 L649.5,605.4 L650.6,605.4 L651.7,605.4 L652.8,605.4 L653.9,605.4 L655,605.4 L656.1,605.4 L657.2,605.4 L658.3,605.4 L659.4,605.4 L660.5,605.4 L661.6,605.4 L662.3,605.4" fill="none" stroke="#4BACC6" stroke-width="7.6" stroke-linecap="butt" stroke-linejoin="round"/>
<g fill="none" stroke="#4BACC6">
<use href="#basterisk" x="85.5" y="1052.3"/>
<use href="#basterisk" x="125.8" y="1052.1"/>
<use href="#basterisk" x="149.6" y="1051.7"/>
<use href="#basterisk" x="166.4" y="1050.8"/>
<use href="#basterisk" x="179" y="1049.8"/>
<use href="#basterisk" x="189.4" y="1048.2"/>
<use href="#basterisk" x="198.4" y="1046.6"/>
<use href="#basterisk" x="206.1" y="1045.1"/>
<use href="#basterisk" x="212.9" y="1043.8"/>
<use href="#basterisk" x="219" y="1042.4"/>
<use href="#basterisk" x="224.6" y="1040.6"/>
<use href="#basterisk" x="229.6" y="1037.8"/>
<use href="#basterisk" x="234.3" y="1034.1"/>
<use href="#basterisk" x="238.6" y="1029.9"/>
<use href="#basterisk" x="242.6" y="1025.3"/>
<use href="#basterisk" x="246.3" y="1020.8"/>
<use href="#basterisk" x="249.8" y="1016.5"/>
<use href="#basterisk" x="253.1" y="1012.2"/>
<use href="#basterisk" x="256.3" y="1008.1"/>
<use href="#basterisk" x="259.2" y="1004"/>
<use href="#basterisk" x="262.1" y="999.9"/>
<use href="#basterisk" x="264.8" y="995.9"/>
<use href="#basterisk" x="267.3" y="991.9"/>
<use href="#basterisk" x="269.8" y="988"/>
<use href="#basterisk" x="272.2" y="984"/>
<use href="#basterisk" x="274.5" y="980.1"/>
<use href="#basterisk" x="276.6" y="976.1"/>
<use href="#basterisk" x="278.8" y="972.2"/>
<use href="#basterisk" x="280.8" y="968.2"/>
<use href="#basterisk" x="282.8" y="964.3"/>
<use href="#basterisk" x="284.7" y="960.4"/>
<use href="#basterisk" x="286.5" y="956.5"/>
<use href="#basterisk" x="288.3" y="952.6"/>
<use href="#basterisk" x="290" y="948.7"/>
<use href="#basterisk" x="291.7" y="944.9"/>
<use href="#basterisk" x="293.3" y="941"/>
<use href="#basterisk" x="294.9" y="937.2"/>
<use href="#basterisk" x="296.5" y="933.3"/>
<use href="#basterisk" x="298" y="929.5"/>
<use href="#basterisk" x="299.4" y="925.7"/>
<use href="#basterisk" x="300.9" y="922"/>
<use href="#basterisk" x="302.3" y="918.2"/>
<use href="#basterisk" x="303.6" y="914.5"/>
<use href="#basterisk" x="305" y="910.8"/>
<use href="#basterisk" x="306.3" y="907.1"/>
<use href="#basterisk" x="307.5" y="903.4"/>
<use href="#basterisk" x="308.8" y="899.7"/>
<use href="#basterisk" x="310" y="896.1"/>
<use href="#basterisk" x="311.2" y="892.4"/>
<use href="#basterisk" x="312.4" y="888.8"/>
<use href="#basterisk" x="313.5" y="885.2"/>
<use href="#basterisk" x="314.7" y="881.7"/>
<use href="#basterisk" x="315.8" y="878.1"/>
<use href="#basterisk" x="316.8" y="874.5"/>
<use href="#basterisk" x="317.9" y="871"/>
<use href="#basterisk" x="318.9" y="867.5"/>
<use href="#basterisk" x="320" y="864"/>
<use href="#basterisk" x="321" y="860.6"/>
<use href="#basterisk" x="322" y="857.1"/>
<use href="#basterisk" x="323" y="853.7"/>
<use href="#basterisk" x="323.9" y="850.2"/>
<use href="#basterisk" x="324.9" y="846.8"/>
<use href="#basterisk" x="325.8" y="843.5"/>
<use href="#basterisk" x="326.7" y="840.1"/>
<use href="#basterisk" x="327.6" y="836.8"/>
<use href="#basterisk" x="328.5" y="833.5"/>
<use href="#basterisk" x="329.3" y="830.3"/>
<use href="#basterisk" x="330.2" y="827.1"/>
<use href="#basterisk" x="331.1" y="823.9"/>
<use href="#basterisk" x="331.9" y="820.7"/>
<use href="#basterisk" x="332.7" y="817.6"/>
<use href="#basterisk" x="333.5" y="814.5"/>
<use href="#basterisk" x="334.3" y="811.5"/>
<use href="#basterisk" x="335.1" y="808.5"/>
<use href="#basterisk" x="335.9" y="805.5"/>
<use href="#basterisk" x="336.7" y="802.5"/>
<use href="#basterisk" x="337.4" y="799.6"/>
<use href="#basterisk" x="338.2" y="796.8"/>
<use href="#basterisk" x="338.9" y="793.9"/>
<use href="#basterisk" x="339.6" y="791.1"/>
<use href="#basterisk" x="340.4" y="788.4"/>
<use href="#basterisk" x="341.1" y="785.7"/>
<use href="#basterisk" x="341.8" y="783"/>
<use href="#basterisk" x="342.5" y="780.3"/>
<use href="#basterisk" x="343.1" y="777.7"/>
<use href="#basterisk" x="343.8" y="775.1"/>
<use href="#basterisk" x="344.5" y="772.6"/>
<use href="#basterisk" x="345.2" y="770.1"/>
<use href="#basterisk" x="345.8" y="767.6"/>
<use href="#basterisk" x="346.5" y="765.2"/>
<use href="#basterisk" x="347.1" y="762.8"/>
<use href="#basterisk" x="347.7" y="760.5"/>
<use href="#basterisk" x="348.4" y="758.1"/>
<use href="#basterisk" x="349" y="755.9"/>
<use href="#basterisk" x="349.6" y="753.6"/>
<use href="#basterisk" x="350.2" y="751.4"/>
<use href="#basterisk" x="350.8" y="749.2"/>
<use href="#basterisk" x="351.4" y="747.1"/>
<use href="#basterisk" x="352" y="745"/>
<use href="#basterisk" x="352.6" y="742.9"/>
<use href="#basterisk" x="353.2" y="740.8"/>
<use href="#basterisk" x="353.7" y="738.8"/>
<use href="#basterisk" x="354.3" y="736.8"/>
<use href="#basterisk" x="354.8" y="734.9"/>
<use href="#basterisk" x="355.4" y="733"/>
<use href="#basterisk" x="356" y="731.1"/>
<use href="#basterisk" x="356.5" y="729.2"/>
<use href="#basterisk" x="357" y="727.4"/>
<use href="#basterisk" x="357.6" y="725.6"/>
<use href="#basterisk" x="358.1" y="723.9"/>
<use href="#basterisk" x="358.6" y="722.1"/>
<use href="#basterisk" x="359.1" y="720.4"/>
<use href="#basterisk" x="359.7" y="718.8"/>
<use href="#basterisk" x="360.2" y="717.1"/>
<use href="#basterisk" x="360.7" y="715.5"/>
<use href="#basterisk" x="361.2" y="713.9"/>
<use href="#basterisk" x="361.7" y="712.3"/>
<use href="#basterisk" x="362.2" y="710.8"/>
<use href="#basterisk" x="362.7" y="709.2"/>
<use href="#basterisk" x="363.2" y="707.6"/>
<use href="#basterisk" x="363.8" y="706"/>
<use href="#basterisk" x="364.3" y="704.4"/>
<use href="#basterisk" x="364.9" y="702.7"/>
<use href="#basterisk" x="365.4" y="701.2"/>
<use href="#basterisk" x="366" y="699.6"/>
<use href="#basterisk" x="366.5" y="698.1"/>
<use href="#basterisk" x="367.1" y="696.5"/>
<use href="#basterisk" x="367.7" y="694.9"/>
<use href="#basterisk" x="368.3" y="693.3"/>
<use href="#basterisk" x="368.9" y="691.7"/>
<use href="#basterisk" x="369.5" y="690.2"/>
<use href="#basterisk" x="370" y="688.6"/>
<use href="#basterisk" x="370.6" y="687"/>
<use href="#basterisk" x="371.2" y="685.5"/>
<use href="#basterisk" x="371.8" y="683.9"/>
<use href="#basterisk" x="372.4" y="682.3"/>
<use href="#basterisk" x="373" y="680.8"/>
<use href="#basterisk" x="373.6" y="679.2"/>
<use href="#basterisk" x="374.2" y="677.6"/>
<use href="#basterisk" x="374.7" y="676"/>
<use href="#basterisk" x="375.3" y="674.4"/>
<use href="#basterisk" x="375.9" y="672.8"/>
<use href="#basterisk" x="376.5" y="671.2"/>
<use href="#basterisk" x="377.1" y="669.6"/>
<use href="#basterisk" x="377.7" y="668"/>
<use href="#basterisk" x="378.2" y="666.5"/>
<use href="#basterisk" x="378.8" y="664.9"/>
<use href="#basterisk" x="379.3" y="663.4"/>
<use href="#basterisk" x="379.9" y="661.9"/>
<use href="#basterisk" x="380.4" y="660.3"/>
<use href="#basterisk" x="381" y="658.8"/>
<use href="#basterisk" x="381.5" y="657.3"/>
<use href="#basterisk" x="382.1" y="655.7"/>
<use href="#basterisk" x="382.7" y="654.1"/>
<use href="#basterisk" x="383.2" y="652.5"/>
<use href="#basterisk" x="383.8" y="650.9"/>
<use href="#basterisk" x="384.4" y="649.3"/>
<use href="#basterisk" x="385" y="647.7"/>
<use href="#basterisk" x="385.6" y="646.2"/>
<use href="#basterisk" x="386.2" y="644.7"/>
<use href="#basterisk" x="386.8" y="643.1"/>
<use href="#basterisk" x="387.4" y="641.6"/>
<use href="#basterisk" x="388" y="640"/>
<use href="#basterisk" x="388.6" y="638.5"/>
<use href="#basterisk" x="389.3" y="637"/>
<use href="#basterisk" x="389.9" y="635.4"/>
<use href="#basterisk" x="390.6" y="633.9"/>
<use href="#basterisk" x="391.3" y="632.5"/>
<use href="#basterisk" x="392" y="631"/>
<use href="#basterisk" x="392.7" y="629.5"/>
<use href="#basterisk" x="393.4" y="628.1"/>
<use href="#basterisk" x="394.1" y="626.7"/>
<use href="#basterisk" x="394.9" y="625.3"/>
<use href="#basterisk" x="395.7" y="623.9"/>
<use href="#basterisk" x="396.5" y="622.6"/>
<use href="#basterisk" x="397.4" y="621.3"/>
<use href="#basterisk" x="398.3" y="620.1"/>
<use href="#basterisk" x="399.3" y="618.9"/>
<use href="#basterisk" x="400.3" y="617.8"/>
<use href="#basterisk" x="401.3" y="616.9"/>
<use href="#basterisk" x="402.4" y="616"/>
<use href="#basterisk" x="403.5" y="615.1"/>
<use href="#basterisk" x="404.6" y="614.4"/>
<use href="#basterisk" x="405.8" y="613.7"/>
<use href="#basterisk" x="407" y="613.2"/>
<use href="#basterisk" x="408.2" y="612.7"/>
<use href="#basterisk" x="409.5" y="612.2"/>
<use href="#basterisk" x="410.7" y="611.8"/>
<use href="#basterisk" x="412" y="611.4"/>
<use href="#basterisk" x="413.2" y="611"/>
<use href="#basterisk" x="414.5" y="610.6"/>
<use href="#basterisk" x="415.7" y="610.3"/>
<use href="#basterisk" x="417" y="609.9"/>
<use href="#basterisk" x="417.5" y="609.7"/>
<use href="#basterisk" x="418" y="609.6"/>
<use href="#basterisk" x="418.5" y="609.5"/>
<use href="#basterisk" x="419" y="609.3"/>
<use href="#basterisk" x="419.5" y="609.2"/>
<use href="#basterisk" x="420" y="609"/>
<use href="#basterisk" x="420.6" y="608.9"/>
<use href="#basterisk" x="421.1" y="608.8"/>
<use href="#basterisk" x="421.6" y="608.7"/>
<use href="#basterisk" x="422.1" y="608.5"/>
<use href="#basterisk" x="422.6" y="608.4"/>
<use href="#basterisk" x="423.1" y="608.3"/>
<use href="#basterisk" x="423.6" y="608.1"/>
<use href="#basterisk" x="424.2" y="608"/>
<use href="#basterisk" x="424.7" y="607.9"/>
<use href="#basterisk" x="425.2" y="607.8"/>
<use href="#basterisk" x="425.7" y="607.7"/>
<use href="#basterisk" x="426.2" y="607.6"/>
<use href="#basterisk" x="426.7" y="607.5"/>
<use href="#basterisk" x="427.2" y="607.4"/>
<use href="#basterisk" x="427.8" y="607.2"/>
<use href="#basterisk" x="428.3" y="607.1"/>
<use href="#basterisk" x="428.8" y="607"/>
<use href="#basterisk" x="429.3" y="606.9"/>
<use href="#basterisk" x="429.8" y="606.9"/>
<use href="#basterisk" x="430.3" y="606.8"/>
<use href="#basterisk" x="430.8" y="606.7"/>
<use href="#basterisk" x="431.4" y="606.6"/>
<use href="#basterisk" x="431.9" y="606.5"/>
<use href="#basterisk" x="432.4" y="606.4"/>
<use href="#basterisk" x="432.9" y="606.3"/>
<use href="#basterisk" x="433.4" y="606.2"/>
<use href="#basterisk" x="433.9" y="606.2"/>
<use href="#basterisk" x="434.5" y="606.1"/>
<use href="#basterisk" x="435" y="606"/>
<use href="#basterisk" x="435.5" y="605.9"/>
</g>
<path d="M85.5,1052.3 C92.2,1052.3 115.1,1052.2 125.8,1052.2 C136.5,1052.2 142.8,1052.1 149.6,1052.1 C156.3,1052 161.5,1052 166.4,1051.9 C171.3,1051.8 175.2,1051.7 179,1051.6 C182.9,1051.5 186.2,1051.3 189.4,1051.1 C192.6,1050.9 195.6,1050.7 198.4,1050.5 C201.1,1050.3 203.7,1050.1 206.1,1049.9 C208.5,1049.7 210.8,1049.5 212.9,1049.2 C215.1,1049 217.1,1048.8 219,1048.5 C221,1048.3 222.8,1048 224.6,1047.8 C226.3,1047.5 228,1047.2 229.6,1046.9 C231.2,1046.6 232.8,1046.3 234.3,1045.9 C235.7,1045.6 237.2,1045.2 238.6,1044.8 C239.9,1044.4 241.3,1044 242.6,1043.6 C243.8,1043.2 245.1,1042.8 246.3,1042.3 C247.5,1041.9 248.7,1041.4 249.8,1040.9 C251,1040.4 252.1,1039.9 253.1,1039.4 C254.2,1038.9 255.2,1038.3 256.3,1037.8 C257.3,1037.3 258.3,1036.7 259.2,1036.1 C260.2,1035.6 261.1,1035 262.1,1034.4 C263,1033.8 263.9,1033.2 264.8,1032.6 C265.6,1032 266.5,1031.3 267.3,1030.7 C268.2,1030.1 269,1029.5 269.8,1028.8 C270.6,1028.2 271.4,1027.5 272.2,1026.9 C273,1026.2 273.7,1025.5 274.5,1024.9 C275.2,1024.2 275.9,1023.5 276.6,1022.9 C277.4,1022.2 278.1,1021.5 278.8,1020.8 C279.4,1020.1 280.1,1019.4 280.8,1018.8 C281.5,1018.1 282.1,1017.4 282.8,1016.7 C283.4,1016 284,1015.3 284.7,1014.6 C285.3,1013.9 285.9,1013.2 286.5,1012.5 C287.1,1011.8 287.7,1011.1 288.3,1010.3 C288.9,1009.6 289.4,1008.9 290,1008.2 C290.6,1007.5 291.1,1006.8 291.7,1006.1 C292.2,1005.4 292.8,1004.7 293.3,1003.9 C293.9,1003.2 294.4,1002.5 294.9,1001.8 C295.4,1001.1 296,1000.4 296.5,999.6 C297,998.9 297.5,998.2 298,997.5 C298.5,996.8 299,996.1 299.4,995.3 C299.9,994.6 300.4,993.9 300.9,993.2 C301.3,992.5 301.8,991.8 302.3,991 C302.7,990.3 303.2,989.6 303.6,988.9 C304.1,988.2 304.5,987.5 305,986.7 C305.4,986 305.8,985.3 306.3,984.6 C306.7,983.9 307.1,983.2 307.5,982.5 C308,981.7 308.4,981 308.8,980.3 C309.2,979.6 309.6,978.9 310,978.2 C310.4,977.5 310.8,976.8 311.2,976.1 C311.6,975.3 312,974.6 312.4,973.9 C312.8,973.2 313.1,972.5 313.5,971.8 C313.9,971.1 314.3,970.4 314.7,969.7 C315,969 315.4,968.3 315.8,967.5 C316.1,966.8 316.5,966.1 316.9,965.4 L318,963.1 L319.1,960.9 L320.2,958.5 L321.3,956.2 L322.4,953.7 L323.5,951.3 L324.6,948.7 L325.7,946.1 L326.8,943.4 L327.9,940.7 L329,937.9 L330.1,935 L331.2,932.1 L332.3,929.1 L333.4,926 L334.5,922.9 L335.6,919.6 L336.7,916.3 L337.8,912.9 L338.9,909.4 L340,905.8 L341.1,902.2 L342.2,898.4 L343.3,894.6 L344.4,890.7 L345.5,886.7 L346.6,882.7 L347.7,878.6 L348.8,874.5 L349.9,870.4 L351.1,866.4 L352.2,862.3 L353.3,858.2 L354.4,854.2 L355.5,850.2 L356.6,846.2 L357.7,842.2 L358.8,838.2 L359.9,834.2 L361,830.2 L362.1,826.2 L363.2,822.1 L364.3,818 L365.4,813.9 L366.5,809.7 L367.6,805.5 L368.7,801.3 L369.8,797 L370.9,792.8 L372,788.5 L373.1,784.3 L374.2,780 L375.3,775.8 L376.4,771.6 L377.5,767.4 L378.6,763.3 L379.7,759.1 L380.8,755 L381.9,750.8 L383,746.7 L384.1,742.6 L385.2,738.6 L386.3,734.5 L387.4,730.5 L388.6,726.4 L389.7,722.4 L390.8,718.5 L391.9,714.6 L393,710.7 L394.1,706.8 L395.2,703 L396.3,699.3 L397.4,695.6 L398.5,691.9 L399.6,688.3 L400.7,684.8 L401.8,681.4 L402.9,678 L404,674.7 L405.1,671.4 L406.2,668.3 L407.3,665.2 L408.4,662.3 L409.5,659.4 L410.6,656.6 L411.7,653.9 L412.8,651.3 L413.9,648.9 L415,646.5 L416.1,644.2 L417.2,642 L418.3,639.9 L419.4,637.9 L420.5,636 L421.6,634.2 L422.7,632.4 L423.8,630.8 L424.9,629.2 L426.1,627.7 L427.2,626.2 L428.3,624.9 L429.4,623.6 L430.5,622.3 L431.6,621.2 L432.7,620.1 L433.8,619 L434.9,618.1 L436,617.2 L437.1,616.3 L438.2,615.5 L439.3,614.7 L440.4,614 L441.5,613.3 L442.6,612.7 L443.7,612.1 L444.8,611.6 L445.9,611 L447,610.6 L448.1,610.1 L449.2,609.7 L450.3,609.3 L451.4,609 L452.5,608.6 L453.6,608.3 L454.7,608 L455.8,607.7 L456.9,607.5 L458,607.2 L459.1,607 L460.2,606.8 L461.3,606.6 L462.4,606.4 L463.6,606.2 L464.7,606 L465.8,605.8 L466.9,605.7 L468,605.6 L469.1,605.5 L470.2,605.4 L471.3,605.4 L472.4,605.4 L473.5,605.4 L474.6,605.4 L475.7,605.4 L476.8,605.4 L477.9,605.4 L479,605.4 L480.1,605.4 L481.2,605.4 L482.3,605.4 L483.4,605.4 L484.5,605.4 L485.6,605.4 L486.7,605.4 L487.8,605.4 L488.9,605.4 L490,605.4 L491.1,605.4 L492.2,605.4 L493.3,605.4 L494.4,605.4 L495.5,605.4 L496.6,605.4 L497.7,605.4 L498.8,605.4 L499.9,605.4 L501.1,605.4 L502.2,605.4 L503.3,605.4 L504.4,605.4 L505.5,605.4 L506.6,605.4 L507.7,605.4 L508.8,605.4 L509.9,605.4 L511,605.4 L512.1,605.4 L513.2,605.4 L514.3,605.4 L515.4,605.4 L516.5,605.4 L517.6,605.4 L518.7,605.4 L519.8,605.4 L520.9,605.4 L522,605.4 L523.1,605.4 L524.2,605.4 L525.3,605.4 L526.4,605.4 L527.5,605.4 L528.6,605.4 L529.7,605.4 L530.8,605.4 L531.9,605.4 L533,605.4 L534.1,605.4 L535.2,605.4 L536.3,605.4 L537.4,605.4 L538.6,605.4 L539.7,605.4 L540.8,605.4 L541.9,605.4 L543,605.4 L544.1,605.4 L545.2,605.4 L546.3,605.4 L547.4,605.4 L548.5,605.4 L549.6,605.4 L550.7,605.4 L551.8,605.4 L552.9,605.4 L554,605.4 L555.1,605.4 L556.2,605.4 L557.3,605.4 L558.4,605.4 L559.5,605.4 L560.6,605.4 L561.7,605.4 L562.8,605.4 L563.9,605.4 L565,605.4 L566.1,605.4 L567.2,605.4 L568.3,605.4 L569.4,605.4 L570.5,605.4 L571.6,605.4 L572.7,605.4 L573.8,605.4 L574.9,605.4 L576.1,605.4 L577.2,605.4 L578.3,605.4 L579.4,605.4 L580.5,605.4 L581.6,605.4 L582.7,605.4 L583.8,605.4 L584.9,605.4 L586,605.4 L587.1,605.4 L588.2,605.4 L589.3,605.4 L590.4,605.4 L591.5,605.4 L592.6,605.4 L593.7,605.4 L594.8,605.4 L595.9,605.4 L597,605.4 L598.1,605.4 L599.2,605.4 L600.3,605.4 L601.4,605.4 L602.5,605.4 L603.6,605.4 L604.7,605.4 L605.8,605.4 L606.9,605.4 L608,605.4 L609.1,605.4 L610.2,605.4 L611.3,605.4 L612.4,605.4 L613.6,605.4 L614.7,605.4 L615.8,605.4 L616.9,605.4 L618,605.4 L619.1,605.4 L620.2,605.4 L621.3,605.4 L622.4,605.4 L623.5,605.4 L624.6,605.4 L625.7,605.4 L626.8,605.4 L627.9,605.4 L629,605.4 L630.1,605.4 L631.2,605.4 L632.3,605.4 L633.4,605.4 L634.5,605.4 L635.6,605.4 L636.7,605.4 L637.8,605.4 L638.9,605.4 L640,605.4 L641.1,605.4 L642.2,605.4 L643.3,605.4 L644.4,605.4 L645.5,605.4 L646.6,605.4 L647.7,605.4 L648.8,605.4 L649.9,605.4 L651.1,605.4 L652.2,605.4 L653.3,605.4 L654.4,605.4 L655.5,605.4 L656.6,605.4 L657.7,605.4 L658.8,605.4 L659.8,605.4" fill="none" stroke="#7B5F9E" stroke-width="1"/>
<path d="M465,605.9 L466.1,605.8 L467.2,605.7 L468.3,605.5 L469.4,605.4 L470.5,605.4 L471.6,605.4 L472.7,605.4 L473.8,605.4 L475,605.4 L476.1,605.4 L477.2,605.4 L478.3,605.4 L479.4,605.4 L480.5,605.4 L481.6,605.4 L482.7,605.4 L483.8,605.4 L484.9,605.4 L486,605.4 L487.1,605.4 L488.2,605.4 L489.3,605.4 L490.4,605.4 L491.5,605.4 L492.6,605.4 L493.7,605.4 L494.8,605.4 L495.9,605.4 L497,605.4 L498.1,605.4 L499.2,605.4 L500.3,605.4 L501.4,605.4 L502.5,605.4 L503.6,605.4 L504.7,605.4 L505.8,605.4 L506.9,605.4 L508,605.4 L509.1,605.4 L510.2,605.4 L511.3,605.4 L512.5,605.4 L513.6,605.4 L514.7,605.4 L515.8,605.4 L516.9,605.4 L518,605.4 L519.1,605.4 L520.2,605.4 L521.3,605.4 L522.4,605.4 L523.5,605.4 L524.6,605.4 L525.7,605.4 L526.8,605.4 L527.9,605.4 L529,605.4 L530.1,605.4 L531.2,605.4 L532.3,605.4 L533.4,605.4 L534.5,605.4 L535.6,605.4 L536.7,605.4 L537.8,605.4 L538.9,605.4 L540,605.4 L541.1,605.4 L542.2,605.4 L543.3,605.4 L544.4,605.4 L545.5,605.4 L546.6,605.4 L547.7,605.4 L548.8,605.4 L550,605.4 L551.1,605.4 L552.2,605.4 L553.3,605.4 L554.4,605.4 L555.5,605.4 L556.6,605.4 L557.7,605.4 L558.8,605.4 L559.9,605.4 L561,605.4 L562.1,605.4 L563.2,605.4 L564.3,605.4 L565.4,605.4 L566.5,605.4 L567.6,605.4 L568.7,605.4 L569.8,605.4 L570.9,605.4 L572,605.4 L573.1,605.4 L574.2,605.4 L575.3,605.4 L576.4,605.4 L577.5,605.4 L578.6,605.4 L579.7,605.4 L580.8,605.4 L581.9,605.4 L583,605.4 L584.1,605.4 L585.2,605.4 L586.3,605.4 L587.5,605.4 L588.6,605.4 L589.7,605.4 L590.8,605.4 L591.9,605.4 L593,605.4 L594.1,605.4 L595.2,605.4 L596.3,605.4 L597.4,605.4 L598.5,605.4 L599.6,605.4 L600.7,605.4 L601.8,605.4 L602.9,605.4 L604,605.4 L605.1,605.4 L606.2,605.4 L607.3,605.4 L608.4,605.4 L609.5,605.4 L610.6,605.4 L611.7,605.4 L612.8,605.4 L613.9,605.4 L615,605.4 L616.1,605.4 L617.2,605.4 L618.3,605.4 L619.4,605.4 L620.5,605.4 L621.6,605.4 L622.7,605.4 L623.8,605.4 L625,605.4 L626.1,605.4 L627.2,605.4 L628.3,605.4 L629.4,605.4 L630.5,605.4 L631.6,605.4 L632.7,605.4 L633.8,605.4 L634.9,605.4 L636,605.4 L637.1,605.4 L638.2,605.4 L639.3,605.4 L640.4,605.4 L641.5,605.4 L642.6,605.4 L643.7,605.4 L644.8,605.4 L645.9,605.4 L647,605.4 L648.1,605.4 L649.2,605.4 L650.3,605.4 L651.4,605.4 L652.5,605.4 L653.6,605.4 L654.7,605.4 L655.8,605.4 L656.9,605.4 L658,605.4 L659.1,605.4 L660.2,605.4 L661.3,605.4 L662.3,605.4" fill="none" stroke="#7B5F9E" stroke-width="7.8" stroke-linecap="butt" stroke-linejoin="round"/>
<g fill="none" stroke="#7B5F9E">
<use href="#bxmark" x="85.5" y="1052.3"/>
<use href="#bxmark" x="125.8" y="1052.2"/>
<use href="#bxmark" x="149.6" y="1052.1"/>
<use href="#bxmark" x="166.4" y="1051.9"/>
<use href="#bxmark" x="179" y="1051.6"/>
<use href="#bxmark" x="189.4" y="1051.1"/>
<use href="#bxmark" x="198.4" y="1050.5"/>
<use href="#bxmark" x="206.1" y="1049.9"/>
<use href="#bxmark" x="212.9" y="1049.2"/>
<use href="#bxmark" x="219" y="1048.5"/>
<use href="#bxmark" x="224.6" y="1047.8"/>
<use href="#bxmark" x="229.6" y="1046.9"/>
<use href="#bxmark" x="234.3" y="1045.9"/>
<use href="#bxmark" x="238.6" y="1044.8"/>
<use href="#bxmark" x="242.6" y="1043.6"/>
<use href="#bxmark" x="246.3" y="1042.3"/>
<use href="#bxmark" x="249.8" y="1040.9"/>
<use href="#bxmark" x="253.1" y="1039.4"/>
<use href="#bxmark" x="256.3" y="1037.8"/>
<use href="#bxmark" x="259.2" y="1036.1"/>
<use href="#bxmark" x="262.1" y="1034.4"/>
<use href="#bxmark" x="264.8" y="1032.6"/>
<use href="#bxmark" x="267.3" y="1030.7"/>
<use href="#bxmark" x="269.8" y="1028.8"/>
<use href="#bxmark" x="272.2" y="1026.9"/>
<use href="#bxmark" x="274.5" y="1024.9"/>
<use href="#bxmark" x="276.6" y="1022.9"/>
<use href="#bxmark" x="278.8" y="1020.8"/>
<use href="#bxmark" x="280.8" y="1018.8"/>
<use href="#bxmark" x="282.8" y="1016.7"/>
<use href="#bxmark" x="284.7" y="1014.6"/>
<use href="#bxmark" x="286.5" y="1012.5"/>
<use href="#bxmark" x="288.3" y="1010.3"/>
<use href="#bxmark" x="290" y="1008.2"/>
<use href="#bxmark" x="291.7" y="1006.1"/>
<use href="#bxmark" x="293.3" y="1003.9"/>
<use href="#bxmark" x="294.9" y="1001.8"/>
<use href="#bxmark" x="296.5" y="999.6"/>
<use href="#bxmark" x="298" y="997.5"/>
<use href="#bxmark" x="299.4" y="995.3"/>
<use href="#bxmark" x="300.9" y="993.2"/>
<use href="#bxmark" x="302.3" y="991"/>
<use href="#bxmark" x="303.6" y="988.9"/>
<use href="#bxmark" x="305" y="986.7"/>
<use href="#bxmark" x="306.3" y="984.6"/>
<use href="#bxmark" x="307.5" y="982.5"/>
<use href="#bxmark" x="308.8" y="980.3"/>
<use href="#bxmark" x="310" y="978.2"/>
<use href="#bxmark" x="311.2" y="976.1"/>
<use href="#bxmark" x="312.4" y="973.9"/>
<use href="#bxmark" x="313.5" y="971.8"/>
<use href="#bxmark" x="314.7" y="969.7"/>
<use href="#bxmark" x="315.8" y="967.5"/>
<use href="#bxmark" x="316.8" y="965.4"/>
<use href="#bxmark" x="317.9" y="963.3"/>
<use href="#bxmark" x="318.9" y="961.1"/>
<use href="#bxmark" x="320" y="959"/>
<use href="#bxmark" x="321" y="956.8"/>
<use href="#bxmark" x="322" y="954.6"/>
<use href="#bxmark" x="323" y="952.5"/>
<use href="#bxmark" x="323.9" y="950.3"/>
<use href="#bxmark" x="324.9" y="948.1"/>
<use href="#bxmark" x="325.8" y="945.9"/>
<use href="#bxmark" x="326.7" y="943.7"/>
<use href="#bxmark" x="327.6" y="941.5"/>
<use href="#bxmark" x="328.5" y="939.2"/>
<use href="#bxmark" x="329.3" y="937"/>
<use href="#bxmark" x="330.2" y="934.7"/>
<use href="#bxmark" x="331.1" y="932.5"/>
<use href="#bxmark" x="331.9" y="930.2"/>
<use href="#bxmark" x="332.7" y="928"/>
<use href="#bxmark" x="333.5" y="925.7"/>
<use href="#bxmark" x="334.3" y="923.4"/>
<use href="#bxmark" x="335.1" y="921.1"/>
<use href="#bxmark" x="335.9" y="918.8"/>
<use href="#bxmark" x="336.7" y="916.5"/>
<use href="#bxmark" x="337.4" y="914.1"/>
<use href="#bxmark" x="338.2" y="911.8"/>
<use href="#bxmark" x="338.9" y="909.5"/>
<use href="#bxmark" x="339.6" y="907.1"/>
<use href="#bxmark" x="340.4" y="904.7"/>
<use href="#bxmark" x="341.1" y="902.4"/>
<use href="#bxmark" x="341.8" y="900"/>
<use href="#bxmark" x="342.5" y="897.6"/>
<use href="#bxmark" x="343.1" y="895.2"/>
<use href="#bxmark" x="343.8" y="892.8"/>
<use href="#bxmark" x="344.5" y="890.5"/>
<use href="#bxmark" x="345.2" y="888.1"/>
<use href="#bxmark" x="345.8" y="885.7"/>
<use href="#bxmark" x="346.5" y="883.3"/>
<use href="#bxmark" x="347.1" y="881"/>
<use href="#bxmark" x="347.7" y="878.6"/>
<use href="#bxmark" x="348.4" y="876.3"/>
<use href="#bxmark" x="349" y="874"/>
<use href="#bxmark" x="349.6" y="871.7"/>
<use href="#bxmark" x="350.2" y="869.5"/>
<use href="#bxmark" x="350.8" y="867.3"/>
<use href="#bxmark" x="351.4" y="865.1"/>
<use href="#bxmark" x="352" y="862.9"/>
<use href="#bxmark" x="352.6" y="860.7"/>
<use href="#bxmark" x="353.2" y="858.6"/>
<use href="#bxmark" x="353.7" y="856.5"/>
<use href="#bxmark" x="354.3" y="854.5"/>
<use href="#bxmark" x="354.8" y="852.4"/>
<use href="#bxmark" x="355.4" y="850.4"/>
<use href="#bxmark" x="356" y="848.4"/>
<use href="#bxmark" x="356.5" y="846.5"/>
<use href="#bxmark" x="357" y="844.5"/>
<use href="#bxmark" x="357.6" y="842.6"/>
<use href="#bxmark" x="358.1" y="840.7"/>
<use href="#bxmark" x="358.6" y="838.8"/>
<use href="#bxmark" x="359.1" y="836.9"/>
<use href="#bxmark" x="359.7" y="835"/>
<use href="#bxmark" x="360.2" y="833.1"/>
<use href="#bxmark" x="360.7" y="831.3"/>
<use href="#bxmark" x="361.2" y="829.5"/>
<use href="#bxmark" x="361.7" y="827.6"/>
<use href="#bxmark" x="362.2" y="825.8"/>
<use href="#bxmark" x="362.7" y="824"/>
<use href="#bxmark" x="363.1" y="822.2"/>
<use href="#bxmark" x="363.6" y="820.5"/>
<use href="#bxmark" x="364.1" y="818.7"/>
<use href="#bxmark" x="364.6" y="816.9"/>
<use href="#bxmark" x="365" y="815.2"/>
<use href="#bxmark" x="365.5" y="813.4"/>
<use href="#bxmark" x="366" y="811.7"/>
<use href="#bxmark" x="366.4" y="809.9"/>
<use href="#bxmark" x="366.9" y="808.2"/>
<use href="#bxmark" x="367.3" y="806.5"/>
<use href="#bxmark" x="367.8" y="804.7"/>
<use href="#bxmark" x="368.2" y="803"/>
<use href="#bxmark" x="368.7" y="801.4"/>
<use href="#bxmark" x="369.1" y="799.7"/>
<use href="#bxmark" x="369.5" y="798"/>
<use href="#bxmark" x="370" y="796.3"/>
<use href="#bxmark" x="370.4" y="794.7"/>
<use href="#bxmark" x="370.8" y="793.1"/>
<use href="#bxmark" x="371.3" y="791.4"/>
<use href="#bxmark" x="371.7" y="789.8"/>
<use href="#bxmark" x="372.1" y="788.2"/>
<use href="#bxmark" x="372.5" y="786.6"/>
<use href="#bxmark" x="372.9" y="785"/>
<use href="#bxmark" x="373.3" y="783.5"/>
<use href="#bxmark" x="373.7" y="781.9"/>
<use href="#bxmark" x="374.1" y="780.4"/>
<use href="#bxmark" x="374.5" y="778.9"/>
<use href="#bxmark" x="374.9" y="777.3"/>
<use href="#bxmark" x="375.3" y="775.8"/>
<use href="#bxmark" x="375.7" y="774.3"/>
<use href="#bxmark" x="376.1" y="772.7"/>
<use href="#bxmark" x="376.5" y="771.2"/>
<use href="#bxmark" x="376.9" y="769.6"/>
<use href="#bxmark" x="377.3" y="768.1"/>
<use href="#bxmark" x="377.7" y="766.6"/>
<use href="#bxmark" x="378.2" y="765"/>
<use href="#bxmark" x="378.6" y="763.5"/>
<use href="#bxmark" x="379" y="762"/>
<use href="#bxmark" x="379.4" y="760.5"/>
<use href="#bxmark" x="379.8" y="759"/>
<use href="#bxmark" x="380.2" y="757.4"/>
<use href="#bxmark" x="380.6" y="755.9"/>
<use href="#bxmark" x="381" y="754.4"/>
<use href="#bxmark" x="381.4" y="752.9"/>
<use href="#bxmark" x="381.8" y="751.4"/>
<use href="#bxmark" x="382.2" y="749.9"/>
<use href="#bxmark" x="382.6" y="748.4"/>
<use href="#bxmark" x="383" y="746.9"/>
<use href="#bxmark" x="383.4" y="745.4"/>
<use href="#bxmark" x="383.8" y="743.7"/>
<use href="#bxmark" x="384.3" y="742.1"/>
<use href="#bxmark" x="384.7" y="740.5"/>
<use href="#bxmark" x="385.2" y="738.8"/>
<use href="#bxmark" x="385.6" y="737.2"/>
<use href="#bxmark" x="386.1" y="735.6"/>
<use href="#bxmark" x="386.5" y="733.9"/>
<use href="#bxmark" x="386.9" y="732.3"/>
<use href="#bxmark" x="387.4" y="730.7"/>
<use href="#bxmark" x="387.8" y="729.1"/>
<use href="#bxmark" x="388.3" y="727.5"/>
<use href="#bxmark" x="388.7" y="725.9"/>
<use href="#bxmark" x="389.1" y="724.3"/>
<use href="#bxmark" x="389.6" y="722.7"/>
<use href="#bxmark" x="390" y="721.1"/>
<use href="#bxmark" x="390.5" y="719.5"/>
<use href="#bxmark" x="390.9" y="717.9"/>
<use href="#bxmark" x="391.3" y="716.4"/>
<use href="#bxmark" x="391.8" y="714.8"/>
<use href="#bxmark" x="392.2" y="713.2"/>
<use href="#bxmark" x="392.7" y="711.7"/>
<use href="#bxmark" x="393.1" y="710.1"/>
<use href="#bxmark" x="393.6" y="708.6"/>
<use href="#bxmark" x="394" y="707.1"/>
<use href="#bxmark" x="394.4" y="705.5"/>
<use href="#bxmark" x="394.9" y="704"/>
<use href="#bxmark" x="395.3" y="702.5"/>
<use href="#bxmark" x="395.8" y="701"/>
<use href="#bxmark" x="396.2" y="699.5"/>
<use href="#bxmark" x="396.6" y="698"/>
<use href="#bxmark" x="397.1" y="696.4"/>
<use href="#bxmark" x="397.6" y="694.8"/>
<use href="#bxmark" x="398.1" y="693.2"/>
<use href="#bxmark" x="398.6" y="691.7"/>
<use href="#bxmark" x="399" y="690.1"/>
<use href="#bxmark" x="399.5" y="688.6"/>
<use href="#bxmark" x="400" y="687"/>
<use href="#bxmark" x="400.5" y="685.5"/>
<use href="#bxmark" x="400.9" y="684"/>
<use href="#bxmark" x="401.4" y="682.5"/>
<use href="#bxmark" x="401.9" y="681"/>
<use href="#bxmark" x="402.4" y="679.5"/>
<use href="#bxmark" x="402.9" y="678"/>
<use href="#bxmark" x="403.4" y="676.4"/>
<use href="#bxmark" x="403.9" y="674.9"/>
<use href="#bxmark" x="404.4" y="673.4"/>
<use href="#bxmark" x="405" y="671.9"/>
<use href="#bxmark" x="405.5" y="670.4"/>
<use href="#bxmark" x="406" y="668.9"/>
<use href="#bxmark" x="406.5" y="667.5"/>
<use href="#bxmark" x="407" y="665.9"/>
<use href="#bxmark" x="407.6" y="664.4"/>
<use href="#bxmark" x="408.2" y="662.9"/>
<use href="#bxmark" x="408.7" y="661.5"/>
<use href="#bxmark" x="409.3" y="660"/>
<use href="#bxmark" x="409.8" y="658.6"/>
<use href="#bxmark" x="410.4" y="657.1"/>
<use href="#bxmark" x="411" y="655.7"/>
<use href="#bxmark" x="411.6" y="654.3"/>
<use href="#bxmark" x="412.2" y="652.9"/>
<use href="#bxmark" x="412.8" y="651.4"/>
<use href="#bxmark" x="413.4" y="650"/>
<use href="#bxmark" x="414" y="648.6"/>
<use href="#bxmark" x="414.7" y="647.2"/>
<use href="#bxmark" x="415.4" y="645.8"/>
<use href="#bxmark" x="416" y="644.4"/>
<use href="#bxmark" x="416.7" y="643.1"/>
<use href="#bxmark" x="417" y="642.5"/>
<use href="#bxmark" x="417.3" y="641.9"/>
<use href="#bxmark" x="417.6" y="641.2"/>
<use href="#bxmark" x="418" y="640.6"/>
<use href="#bxmark" x="418.3" y="640"/>
<use href="#bxmark" x="418.6" y="639.4"/>
<use href="#bxmark" x="419" y="638.8"/>
<use href="#bxmark" x="419.3" y="638.2"/>
<use href="#bxmark" x="419.6" y="637.6"/>
<use href="#bxmark" x="420" y="637"/>
<use href="#bxmark" x="420.3" y="636.4"/>
<use href="#bxmark" x="420.6" y="635.9"/>
<use href="#bxmark" x="420.9" y="635.3"/>
<use href="#bxmark" x="421.3" y="634.8"/>
<use href="#bxmark" x="421.6" y="634.2"/>
<use href="#bxmark" x="422" y="633.6"/>
<use href="#bxmark" x="422.3" y="633.1"/>
<use href="#bxmark" x="422.7" y="632.5"/>
<use href="#bxmark" x="423.1" y="631.9"/>
<use href="#bxmark" x="423.4" y="631.4"/>
<use href="#bxmark" x="423.8" y="630.8"/>
<use href="#bxmark" x="424.2" y="630.3"/>
<use href="#bxmark" x="424.5" y="629.7"/>
<use href="#bxmark" x="424.9" y="629.2"/>
<use href="#bxmark" x="425.3" y="628.7"/>
<use href="#bxmark" x="425.7" y="628.2"/>
<use href="#bxmark" x="426" y="627.7"/>
<use href="#bxmark" x="426.4" y="627.2"/>
<use href="#bxmark" x="426.8" y="626.6"/>
<use href="#bxmark" x="427.2" y="626.1"/>
<use href="#bxmark" x="427.6" y="625.6"/>
<use href="#bxmark" x="428" y="625.1"/>
<use href="#bxmark" x="428.4" y="624.6"/>
<use href="#bxmark" x="428.8" y="624.2"/>
<use href="#bxmark" x="429.3" y="623.7"/>
<use href="#bxmark" x="429.7" y="623.2"/>
<use href="#bxmark" x="430.1" y="622.8"/>
<use href="#bxmark" x="430.5" y="622.3"/>
<use href="#bxmark" x="430.9" y="621.9"/>
<use href="#bxmark" x="431.3" y="621.4"/>
<use href="#bxmark" x="431.8" y="621"/>
<use href="#bxmark" x="432.2" y="620.5"/>
<use href="#bxmark" x="432.6" y="620.1"/>
<use href="#bxmark" x="433.1" y="619.7"/>
<use href="#bxmark" x="433.5" y="619.3"/>
<use href="#bxmark" x="434" y="618.9"/>
<use href="#bxmark" x="434.4" y="618.5"/>
<use href="#bxmark" x="434.8" y="618.1"/>
<use href="#bxmark" x="435.3" y="617.7"/>
<use href="#bxmark" x="435.7" y="617.4"/>
<use href="#bxmark" x="436.2" y="617"/>
<use href="#bxmark" x="436.7" y="616.6"/>
<use href="#bxmark" x="437.2" y="616.2"/>
<use href="#bxmark" x="437.6" y="615.9"/>
<use href="#bxmark" x="438.1" y="615.5"/>
<use href="#bxmark" x="438.6" y="615.2"/>
<use href="#bxmark" x="439.1" y="614.9"/>
<use href="#bxmark" x="439.5" y="614.5"/>
<use href="#bxmark" x="440" y="614.2"/>
<use href="#bxmark" x="440.5" y="613.9"/>
<use href="#bxmark" x="441" y="613.6"/>
<use href="#bxmark" x="441.5" y="613.3"/>
<use href="#bxmark" x="441.9" y="613.1"/>
<use href="#bxmark" x="442.4" y="612.8"/>
<use href="#bxmark" x="442.9" y="612.5"/>
<use href="#bxmark" x="443.4" y="612.3"/>
<use href="#bxmark" x="443.9" y="612"/>
<use href="#bxmark" x="444.4" y="611.7"/>
<use href="#bxmark" x="445" y="611.5"/>
<use href="#bxmark" x="445.5" y="611.2"/>
<use href="#bxmark" x="446" y="611"/>
<use href="#bxmark" x="446.5" y="610.8"/>
<use href="#bxmark" x="447" y="610.6"/>
<use href="#bxmark" x="447.5" y="610.4"/>
<use href="#bxmark" x="448" y="610.2"/>
<use href="#bxmark" x="448.6" y="610"/>
<use href="#bxmark" x="449.1" y="609.8"/>
<use href="#bxmark" x="449.6" y="609.6"/>
<use href="#bxmark" x="450.1" y="609.4"/>
<use href="#bxmark" x="450.6" y="609.2"/>
<use href="#bxmark" x="451.1" y="609.1"/>
<use href="#bxmark" x="451.6" y="608.9"/>
<use href="#bxmark" x="452.2" y="608.7"/>
<use href="#bxmark" x="452.7" y="608.6"/>
<use href="#bxmark" x="453.2" y="608.4"/>
<use href="#bxmark" x="453.7" y="608.3"/>
<use href="#bxmark" x="454.2" y="608.2"/>
<use href="#bxmark" x="454.7" y="608"/>
<use href="#bxmark" x="455.2" y="607.9"/>
<use href="#bxmark" x="455.8" y="607.8"/>
<use href="#bxmark" x="456.3" y="607.6"/>
<use href="#bxmark" x="456.8" y="607.5"/>
<use href="#bxmark" x="457.3" y="607.4"/>
<use href="#bxmark" x="457.8" y="607.3"/>
<use href="#bxmark" x="458.3" y="607.2"/>
<use href="#bxmark" x="458.8" y="607"/>
<use href="#bxmark" x="459.4" y="606.9"/>
<use href="#bxmark" x="459.9" y="606.8"/>
<use href="#bxmark" x="460.4" y="606.7"/>
<use href="#bxmark" x="460.9" y="606.6"/>
<use href="#bxmark" x="461.4" y="606.5"/>
<use href="#bxmark" x="461.9" y="606.4"/>
<use href="#bxmark" x="462.5" y="606.4"/>
<use href="#bxmark" x="463" y="606.3"/>
<use href="#bxmark" x="463.5" y="606.2"/>
<use href="#bxmark" x="464" y="606.1"/>
<use href="#bxmark" x="464.5" y="606"/>
<use href="#bxmark" x="465" y="605.9"/>
</g>
</g>
<text transform="translate(73.9 1060.3) scale(1.2297 1)" font-size="26"><tspan>0</tspan></text>
<text transform="translate(51.5 1015.5) scale(1.2297 1)" font-size="26"><tspan>0.1</tspan></text>
<text transform="translate(51.2 970.8) scale(1.2297 1)" font-size="26"><tspan>0.2</tspan></text>
<text transform="translate(50.9 926.1) scale(1.2297 1)" font-size="26"><tspan>0.3</tspan></text>
<text transform="translate(50.4 881.3) scale(1.2297 1)" font-size="26"><tspan>0.4</tspan></text>
<text transform="translate(51 836.6) scale(1.2297 1)" font-size="26"><tspan>0.5</tspan></text>
<text transform="translate(50.8 791.8) scale(1.2297 1)" font-size="26"><tspan>0.6</tspan></text>
<text transform="translate(50.6 747.1) scale(1.2297 1)" font-size="26"><tspan>0.7</tspan></text>
<text transform="translate(50.9 702.4) scale(1.2297 1)" font-size="26"><tspan>0.8</tspan></text>
<text transform="translate(51 657.6) scale(1.2297 1)" font-size="26"><tspan>0.9</tspan></text>
<text transform="translate(73.7 612.9) scale(1.2297 1)" font-size="26"><tspan>1</tspan></text>
<text transform="translate(109.5 1089.8) scale(1.2677 1)" font-size="25.5"><tspan>1</tspan></text>
<text transform="translate(283 1089.8) scale(1.2677 1)" font-size="25.5"><tspan>10</tspan></text>
<text transform="translate(456.1 1089.8) scale(1.2677 1)" font-size="25.5"><tspan>100</tspan></text>
<text transform="translate(629.5 1089.8) scale(1.2677 1)" font-size="25.5"><tspan>1000</tspan></text>
<text transform="translate(801.8 1089.8) scale(1.2677 1)" font-size="25.5"><tspan>10000</tspan></text>
<text transform="translate(362.9 1119.8) scale(1.2724 1)" font-size="25"><tspan>Dimensionless</tspan></text>
<text transform="translate(566.9 1119.8) scale(1.2766 1)" font-size="25"><tspan>Time</tspan></text>
<text transform="translate(645.2 1119.8) scale(1.2229 1)" font-size="25"><tspan>(t</tspan><tspan font-size="15" dy="0" style="stroke-width:0.1px">D</tspan><tspan>)</tspan></text>
<text transform="translate(27.2 1012.4) scale(1.2580 1.0044) rotate(-90)" font-size="25"><tspan>Dimensionless Concentration  (C</tspan><tspan font-size="13.8" dy="0" style="stroke-width:0.1px">D</tspan><tspan>)</tspan></text>
<g transform="scale(1.36 1)">
<path d="M353.8,849.9H371" stroke="#C0504D" stroke-width="1.25"/>
<use href="#bsquare" transform="translate(363 849.9) scale(1.0 0.85)" fill="#C0504D"/>
<path d="M353.8,893.8H371" stroke="#9BBB59" stroke-width="1.25"/>
<use href="#btriangle" transform="translate(363 893.8) scale(1.0 0.85)" fill="#9BBB59"/>
<path d="M353.8,937.5H371" stroke="#4F81BD" stroke-width="1.25"/>
<use href="#bbdiamond" transform="translate(363 937.5) scale(1.0 0.85)" fill="#4F81BD"/>
<path d="M353.8,981.2H371" stroke="#4BACC6" stroke-width="1.25"/>
<use href="#basterisk" transform="translate(363 981.2) scale(1.0 0.85)" fill="none" stroke="#4BACC6"/>
<path d="M353.8,1024.9H371" stroke="#7B5F9E" stroke-width="1.25"/>
<use href="#bxmark" transform="translate(363 1024.9) scale(1.0 0.85)" fill="none" stroke="#7B5F9E"/>
</g>
<text transform="translate(508.3 859.1) scale(1.2650 1)" font-size="25"><tspan>Porosity</tspan></text>
<text transform="translate(626.3 859.1) scale(1.2724 1)" font-size="25"><tspan>Ratio=1_Grid(20,11)</tspan></text>
<text transform="translate(508.3 903) scale(1.2650 1)" font-size="25"><tspan>Porosity</tspan></text>
<text transform="translate(626.3 903) scale(1.2724 1)" font-size="25"><tspan>Ratio=3_Grid(20,11)</tspan></text>
<text transform="translate(508.3 946.7) scale(1.2650 1)" font-size="25"><tspan>Porosity</tspan></text>
<text transform="translate(626.3 946.7) scale(1.2724 1)" font-size="25"><tspan>Ratio=5_Grid(20,11)</tspan></text>
<text transform="translate(508.3 990.4) scale(1.2650 1)" font-size="25"><tspan>Porosity</tspan></text>
<text transform="translate(626.3 990.4) scale(1.2754 1)" font-size="25"><tspan>Ratio=10_Grid(20,11)</tspan></text>
<text transform="translate(508.3 1034.1) scale(1.2650 1)" font-size="25"><tspan>Porosity</tspan></text>
<text transform="translate(626.3 1034.1) scale(1.2754 1)" font-size="25"><tspan>Ratio=20_Grid(20,11)</tspan></text>
</svg></body></html>
